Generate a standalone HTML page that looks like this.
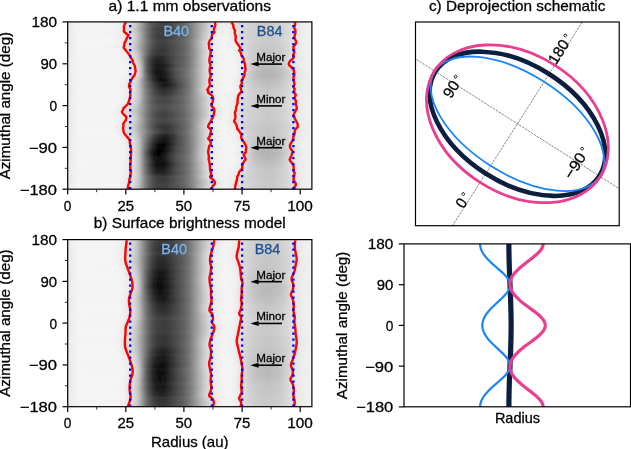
<!DOCTYPE html>
<html><head><meta charset="utf-8"><title>Deprojection figure</title>
<style>
html,body{margin:0;padding:0;background:#fff;}
body{width:631px;height:449px;overflow:hidden;}
svg{display:block;font-family:"Liberation Sans", sans-serif;}
text{stroke:#000;stroke-width:0.28px;}
text.c{stroke:none;}
</style></head><body>
<svg width="631" height="449" viewBox="0 0 631 449">
<rect width="631" height="449" fill="#fff"/>
<defs>
<linearGradient id="a0" gradientUnits="userSpaceOnUse" x1="67.7" x2="311.9" y1="0" y2="0"><stop offset=".000" stop-color="#e7e7e7"/><stop offset=".019" stop-color="#efefef"/><stop offset=".043" stop-color="#f4f4f4"/><stop offset=".190" stop-color="#f4f4f4"/><stop offset=".210" stop-color="#f0f0f0"/><stop offset=".238" stop-color="#e1e1e1"/><stop offset=".257" stop-color="#d9d9d9"/><stop offset=".267" stop-color="#d2d2d2"/><stop offset=".286" stop-color="#bcbcbc"/><stop offset=".319" stop-color="#7f7f7f"/><stop offset=".333" stop-color="#676767"/><stop offset=".352" stop-color="#505050"/><stop offset=".371" stop-color="#464646"/><stop offset=".400" stop-color="#444444"/><stop offset=".457" stop-color="#595959"/><stop offset=".476" stop-color="#646464"/><stop offset=".495" stop-color="#757575"/><stop offset=".552" stop-color="#b6b6b6"/><stop offset=".581" stop-color="#d2d2d2"/><stop offset=".600" stop-color="#e0e0e0"/><stop offset=".614" stop-color="#e8e8e8"/><stop offset=".629" stop-color="#ededed"/><stop offset=".652" stop-color="#efefef"/><stop offset=".690" stop-color="#dddddd"/><stop offset=".752" stop-color="#d0d0d0"/><stop offset=".819" stop-color="#c8c8c8"/><stop offset=".867" stop-color="#cecece"/><stop offset=".900" stop-color="#d7d7d7"/><stop offset=".933" stop-color="#e5e5e5"/><stop offset=".962" stop-color="#ededed"/><stop offset="1.000" stop-color="#f1f1f1"/></linearGradient>
<linearGradient id="a1" gradientUnits="userSpaceOnUse" x1="67.7" x2="311.9" y1="0" y2="0"><stop offset=".000" stop-color="#e7e7e7"/><stop offset=".019" stop-color="#efefef"/><stop offset=".043" stop-color="#f4f4f4"/><stop offset=".190" stop-color="#f4f4f4"/><stop offset=".210" stop-color="#f0f0f0"/><stop offset=".238" stop-color="#e2e2e2"/><stop offset=".248" stop-color="#dfdfdf"/><stop offset=".267" stop-color="#d3d3d3"/><stop offset=".286" stop-color="#bebebe"/><stop offset=".333" stop-color="#676767"/><stop offset=".352" stop-color="#4f4f4f"/><stop offset=".371" stop-color="#444444"/><stop offset=".400" stop-color="#414141"/><stop offset=".429" stop-color="#4d4d4d"/><stop offset=".476" stop-color="#676767"/><stop offset=".495" stop-color="#777777"/><stop offset=".567" stop-color="#c5c5c5"/><stop offset=".600" stop-color="#e1e1e1"/><stop offset=".629" stop-color="#ededed"/><stop offset=".652" stop-color="#eeeeee"/><stop offset=".690" stop-color="#dedede"/><stop offset=".724" stop-color="#d5d5d5"/><stop offset=".795" stop-color="#cbcbcb"/><stop offset=".819" stop-color="#c9c9c9"/><stop offset=".867" stop-color="#cfcfcf"/><stop offset=".900" stop-color="#d8d8d8"/><stop offset=".948" stop-color="#eaeaea"/><stop offset=".981" stop-color="#f0f0f0"/><stop offset="1.000" stop-color="#f1f1f1"/></linearGradient>
<linearGradient id="a2" gradientUnits="userSpaceOnUse" x1="67.7" x2="311.9" y1="0" y2="0"><stop offset=".000" stop-color="#e7e7e7"/><stop offset=".029" stop-color="#f2f2f2"/><stop offset=".043" stop-color="#f4f4f4"/><stop offset=".190" stop-color="#f3f3f3"/><stop offset=".210" stop-color="#f0f0f0"/><stop offset=".238" stop-color="#e1e1e1"/><stop offset=".257" stop-color="#d9d9d9"/><stop offset=".276" stop-color="#c9c9c9"/><stop offset=".286" stop-color="#bdbdbd"/><stop offset=".305" stop-color="#999999"/><stop offset=".333" stop-color="#676767"/><stop offset=".352" stop-color="#515151"/><stop offset=".371" stop-color="#474747"/><stop offset=".390" stop-color="#434343"/><stop offset=".400" stop-color="#434343"/><stop offset=".429" stop-color="#4c4c4c"/><stop offset=".457" stop-color="#595959"/><stop offset=".476" stop-color="#646464"/><stop offset=".495" stop-color="#757575"/><stop offset=".552" stop-color="#b6b6b6"/><stop offset=".581" stop-color="#d2d2d2"/><stop offset=".600" stop-color="#e0e0e0"/><stop offset=".629" stop-color="#ededed"/><stop offset=".652" stop-color="#eeeeee"/><stop offset=".690" stop-color="#dedede"/><stop offset=".738" stop-color="#d2d2d2"/><stop offset=".771" stop-color="#cccccc"/><stop offset=".819" stop-color="#c8c8c8"/><stop offset=".843" stop-color="#c9c9c9"/><stop offset=".886" stop-color="#d2d2d2"/><stop offset=".948" stop-color="#eaeaea"/><stop offset=".981" stop-color="#f0f0f0"/><stop offset="1.000" stop-color="#f1f1f1"/></linearGradient>
<linearGradient id="a3" gradientUnits="userSpaceOnUse" x1="67.7" x2="311.9" y1="0" y2="0"><stop offset=".000" stop-color="#e7e7e7"/><stop offset=".029" stop-color="#f2f2f2"/><stop offset=".190" stop-color="#f4f4f4"/><stop offset=".210" stop-color="#eeeeee"/><stop offset=".238" stop-color="#dfdfdf"/><stop offset=".248" stop-color="#dcdcdc"/><stop offset=".267" stop-color="#cfcfcf"/><stop offset=".276" stop-color="#c6c6c6"/><stop offset=".295" stop-color="#a6a6a6"/><stop offset=".333" stop-color="#616161"/><stop offset=".352" stop-color="#494949"/><stop offset=".371" stop-color="#3d3d3d"/><stop offset=".400" stop-color="#3a3a3a"/><stop offset=".457" stop-color="#525252"/><stop offset=".476" stop-color="#5d5d5d"/><stop offset=".495" stop-color="#707070"/><stop offset=".514" stop-color="#868686"/><stop offset=".552" stop-color="#b6b6b6"/><stop offset=".581" stop-color="#d5d5d5"/><stop offset=".600" stop-color="#e3e3e3"/><stop offset=".629" stop-color="#efefef"/><stop offset=".652" stop-color="#f1f1f1"/><stop offset=".676" stop-color="#e7e7e7"/><stop offset=".690" stop-color="#dfdfdf"/><stop offset=".752" stop-color="#d0d0d0"/><stop offset=".819" stop-color="#c9c9c9"/><stop offset=".867" stop-color="#cecece"/><stop offset=".900" stop-color="#d8d8d8"/><stop offset=".933" stop-color="#e6e6e6"/><stop offset=".981" stop-color="#f0f0f0"/><stop offset="1.000" stop-color="#f1f1f1"/></linearGradient>
<linearGradient id="a4" gradientUnits="userSpaceOnUse" x1="67.7" x2="311.9" y1="0" y2="0"><stop offset=".000" stop-color="#e7e7e7"/><stop offset=".029" stop-color="#f2f2f2"/><stop offset=".043" stop-color="#f4f4f4"/><stop offset=".210" stop-color="#f2f2f2"/><stop offset=".229" stop-color="#eaeaea"/><stop offset=".248" stop-color="#e0e0e0"/><stop offset=".267" stop-color="#d6d6d6"/><stop offset=".286" stop-color="#c1c1c1"/><stop offset=".324" stop-color="#757575"/><stop offset=".333" stop-color="#646464"/><stop offset=".352" stop-color="#4d4d4d"/><stop offset=".371" stop-color="#414141"/><stop offset=".390" stop-color="#3e3e3e"/><stop offset=".400" stop-color="#3f3f3f"/><stop offset=".443" stop-color="#515151"/><stop offset=".476" stop-color="#636363"/><stop offset=".495" stop-color="#747474"/><stop offset=".552" stop-color="#bcbcbc"/><stop offset=".567" stop-color="#cccccc"/><stop offset=".590" stop-color="#e0e0e0"/><stop offset=".614" stop-color="#ededed"/><stop offset=".652" stop-color="#f2f2f2"/><stop offset=".705" stop-color="#dcdcdc"/><stop offset=".752" stop-color="#d0d0d0"/><stop offset=".819" stop-color="#c8c8c8"/><stop offset=".867" stop-color="#cecece"/><stop offset=".900" stop-color="#d7d7d7"/><stop offset=".933" stop-color="#e5e5e5"/><stop offset=".962" stop-color="#ededed"/><stop offset=".981" stop-color="#f0f0f0"/><stop offset="1.000" stop-color="#f0f0f0"/></linearGradient>
<linearGradient id="a5" gradientUnits="userSpaceOnUse" x1="67.7" x2="311.9" y1="0" y2="0"><stop offset=".000" stop-color="#e8e8e8"/><stop offset=".029" stop-color="#f1f1f1"/><stop offset=".043" stop-color="#f4f4f4"/><stop offset=".190" stop-color="#f4f4f4"/><stop offset=".210" stop-color="#f2f2f2"/><stop offset=".257" stop-color="#dddddd"/><stop offset=".267" stop-color="#d7d7d7"/><stop offset=".276" stop-color="#cecece"/><stop offset=".286" stop-color="#c2c2c2"/><stop offset=".324" stop-color="#737373"/><stop offset=".333" stop-color="#626262"/><stop offset=".352" stop-color="#494949"/><stop offset=".371" stop-color="#3c3c3c"/><stop offset=".400" stop-color="#3a3a3a"/><stop offset=".429" stop-color="#464646"/><stop offset=".443" stop-color="#4f4f4f"/><stop offset=".457" stop-color="#555555"/><stop offset=".476" stop-color="#616161"/><stop offset=".495" stop-color="#727272"/><stop offset=".514" stop-color="#8a8a8a"/><stop offset=".552" stop-color="#bebebe"/><stop offset=".567" stop-color="#cfcfcf"/><stop offset=".590" stop-color="#e3e3e3"/><stop offset=".614" stop-color="#eeeeee"/><stop offset=".629" stop-color="#f2f2f2"/><stop offset=".652" stop-color="#f3f3f3"/><stop offset=".676" stop-color="#ebebeb"/><stop offset=".705" stop-color="#dddddd"/><stop offset=".752" stop-color="#d0d0d0"/><stop offset=".819" stop-color="#c9c9c9"/><stop offset=".867" stop-color="#cfcfcf"/><stop offset=".914" stop-color="#dedede"/><stop offset=".948" stop-color="#eaeaea"/><stop offset=".981" stop-color="#f0f0f0"/><stop offset="1.000" stop-color="#f1f1f1"/></linearGradient>
<linearGradient id="a6" gradientUnits="userSpaceOnUse" x1="67.7" x2="311.9" y1="0" y2="0"><stop offset=".000" stop-color="#e7e7e7"/><stop offset=".019" stop-color="#efefef"/><stop offset=".043" stop-color="#f4f4f4"/><stop offset=".190" stop-color="#f4f4f4"/><stop offset=".210" stop-color="#f0f0f0"/><stop offset=".257" stop-color="#d9d9d9"/><stop offset=".267" stop-color="#d2d2d2"/><stop offset=".286" stop-color="#bcbcbc"/><stop offset=".324" stop-color="#757575"/><stop offset=".333" stop-color="#656565"/><stop offset=".352" stop-color="#4e4e4e"/><stop offset=".371" stop-color="#424242"/><stop offset=".390" stop-color="#404040"/><stop offset=".400" stop-color="#414141"/><stop offset=".457" stop-color="#595959"/><stop offset=".476" stop-color="#646464"/><stop offset=".495" stop-color="#757575"/><stop offset=".514" stop-color="#8e8e8e"/><stop offset=".533" stop-color="#adadad"/><stop offset=".552" stop-color="#c9c9c9"/><stop offset=".567" stop-color="#dadada"/><stop offset=".590" stop-color="#e9e9e9"/><stop offset=".600" stop-color="#eeeeee"/><stop offset=".614" stop-color="#f2f2f2"/><stop offset=".652" stop-color="#f3f3f3"/><stop offset=".676" stop-color="#ededed"/><stop offset=".705" stop-color="#dedede"/><stop offset=".752" stop-color="#d1d1d1"/><stop offset=".795" stop-color="#cacaca"/><stop offset=".819" stop-color="#c8c8c8"/><stop offset=".867" stop-color="#cecece"/><stop offset=".900" stop-color="#d6d6d6"/><stop offset=".948" stop-color="#e9e9e9"/><stop offset=".962" stop-color="#ededed"/><stop offset="1.000" stop-color="#f0f0f0"/></linearGradient>
<linearGradient id="a7" gradientUnits="userSpaceOnUse" x1="67.7" x2="311.9" y1="0" y2="0"><stop offset=".000" stop-color="#e7e7e7"/><stop offset=".029" stop-color="#f2f2f2"/><stop offset=".043" stop-color="#f4f4f4"/><stop offset=".190" stop-color="#f3f3f3"/><stop offset=".210" stop-color="#efefef"/><stop offset=".238" stop-color="#e0e0e0"/><stop offset=".257" stop-color="#d7d7d7"/><stop offset=".276" stop-color="#c6c6c6"/><stop offset=".290" stop-color="#b0b0b0"/><stop offset=".324" stop-color="#727272"/><stop offset=".343" stop-color="#545454"/><stop offset=".352" stop-color="#484848"/><stop offset=".371" stop-color="#3d3d3d"/><stop offset=".390" stop-color="#3a3a3a"/><stop offset=".400" stop-color="#3c3c3c"/><stop offset=".457" stop-color="#575757"/><stop offset=".476" stop-color="#626262"/><stop offset=".495" stop-color="#747474"/><stop offset=".514" stop-color="#8d8d8d"/><stop offset=".552" stop-color="#c8c8c8"/><stop offset=".567" stop-color="#d8d8d8"/><stop offset=".581" stop-color="#e4e4e4"/><stop offset=".614" stop-color="#f1f1f1"/><stop offset=".652" stop-color="#f4f4f4"/><stop offset=".676" stop-color="#f1f1f1"/><stop offset=".690" stop-color="#ededed"/><stop offset=".714" stop-color="#dedede"/><stop offset=".752" stop-color="#cfcfcf"/><stop offset=".795" stop-color="#c7c7c7"/><stop offset=".843" stop-color="#c7c7c7"/><stop offset=".867" stop-color="#cbcbcb"/><stop offset=".900" stop-color="#d7d7d7"/><stop offset=".933" stop-color="#e7e7e7"/><stop offset=".962" stop-color="#eeeeee"/><stop offset="1.000" stop-color="#f1f1f1"/></linearGradient>
<linearGradient id="a8" gradientUnits="userSpaceOnUse" x1="67.7" x2="311.9" y1="0" y2="0"><stop offset=".000" stop-color="#e8e8e8"/><stop offset=".029" stop-color="#f1f1f1"/><stop offset=".043" stop-color="#f4f4f4"/><stop offset=".210" stop-color="#f3f3f3"/><stop offset=".229" stop-color="#ececec"/><stop offset=".267" stop-color="#d7d7d7"/><stop offset=".276" stop-color="#cecece"/><stop offset=".290" stop-color="#b9b9b9"/><stop offset=".319" stop-color="#777777"/><stop offset=".333" stop-color="#5a5a5a"/><stop offset=".352" stop-color="#414141"/><stop offset=".362" stop-color="#3a3a3a"/><stop offset=".371" stop-color="#363636"/><stop offset=".390" stop-color="#383838"/><stop offset=".400" stop-color="#3a3a3a"/><stop offset=".443" stop-color="#535353"/><stop offset=".457" stop-color="#595959"/><stop offset=".476" stop-color="#646464"/><stop offset=".495" stop-color="#757575"/><stop offset=".514" stop-color="#8d8d8d"/><stop offset=".552" stop-color="#c3c3c3"/><stop offset=".567" stop-color="#d4d4d4"/><stop offset=".590" stop-color="#e6e6e6"/><stop offset=".600" stop-color="#ebebeb"/><stop offset=".629" stop-color="#f2f2f2"/><stop offset=".652" stop-color="#f4f4f4"/><stop offset=".676" stop-color="#f2f2f2"/><stop offset=".690" stop-color="#ededed"/><stop offset=".714" stop-color="#dedede"/><stop offset=".752" stop-color="#cfcfcf"/><stop offset=".795" stop-color="#c5c5c5"/><stop offset=".819" stop-color="#c4c4c4"/><stop offset=".867" stop-color="#cacaca"/><stop offset=".900" stop-color="#d6d6d6"/><stop offset=".924" stop-color="#e2e2e2"/><stop offset=".962" stop-color="#ededed"/><stop offset="1.000" stop-color="#f1f1f1"/></linearGradient>
<linearGradient id="a9" gradientUnits="userSpaceOnUse" x1="67.7" x2="311.9" y1="0" y2="0"><stop offset=".000" stop-color="#e7e7e7"/><stop offset=".029" stop-color="#f1f1f1"/><stop offset=".043" stop-color="#f3f3f3"/><stop offset=".210" stop-color="#f3f3f3"/><stop offset=".238" stop-color="#ededed"/><stop offset=".267" stop-color="#dedede"/><stop offset=".276" stop-color="#d5d5d5"/><stop offset=".286" stop-color="#c9c9c9"/><stop offset=".295" stop-color="#b6b6b6"/><stop offset=".319" stop-color="#6e6e6e"/><stop offset=".333" stop-color="#4e4e4e"/><stop offset=".343" stop-color="#3e3e3e"/><stop offset=".352" stop-color="#313131"/><stop offset=".371" stop-color="#272727"/><stop offset=".390" stop-color="#2b2b2b"/><stop offset=".414" stop-color="#3a3a3a"/><stop offset=".443" stop-color="#4d4d4d"/><stop offset=".476" stop-color="#606060"/><stop offset=".495" stop-color="#727272"/><stop offset=".514" stop-color="#8b8b8b"/><stop offset=".552" stop-color="#c4c4c4"/><stop offset=".567" stop-color="#d6d6d6"/><stop offset=".581" stop-color="#e2e2e2"/><stop offset=".614" stop-color="#f0f0f0"/><stop offset=".629" stop-color="#f3f3f3"/><stop offset=".676" stop-color="#f3f3f3"/><stop offset=".690" stop-color="#f0f0f0"/><stop offset=".705" stop-color="#e9e9e9"/><stop offset=".724" stop-color="#dddddd"/><stop offset=".752" stop-color="#cfcfcf"/><stop offset=".771" stop-color="#c9c9c9"/><stop offset=".819" stop-color="#c2c2c2"/><stop offset=".843" stop-color="#c4c4c4"/><stop offset=".867" stop-color="#c9c9c9"/><stop offset=".900" stop-color="#d5d5d5"/><stop offset=".933" stop-color="#e6e6e6"/><stop offset=".981" stop-color="#f0f0f0"/><stop offset="1.000" stop-color="#f1f1f1"/></linearGradient>
<linearGradient id="a10" gradientUnits="userSpaceOnUse" x1="67.7" x2="311.9" y1="0" y2="0"><stop offset=".000" stop-color="#e7e7e7"/><stop offset=".029" stop-color="#f2f2f2"/><stop offset=".114" stop-color="#f4f4f4"/><stop offset=".229" stop-color="#f3f3f3"/><stop offset=".248" stop-color="#eeeeee"/><stop offset=".276" stop-color="#dcdcdc"/><stop offset=".286" stop-color="#d1d1d1"/><stop offset=".290" stop-color="#c9c9c9"/><stop offset=".295" stop-color="#bebebe"/><stop offset=".305" stop-color="#9f9f9f"/><stop offset=".319" stop-color="#696969"/><stop offset=".333" stop-color="#464646"/><stop offset=".352" stop-color="#282828"/><stop offset=".371" stop-color="#1e1e1e"/><stop offset=".390" stop-color="#262626"/><stop offset=".400" stop-color="#2d2d2d"/><stop offset=".429" stop-color="#474747"/><stop offset=".443" stop-color="#525252"/><stop offset=".476" stop-color="#656565"/><stop offset=".495" stop-color="#767676"/><stop offset=".552" stop-color="#c7c7c7"/><stop offset=".567" stop-color="#d8d8d8"/><stop offset=".581" stop-color="#e4e4e4"/><stop offset=".600" stop-color="#ededed"/><stop offset=".629" stop-color="#f3f3f3"/><stop offset=".676" stop-color="#f3f3f3"/><stop offset=".705" stop-color="#ececec"/><stop offset=".738" stop-color="#d5d5d5"/><stop offset=".752" stop-color="#cdcdcd"/><stop offset=".771" stop-color="#c6c6c6"/><stop offset=".795" stop-color="#c0c0c0"/><stop offset=".819" stop-color="#bebebe"/><stop offset=".843" stop-color="#bfbfbf"/><stop offset=".867" stop-color="#c6c6c6"/><stop offset=".914" stop-color="#e3e3e3"/><stop offset=".933" stop-color="#e9e9e9"/><stop offset=".981" stop-color="#f1f1f1"/><stop offset="1.000" stop-color="#f1f1f1"/></linearGradient>
<linearGradient id="a11" gradientUnits="userSpaceOnUse" x1="67.7" x2="311.9" y1="0" y2="0"><stop offset=".000" stop-color="#e7e7e7"/><stop offset=".029" stop-color="#f1f1f1"/><stop offset=".043" stop-color="#f4f4f4"/><stop offset=".229" stop-color="#f4f4f4"/><stop offset=".248" stop-color="#f0f0f0"/><stop offset=".257" stop-color="#ececec"/><stop offset=".286" stop-color="#d9d9d9"/><stop offset=".290" stop-color="#d2d2d2"/><stop offset=".295" stop-color="#c8c8c8"/><stop offset=".305" stop-color="#aaaaaa"/><stop offset=".319" stop-color="#686868"/><stop offset=".333" stop-color="#444444"/><stop offset=".343" stop-color="#313131"/><stop offset=".352" stop-color="#212121"/><stop offset=".362" stop-color="#181818"/><stop offset=".371" stop-color="#131313"/><stop offset=".381" stop-color="#141414"/><stop offset=".390" stop-color="#181818"/><stop offset=".400" stop-color="#1f1f1f"/><stop offset=".429" stop-color="#3d3d3d"/><stop offset=".443" stop-color="#4a4a4a"/><stop offset=".476" stop-color="#616161"/><stop offset=".495" stop-color="#727272"/><stop offset=".514" stop-color="#8b8b8b"/><stop offset=".552" stop-color="#c3c3c3"/><stop offset=".567" stop-color="#d5d5d5"/><stop offset=".590" stop-color="#e6e6e6"/><stop offset=".614" stop-color="#efefef"/><stop offset=".652" stop-color="#f4f4f4"/><stop offset=".690" stop-color="#f3f3f3"/><stop offset=".714" stop-color="#e8e8e8"/><stop offset=".752" stop-color="#cbcbcb"/><stop offset=".771" stop-color="#c1c1c1"/><stop offset=".795" stop-color="#bbbbbb"/><stop offset=".819" stop-color="#b9b9b9"/><stop offset=".843" stop-color="#bbbbbb"/><stop offset=".867" stop-color="#c2c2c2"/><stop offset=".914" stop-color="#e0e0e0"/><stop offset=".933" stop-color="#e8e8e8"/><stop offset=".981" stop-color="#f0f0f0"/><stop offset="1.000" stop-color="#f1f1f1"/></linearGradient>
<linearGradient id="a12" gradientUnits="userSpaceOnUse" x1="67.7" x2="311.9" y1="0" y2="0"><stop offset=".000" stop-color="#e7e7e7"/><stop offset=".029" stop-color="#f2f2f2"/><stop offset=".114" stop-color="#f4f4f4"/><stop offset=".238" stop-color="#f3f3f3"/><stop offset=".257" stop-color="#ededed"/><stop offset=".276" stop-color="#e1e1e1"/><stop offset=".290" stop-color="#d5d5d5"/><stop offset=".295" stop-color="#cbcbcb"/><stop offset=".305" stop-color="#afafaf"/><stop offset=".314" stop-color="#7e7e7e"/><stop offset=".319" stop-color="#686868"/><stop offset=".333" stop-color="#424242"/><stop offset=".352" stop-color="#1e1e1e"/><stop offset=".362" stop-color="#151515"/><stop offset=".371" stop-color="#111111"/><stop offset=".381" stop-color="#131313"/><stop offset=".400" stop-color="#232323"/><stop offset=".429" stop-color="#454545"/><stop offset=".443" stop-color="#535353"/><stop offset=".476" stop-color="#686868"/><stop offset=".495" stop-color="#797979"/><stop offset=".514" stop-color="#929292"/><stop offset=".552" stop-color="#c8c8c8"/><stop offset=".567" stop-color="#d8d8d8"/><stop offset=".581" stop-color="#e4e4e4"/><stop offset=".600" stop-color="#ededed"/><stop offset=".629" stop-color="#f3f3f3"/><stop offset=".676" stop-color="#f4f4f4"/><stop offset=".690" stop-color="#f2f2f2"/><stop offset=".714" stop-color="#e8e8e8"/><stop offset=".752" stop-color="#c8c8c8"/><stop offset=".771" stop-color="#bebebe"/><stop offset=".795" stop-color="#b8b8b8"/><stop offset=".819" stop-color="#b5b5b5"/><stop offset=".843" stop-color="#b7b7b7"/><stop offset=".886" stop-color="#c5c5c5"/><stop offset=".924" stop-color="#dcdcdc"/><stop offset=".948" stop-color="#e7e7e7"/><stop offset=".981" stop-color="#eeeeee"/><stop offset="1.000" stop-color="#f0f0f0"/></linearGradient>
<linearGradient id="a13" gradientUnits="userSpaceOnUse" x1="67.7" x2="311.9" y1="0" y2="0"><stop offset=".000" stop-color="#e7e7e7"/><stop offset=".029" stop-color="#f2f2f2"/><stop offset=".043" stop-color="#f4f4f4"/><stop offset=".229" stop-color="#f4f4f4"/><stop offset=".248" stop-color="#f0f0f0"/><stop offset=".276" stop-color="#e1e1e1"/><stop offset=".286" stop-color="#dadada"/><stop offset=".295" stop-color="#cbcbcb"/><stop offset=".305" stop-color="#adadad"/><stop offset=".319" stop-color="#707070"/><stop offset=".333" stop-color="#4d4d4d"/><stop offset=".352" stop-color="#252525"/><stop offset=".362" stop-color="#1a1a1a"/><stop offset=".371" stop-color="#131313"/><stop offset=".381" stop-color="#111111"/><stop offset=".400" stop-color="#1c1c1c"/><stop offset=".429" stop-color="#404040"/><stop offset=".443" stop-color="#505050"/><stop offset=".476" stop-color="#6a6a6a"/><stop offset=".495" stop-color="#7b7b7b"/><stop offset=".514" stop-color="#929292"/><stop offset=".552" stop-color="#c6c6c6"/><stop offset=".567" stop-color="#d6d6d6"/><stop offset=".590" stop-color="#e7e7e7"/><stop offset=".614" stop-color="#f0f0f0"/><stop offset=".629" stop-color="#f3f3f3"/><stop offset=".690" stop-color="#f2f2f2"/><stop offset=".705" stop-color="#ebebeb"/><stop offset=".738" stop-color="#cfcfcf"/><stop offset=".771" stop-color="#bababa"/><stop offset=".795" stop-color="#b4b4b4"/><stop offset=".819" stop-color="#b1b1b1"/><stop offset=".843" stop-color="#b4b4b4"/><stop offset=".867" stop-color="#bababa"/><stop offset=".900" stop-color="#cacaca"/><stop offset=".933" stop-color="#dfdfdf"/><stop offset=".948" stop-color="#e6e6e6"/><stop offset=".981" stop-color="#eeeeee"/><stop offset="1.000" stop-color="#f0f0f0"/></linearGradient>
<linearGradient id="a14" gradientUnits="userSpaceOnUse" x1="67.7" x2="311.9" y1="0" y2="0"><stop offset=".000" stop-color="#e7e7e7"/><stop offset=".019" stop-color="#efefef"/><stop offset=".043" stop-color="#f4f4f4"/><stop offset=".210" stop-color="#f4f4f4"/><stop offset=".238" stop-color="#f0f0f0"/><stop offset=".257" stop-color="#e4e4e4"/><stop offset=".276" stop-color="#dadada"/><stop offset=".286" stop-color="#cfcfcf"/><stop offset=".295" stop-color="#bebebe"/><stop offset=".314" stop-color="#828282"/><stop offset=".319" stop-color="#727272"/><stop offset=".324" stop-color="#686868"/><stop offset=".333" stop-color="#505050"/><stop offset=".352" stop-color="#2a2a2a"/><stop offset=".371" stop-color="#121212"/><stop offset=".381" stop-color="#0e0e0e"/><stop offset=".400" stop-color="#121212"/><stop offset=".443" stop-color="#454545"/><stop offset=".495" stop-color="#747474"/><stop offset=".514" stop-color="#8e8e8e"/><stop offset=".533" stop-color="#acacac"/><stop offset=".552" stop-color="#c7c7c7"/><stop offset=".567" stop-color="#d8d8d8"/><stop offset=".581" stop-color="#e3e3e3"/><stop offset=".600" stop-color="#ededed"/><stop offset=".629" stop-color="#f3f3f3"/><stop offset=".676" stop-color="#f3f3f3"/><stop offset=".690" stop-color="#eeeeee"/><stop offset=".705" stop-color="#e5e5e5"/><stop offset=".724" stop-color="#d6d6d6"/><stop offset=".752" stop-color="#c6c6c6"/><stop offset=".771" stop-color="#bfbfbf"/><stop offset=".795" stop-color="#b9b9b9"/><stop offset=".819" stop-color="#b7b7b7"/><stop offset=".867" stop-color="#bfbfbf"/><stop offset=".900" stop-color="#cecece"/><stop offset=".924" stop-color="#dedede"/><stop offset=".962" stop-color="#ececec"/><stop offset="1.000" stop-color="#f1f1f1"/></linearGradient>
<linearGradient id="a15" gradientUnits="userSpaceOnUse" x1="67.7" x2="311.9" y1="0" y2="0"><stop offset=".000" stop-color="#e7e7e7"/><stop offset=".029" stop-color="#f2f2f2"/><stop offset=".190" stop-color="#f4f4f4"/><stop offset=".210" stop-color="#f3f3f3"/><stop offset=".229" stop-color="#efefef"/><stop offset=".267" stop-color="#dddddd"/><stop offset=".276" stop-color="#d5d5d5"/><stop offset=".290" stop-color="#c2c2c2"/><stop offset=".295" stop-color="#b8b8b8"/><stop offset=".319" stop-color="#7c7c7c"/><stop offset=".333" stop-color="#5f5f5f"/><stop offset=".352" stop-color="#3d3d3d"/><stop offset=".371" stop-color="#242424"/><stop offset=".390" stop-color="#161616"/><stop offset=".400" stop-color="#141414"/><stop offset=".414" stop-color="#1c1c1c"/><stop offset=".429" stop-color="#292929"/><stop offset=".457" stop-color="#4a4a4a"/><stop offset=".495" stop-color="#727272"/><stop offset=".552" stop-color="#c5c5c5"/><stop offset=".567" stop-color="#d6d6d6"/><stop offset=".590" stop-color="#e7e7e7"/><stop offset=".614" stop-color="#f1f1f1"/><stop offset=".652" stop-color="#f4f4f4"/><stop offset=".676" stop-color="#f2f2f2"/><stop offset=".690" stop-color="#ededed"/><stop offset=".724" stop-color="#d7d7d7"/><stop offset=".752" stop-color="#cacaca"/><stop offset=".795" stop-color="#c0c0c0"/><stop offset=".819" stop-color="#bdbdbd"/><stop offset=".867" stop-color="#c5c5c5"/><stop offset=".886" stop-color="#cbcbcb"/><stop offset=".933" stop-color="#e3e3e3"/><stop offset=".962" stop-color="#ececec"/><stop offset="1.000" stop-color="#f0f0f0"/></linearGradient>
<linearGradient id="a16" gradientUnits="userSpaceOnUse" x1="67.7" x2="311.9" y1="0" y2="0"><stop offset=".000" stop-color="#e8e8e8"/><stop offset=".043" stop-color="#f4f4f4"/><stop offset=".210" stop-color="#f4f4f4"/><stop offset=".238" stop-color="#ededed"/><stop offset=".267" stop-color="#e0e0e0"/><stop offset=".276" stop-color="#d9d9d9"/><stop offset=".286" stop-color="#cecece"/><stop offset=".295" stop-color="#bebebe"/><stop offset=".319" stop-color="#7f7f7f"/><stop offset=".333" stop-color="#656565"/><stop offset=".352" stop-color="#484848"/><stop offset=".371" stop-color="#333333"/><stop offset=".390" stop-color="#292929"/><stop offset=".400" stop-color="#272727"/><stop offset=".414" stop-color="#2e2e2e"/><stop offset=".429" stop-color="#383838"/><stop offset=".476" stop-color="#616161"/><stop offset=".495" stop-color="#747474"/><stop offset=".514" stop-color="#909090"/><stop offset=".533" stop-color="#b1b1b1"/><stop offset=".552" stop-color="#cfcfcf"/><stop offset=".567" stop-color="#dfdfdf"/><stop offset=".590" stop-color="#ebebeb"/><stop offset=".614" stop-color="#f2f2f2"/><stop offset=".652" stop-color="#f4f4f4"/><stop offset=".676" stop-color="#f2f2f2"/><stop offset=".690" stop-color="#eeeeee"/><stop offset=".724" stop-color="#dadada"/><stop offset=".752" stop-color="#cfcfcf"/><stop offset=".795" stop-color="#c6c6c6"/><stop offset=".819" stop-color="#c4c4c4"/><stop offset=".843" stop-color="#c5c5c5"/><stop offset=".886" stop-color="#d0d0d0"/><stop offset=".924" stop-color="#e0e0e0"/><stop offset=".948" stop-color="#eaeaea"/><stop offset="1.000" stop-color="#f1f1f1"/></linearGradient>
<linearGradient id="a17" gradientUnits="userSpaceOnUse" x1="67.7" x2="311.9" y1="0" y2="0"><stop offset=".000" stop-color="#e7e7e7"/><stop offset=".029" stop-color="#f1f1f1"/><stop offset=".043" stop-color="#f4f4f4"/><stop offset=".210" stop-color="#f3f3f3"/><stop offset=".229" stop-color="#f1f1f1"/><stop offset=".238" stop-color="#eeeeee"/><stop offset=".267" stop-color="#dfdfdf"/><stop offset=".276" stop-color="#d8d8d8"/><stop offset=".290" stop-color="#c6c6c6"/><stop offset=".295" stop-color="#bebebe"/><stop offset=".319" stop-color="#818181"/><stop offset=".333" stop-color="#676767"/><stop offset=".352" stop-color="#4c4c4c"/><stop offset=".371" stop-color="#3b3b3b"/><stop offset=".390" stop-color="#333333"/><stop offset=".400" stop-color="#333333"/><stop offset=".429" stop-color="#414141"/><stop offset=".443" stop-color="#4d4d4d"/><stop offset=".476" stop-color="#646464"/><stop offset=".495" stop-color="#777777"/><stop offset=".514" stop-color="#8f8f8f"/><stop offset=".552" stop-color="#c5c5c5"/><stop offset=".567" stop-color="#d6d6d6"/><stop offset=".590" stop-color="#e7e7e7"/><stop offset=".600" stop-color="#ececec"/><stop offset=".629" stop-color="#f3f3f3"/><stop offset=".676" stop-color="#f1f1f1"/><stop offset=".690" stop-color="#ececec"/><stop offset=".714" stop-color="#dedede"/><stop offset=".752" stop-color="#d1d1d1"/><stop offset=".795" stop-color="#cacaca"/><stop offset=".819" stop-color="#c8c8c8"/><stop offset=".867" stop-color="#cecece"/><stop offset=".900" stop-color="#d7d7d7"/><stop offset=".933" stop-color="#e5e5e5"/><stop offset=".962" stop-color="#ededed"/><stop offset="1.000" stop-color="#f1f1f1"/></linearGradient>
<linearGradient id="a18" gradientUnits="userSpaceOnUse" x1="67.7" x2="311.9" y1="0" y2="0"><stop offset=".000" stop-color="#e7e7e7"/><stop offset=".019" stop-color="#efefef"/><stop offset=".043" stop-color="#f3f3f3"/><stop offset=".210" stop-color="#f4f4f4"/><stop offset=".238" stop-color="#ededed"/><stop offset=".257" stop-color="#e3e3e3"/><stop offset=".267" stop-color="#dfdfdf"/><stop offset=".276" stop-color="#d8d8d8"/><stop offset=".286" stop-color="#cecece"/><stop offset=".295" stop-color="#bebebe"/><stop offset=".305" stop-color="#a6a6a6"/><stop offset=".319" stop-color="#868686"/><stop offset=".333" stop-color="#6f6f6f"/><stop offset=".352" stop-color="#575757"/><stop offset=".371" stop-color="#4a4a4a"/><stop offset=".400" stop-color="#454545"/><stop offset=".429" stop-color="#515151"/><stop offset=".457" stop-color="#606060"/><stop offset=".476" stop-color="#6c6c6c"/><stop offset=".495" stop-color="#7d7d7d"/><stop offset=".567" stop-color="#cdcdcd"/><stop offset=".590" stop-color="#e1e1e1"/><stop offset=".629" stop-color="#f1f1f1"/><stop offset=".652" stop-color="#f3f3f3"/><stop offset=".676" stop-color="#efefef"/><stop offset=".705" stop-color="#dfdfdf"/><stop offset=".724" stop-color="#d7d7d7"/><stop offset=".795" stop-color="#c8c8c8"/><stop offset=".819" stop-color="#c7c7c7"/><stop offset=".867" stop-color="#cdcdcd"/><stop offset=".900" stop-color="#d7d7d7"/><stop offset=".933" stop-color="#e6e6e6"/><stop offset=".962" stop-color="#ededed"/><stop offset="1.000" stop-color="#f1f1f1"/></linearGradient>
<linearGradient id="a19" gradientUnits="userSpaceOnUse" x1="67.7" x2="311.9" y1="0" y2="0"><stop offset=".000" stop-color="#e7e7e7"/><stop offset=".029" stop-color="#f1f1f1"/><stop offset=".043" stop-color="#f4f4f4"/><stop offset=".210" stop-color="#f3f3f3"/><stop offset=".229" stop-color="#eeeeee"/><stop offset=".248" stop-color="#e3e3e3"/><stop offset=".257" stop-color="#e0e0e0"/><stop offset=".276" stop-color="#d3d3d3"/><stop offset=".290" stop-color="#c1c1c1"/><stop offset=".305" stop-color="#a0a0a0"/><stop offset=".319" stop-color="#828282"/><stop offset=".333" stop-color="#6a6a6a"/><stop offset=".352" stop-color="#545454"/><stop offset=".371" stop-color="#494949"/><stop offset=".400" stop-color="#464646"/><stop offset=".429" stop-color="#505050"/><stop offset=".457" stop-color="#5c5c5c"/><stop offset=".476" stop-color="#686868"/><stop offset=".495" stop-color="#787878"/><stop offset=".514" stop-color="#8e8e8e"/><stop offset=".533" stop-color="#a9a9a9"/><stop offset=".567" stop-color="#d0d0d0"/><stop offset=".590" stop-color="#e3e3e3"/><stop offset=".614" stop-color="#eeeeee"/><stop offset=".629" stop-color="#f2f2f2"/><stop offset=".652" stop-color="#f3f3f3"/><stop offset=".676" stop-color="#eeeeee"/><stop offset=".705" stop-color="#dfdfdf"/><stop offset=".752" stop-color="#d1d1d1"/><stop offset=".795" stop-color="#cbcbcb"/><stop offset=".843" stop-color="#cbcbcb"/><stop offset=".886" stop-color="#d3d3d3"/><stop offset=".948" stop-color="#eaeaea"/><stop offset="1.000" stop-color="#f1f1f1"/></linearGradient>
<linearGradient id="a20" gradientUnits="userSpaceOnUse" x1="67.7" x2="311.9" y1="0" y2="0"><stop offset=".000" stop-color="#e7e7e7"/><stop offset=".019" stop-color="#efefef"/><stop offset=".043" stop-color="#f4f4f4"/><stop offset=".190" stop-color="#f4f4f4"/><stop offset=".210" stop-color="#eeeeee"/><stop offset=".229" stop-color="#e4e4e4"/><stop offset=".257" stop-color="#d8d8d8"/><stop offset=".267" stop-color="#d2d2d2"/><stop offset=".286" stop-color="#bdbdbd"/><stop offset=".314" stop-color="#8d8d8d"/><stop offset=".333" stop-color="#6f6f6f"/><stop offset=".352" stop-color="#5a5a5a"/><stop offset=".371" stop-color="#505050"/><stop offset=".400" stop-color="#4c4c4c"/><stop offset=".457" stop-color="#606060"/><stop offset=".476" stop-color="#6b6b6b"/><stop offset=".495" stop-color="#7b7b7b"/><stop offset=".567" stop-color="#cccccc"/><stop offset=".581" stop-color="#d9d9d9"/><stop offset=".614" stop-color="#ececec"/><stop offset=".629" stop-color="#f0f0f0"/><stop offset=".652" stop-color="#f2f2f2"/><stop offset=".676" stop-color="#ececec"/><stop offset=".705" stop-color="#dddddd"/><stop offset=".752" stop-color="#d1d1d1"/><stop offset=".819" stop-color="#cacaca"/><stop offset=".867" stop-color="#cfcfcf"/><stop offset=".900" stop-color="#d7d7d7"/><stop offset=".948" stop-color="#e9e9e9"/><stop offset=".981" stop-color="#efefef"/><stop offset="1.000" stop-color="#f0f0f0"/></linearGradient>
<linearGradient id="a21" gradientUnits="userSpaceOnUse" x1="67.7" x2="311.9" y1="0" y2="0"><stop offset=".000" stop-color="#e7e7e7"/><stop offset=".029" stop-color="#f1f1f1"/><stop offset=".043" stop-color="#f4f4f4"/><stop offset=".190" stop-color="#f2f2f2"/><stop offset=".210" stop-color="#ececec"/><stop offset=".229" stop-color="#e2e2e2"/><stop offset=".257" stop-color="#d6d6d6"/><stop offset=".276" stop-color="#c5c5c5"/><stop offset=".324" stop-color="#7a7a7a"/><stop offset=".333" stop-color="#6a6a6a"/><stop offset=".352" stop-color="#535353"/><stop offset=".371" stop-color="#474747"/><stop offset=".381" stop-color="#444444"/><stop offset=".400" stop-color="#434343"/><stop offset=".457" stop-color="#5b5b5b"/><stop offset=".476" stop-color="#666666"/><stop offset=".495" stop-color="#777777"/><stop offset=".514" stop-color="#8c8c8c"/><stop offset=".552" stop-color="#bababa"/><stop offset=".581" stop-color="#d7d7d7"/><stop offset=".590" stop-color="#dcdcdc"/><stop offset=".600" stop-color="#e4e4e4"/><stop offset=".614" stop-color="#ebebeb"/><stop offset=".629" stop-color="#efefef"/><stop offset=".652" stop-color="#f2f2f2"/><stop offset=".676" stop-color="#e9e9e9"/><stop offset=".690" stop-color="#e0e0e0"/><stop offset=".752" stop-color="#cfcfcf"/><stop offset=".819" stop-color="#c7c7c7"/><stop offset=".867" stop-color="#cdcdcd"/><stop offset=".900" stop-color="#d7d7d7"/><stop offset=".948" stop-color="#eaeaea"/><stop offset=".981" stop-color="#f0f0f0"/><stop offset="1.000" stop-color="#f1f1f1"/></linearGradient>
<linearGradient id="a22" gradientUnits="userSpaceOnUse" x1="67.7" x2="311.9" y1="0" y2="0"><stop offset=".000" stop-color="#e7e7e7"/><stop offset=".019" stop-color="#efefef"/><stop offset=".043" stop-color="#f4f4f4"/><stop offset=".190" stop-color="#f3f3f3"/><stop offset=".210" stop-color="#f1f1f1"/><stop offset=".229" stop-color="#eaeaea"/><stop offset=".248" stop-color="#e0e0e0"/><stop offset=".267" stop-color="#d7d7d7"/><stop offset=".286" stop-color="#c3c3c3"/><stop offset=".319" stop-color="#828282"/><stop offset=".333" stop-color="#6b6b6b"/><stop offset=".352" stop-color="#545454"/><stop offset=".371" stop-color="#464646"/><stop offset=".390" stop-color="#424242"/><stop offset=".400" stop-color="#414141"/><stop offset=".429" stop-color="#4c4c4c"/><stop offset=".476" stop-color="#666666"/><stop offset=".495" stop-color="#777777"/><stop offset=".514" stop-color="#8d8d8d"/><stop offset=".533" stop-color="#a6a6a6"/><stop offset=".567" stop-color="#cccccc"/><stop offset=".590" stop-color="#e1e1e1"/><stop offset=".629" stop-color="#f1f1f1"/><stop offset=".652" stop-color="#f2f2f2"/><stop offset=".676" stop-color="#eaeaea"/><stop offset=".714" stop-color="#dadada"/><stop offset=".738" stop-color="#d3d3d3"/><stop offset=".819" stop-color="#c9c9c9"/><stop offset=".867" stop-color="#cfcfcf"/><stop offset=".900" stop-color="#d9d9d9"/><stop offset=".948" stop-color="#ebebeb"/><stop offset="1.000" stop-color="#f2f2f2"/></linearGradient>
<linearGradient id="a23" gradientUnits="userSpaceOnUse" x1="67.7" x2="311.9" y1="0" y2="0"><stop offset=".000" stop-color="#e8e8e8"/><stop offset=".029" stop-color="#f1f1f1"/><stop offset=".043" stop-color="#f3f3f3"/><stop offset=".190" stop-color="#f4f4f4"/><stop offset=".210" stop-color="#efefef"/><stop offset=".238" stop-color="#e1e1e1"/><stop offset=".248" stop-color="#dedede"/><stop offset=".267" stop-color="#d2d2d2"/><stop offset=".276" stop-color="#cacaca"/><stop offset=".286" stop-color="#bdbdbd"/><stop offset=".305" stop-color="#9b9b9b"/><stop offset=".333" stop-color="#6a6a6a"/><stop offset=".352" stop-color="#555555"/><stop offset=".371" stop-color="#484848"/><stop offset=".390" stop-color="#444444"/><stop offset=".400" stop-color="#444444"/><stop offset=".429" stop-color="#4c4c4c"/><stop offset=".476" stop-color="#656565"/><stop offset=".495" stop-color="#767676"/><stop offset=".514" stop-color="#8e8e8e"/><stop offset=".552" stop-color="#c3c3c3"/><stop offset=".567" stop-color="#d5d5d5"/><stop offset=".590" stop-color="#e6e6e6"/><stop offset=".614" stop-color="#efefef"/><stop offset=".629" stop-color="#f2f2f2"/><stop offset=".652" stop-color="#f2f2f2"/><stop offset=".690" stop-color="#dfdfdf"/><stop offset=".738" stop-color="#d1d1d1"/><stop offset=".795" stop-color="#c8c8c8"/><stop offset=".819" stop-color="#c6c6c6"/><stop offset=".843" stop-color="#c7c7c7"/><stop offset=".886" stop-color="#d0d0d0"/><stop offset=".962" stop-color="#ebebeb"/><stop offset=".981" stop-color="#efefef"/><stop offset="1.000" stop-color="#f0f0f0"/></linearGradient>
<linearGradient id="a24" gradientUnits="userSpaceOnUse" x1="67.7" x2="311.9" y1="0" y2="0"><stop offset=".000" stop-color="#e7e7e7"/><stop offset=".029" stop-color="#f1f1f1"/><stop offset=".043" stop-color="#f4f4f4"/><stop offset=".190" stop-color="#f3f3f3"/><stop offset=".210" stop-color="#ededed"/><stop offset=".257" stop-color="#d7d7d7"/><stop offset=".276" stop-color="#c6c6c6"/><stop offset=".290" stop-color="#b1b1b1"/><stop offset=".324" stop-color="#787878"/><stop offset=".333" stop-color="#666666"/><stop offset=".352" stop-color="#4d4d4d"/><stop offset=".371" stop-color="#3c3c3c"/><stop offset=".381" stop-color="#373737"/><stop offset=".400" stop-color="#343434"/><stop offset=".414" stop-color="#393939"/><stop offset=".429" stop-color="#414141"/><stop offset=".476" stop-color="#626262"/><stop offset=".495" stop-color="#757575"/><stop offset=".514" stop-color="#8f8f8f"/><stop offset=".533" stop-color="#afafaf"/><stop offset=".552" stop-color="#cccccc"/><stop offset=".567" stop-color="#dddddd"/><stop offset=".590" stop-color="#eaeaea"/><stop offset=".614" stop-color="#f3f3f3"/><stop offset=".652" stop-color="#f2f2f2"/><stop offset=".676" stop-color="#eeeeee"/><stop offset=".690" stop-color="#e4e4e4"/><stop offset=".724" stop-color="#d6d6d6"/><stop offset=".752" stop-color="#cdcdcd"/><stop offset=".819" stop-color="#c5c5c5"/><stop offset=".867" stop-color="#cacaca"/><stop offset=".900" stop-color="#d2d2d2"/><stop offset=".962" stop-color="#ebebeb"/><stop offset="1.000" stop-color="#f0f0f0"/></linearGradient>
<linearGradient id="a25" gradientUnits="userSpaceOnUse" x1="67.7" x2="311.9" y1="0" y2="0"><stop offset=".000" stop-color="#e7e7e7"/><stop offset=".029" stop-color="#f2f2f2"/><stop offset=".043" stop-color="#f4f4f4"/><stop offset=".190" stop-color="#f4f4f4"/><stop offset=".210" stop-color="#eeeeee"/><stop offset=".229" stop-color="#e4e4e4"/><stop offset=".257" stop-color="#d8d8d8"/><stop offset=".276" stop-color="#c9c9c9"/><stop offset=".290" stop-color="#b5b5b5"/><stop offset=".305" stop-color="#9d9d9d"/><stop offset=".333" stop-color="#707070"/><stop offset=".352" stop-color="#575757"/><stop offset=".371" stop-color="#474747"/><stop offset=".390" stop-color="#3b3b3b"/><stop offset=".400" stop-color="#383838"/><stop offset=".414" stop-color="#3a3a3a"/><stop offset=".429" stop-color="#424242"/><stop offset=".476" stop-color="#666666"/><stop offset=".495" stop-color="#797979"/><stop offset=".552" stop-color="#c4c4c4"/><stop offset=".567" stop-color="#d5d5d5"/><stop offset=".590" stop-color="#e6e6e6"/><stop offset=".629" stop-color="#f3f3f3"/><stop offset=".652" stop-color="#f4f4f4"/><stop offset=".676" stop-color="#f0f0f0"/><stop offset=".690" stop-color="#eaeaea"/><stop offset=".714" stop-color="#dbdbdb"/><stop offset=".752" stop-color="#cdcdcd"/><stop offset=".795" stop-color="#c5c5c5"/><stop offset=".819" stop-color="#c3c3c3"/><stop offset=".843" stop-color="#c5c5c5"/><stop offset=".886" stop-color="#cfcfcf"/><stop offset=".924" stop-color="#dfdfdf"/><stop offset=".948" stop-color="#e9e9e9"/><stop offset="1.000" stop-color="#f1f1f1"/></linearGradient>
<linearGradient id="a26" gradientUnits="userSpaceOnUse" x1="67.7" x2="311.9" y1="0" y2="0"><stop offset=".000" stop-color="#e7e7e7"/><stop offset=".019" stop-color="#efefef"/><stop offset=".043" stop-color="#f4f4f4"/><stop offset=".190" stop-color="#f4f4f4"/><stop offset=".210" stop-color="#f1f1f1"/><stop offset=".257" stop-color="#dcdcdc"/><stop offset=".267" stop-color="#d6d6d6"/><stop offset=".286" stop-color="#c3c3c3"/><stop offset=".290" stop-color="#b8b8b8"/><stop offset=".295" stop-color="#b0b0b0"/><stop offset=".305" stop-color="#9b9b9b"/><stop offset=".333" stop-color="#656565"/><stop offset=".352" stop-color="#474747"/><stop offset=".371" stop-color="#2f2f2f"/><stop offset=".390" stop-color="#232323"/><stop offset=".400" stop-color="#212121"/><stop offset=".414" stop-color="#272727"/><stop offset=".429" stop-color="#313131"/><stop offset=".443" stop-color="#414141"/><stop offset=".495" stop-color="#747474"/><stop offset=".552" stop-color="#c6c6c6"/><stop offset=".567" stop-color="#d7d7d7"/><stop offset=".581" stop-color="#e3e3e3"/><stop offset=".614" stop-color="#f1f1f1"/><stop offset=".629" stop-color="#f3f3f3"/><stop offset=".676" stop-color="#f3f3f3"/><stop offset=".690" stop-color="#eeeeee"/><stop offset=".738" stop-color="#d3d3d3"/><stop offset=".771" stop-color="#c9c9c9"/><stop offset=".819" stop-color="#c2c2c2"/><stop offset=".843" stop-color="#c4c4c4"/><stop offset=".886" stop-color="#cfcfcf"/><stop offset=".933" stop-color="#e5e5e5"/><stop offset=".962" stop-color="#ededed"/><stop offset="1.000" stop-color="#f1f1f1"/></linearGradient>
<linearGradient id="a27" gradientUnits="userSpaceOnUse" x1="67.7" x2="311.9" y1="0" y2="0"><stop offset=".000" stop-color="#e7e7e7"/><stop offset=".029" stop-color="#f2f2f2"/><stop offset=".114" stop-color="#f4f4f4"/><stop offset=".210" stop-color="#f4f4f4"/><stop offset=".229" stop-color="#f0f0f0"/><stop offset=".267" stop-color="#dedede"/><stop offset=".276" stop-color="#d6d6d6"/><stop offset=".286" stop-color="#cbcbcb"/><stop offset=".295" stop-color="#b9b9b9"/><stop offset=".314" stop-color="#878787"/><stop offset=".319" stop-color="#797979"/><stop offset=".333" stop-color="#5a5a5a"/><stop offset=".343" stop-color="#4a4a4a"/><stop offset=".352" stop-color="#373737"/><stop offset=".371" stop-color="#1e1e1e"/><stop offset=".390" stop-color="#141414"/><stop offset=".400" stop-color="#151515"/><stop offset=".414" stop-color="#202020"/><stop offset=".457" stop-color="#4f4f4f"/><stop offset=".495" stop-color="#737373"/><stop offset=".552" stop-color="#c6c6c6"/><stop offset=".567" stop-color="#d7d7d7"/><stop offset=".590" stop-color="#e8e8e8"/><stop offset=".614" stop-color="#f0f0f0"/><stop offset=".629" stop-color="#f3f3f3"/><stop offset=".652" stop-color="#f4f4f4"/><stop offset=".690" stop-color="#efefef"/><stop offset=".705" stop-color="#e9e9e9"/><stop offset=".714" stop-color="#e1e1e1"/><stop offset=".738" stop-color="#d2d2d2"/><stop offset=".752" stop-color="#cbcbcb"/><stop offset=".795" stop-color="#c0c0c0"/><stop offset=".819" stop-color="#bdbdbd"/><stop offset=".843" stop-color="#bfbfbf"/><stop offset=".867" stop-color="#c5c5c5"/><stop offset=".900" stop-color="#d4d4d4"/><stop offset=".924" stop-color="#e2e2e2"/><stop offset=".948" stop-color="#ebebeb"/><stop offset="1.000" stop-color="#f1f1f1"/></linearGradient>
<linearGradient id="a28" gradientUnits="userSpaceOnUse" x1="67.7" x2="311.9" y1="0" y2="0"><stop offset=".000" stop-color="#e7e7e7"/><stop offset=".019" stop-color="#efefef"/><stop offset=".043" stop-color="#f3f3f3"/><stop offset=".210" stop-color="#f4f4f4"/><stop offset=".229" stop-color="#f1f1f1"/><stop offset=".267" stop-color="#dedede"/><stop offset=".276" stop-color="#d6d6d6"/><stop offset=".286" stop-color="#cbcbcb"/><stop offset=".290" stop-color="#c3c3c3"/><stop offset=".295" stop-color="#b8b8b8"/><stop offset=".314" stop-color="#7f7f7f"/><stop offset=".319" stop-color="#6f6f6f"/><stop offset=".333" stop-color="#4b4b4b"/><stop offset=".352" stop-color="#222222"/><stop offset=".362" stop-color="#131313"/><stop offset=".371" stop-color="#070707"/><stop offset=".381" stop-color="#030303"/><stop offset=".390" stop-color="#030303"/><stop offset=".400" stop-color="#070707"/><stop offset=".414" stop-color="#181818"/><stop offset=".443" stop-color="#404040"/><stop offset=".476" stop-color="#5f5f5f"/><stop offset=".495" stop-color="#737373"/><stop offset=".514" stop-color="#8d8d8d"/><stop offset=".552" stop-color="#c5c5c5"/><stop offset=".567" stop-color="#d6d6d6"/><stop offset=".581" stop-color="#e2e2e2"/><stop offset=".614" stop-color="#f0f0f0"/><stop offset=".629" stop-color="#f3f3f3"/><stop offset=".676" stop-color="#f4f4f4"/><stop offset=".705" stop-color="#eeeeee"/><stop offset=".714" stop-color="#ebebeb"/><stop offset=".724" stop-color="#e2e2e2"/><stop offset=".738" stop-color="#d9d9d9"/><stop offset=".752" stop-color="#cdcdcd"/><stop offset=".771" stop-color="#c2c2c2"/><stop offset=".795" stop-color="#bcbcbc"/><stop offset=".819" stop-color="#bababa"/><stop offset=".843" stop-color="#bdbdbd"/><stop offset=".867" stop-color="#c3c3c3"/><stop offset=".886" stop-color="#cecece"/><stop offset=".900" stop-color="#d9d9d9"/><stop offset=".933" stop-color="#e9e9e9"/><stop offset=".962" stop-color="#efefef"/><stop offset="1.000" stop-color="#f1f1f1"/></linearGradient>
<linearGradient id="a29" gradientUnits="userSpaceOnUse" x1="67.7" x2="311.9" y1="0" y2="0"><stop offset=".000" stop-color="#e7e7e7"/><stop offset=".019" stop-color="#efefef"/><stop offset=".043" stop-color="#f4f4f4"/><stop offset=".210" stop-color="#f4f4f4"/><stop offset=".229" stop-color="#f2f2f2"/><stop offset=".248" stop-color="#eaeaea"/><stop offset=".267" stop-color="#e0e0e0"/><stop offset=".276" stop-color="#d8d8d8"/><stop offset=".290" stop-color="#c3c3c3"/><stop offset=".295" stop-color="#b9b9b9"/><stop offset=".319" stop-color="#686868"/><stop offset=".333" stop-color="#414141"/><stop offset=".352" stop-color="#181818"/><stop offset=".362" stop-color="#0a0a0a"/><stop offset=".371" stop-color="#020202"/><stop offset=".381" stop-color="#010101"/><stop offset=".390" stop-color="#040404"/><stop offset=".400" stop-color="#0c0c0c"/><stop offset=".429" stop-color="#333333"/><stop offset=".443" stop-color="#444444"/><stop offset=".476" stop-color="#606060"/><stop offset=".495" stop-color="#737373"/><stop offset=".514" stop-color="#8e8e8e"/><stop offset=".533" stop-color="#aeaeae"/><stop offset=".552" stop-color="#cacaca"/><stop offset=".567" stop-color="#dbdbdb"/><stop offset=".581" stop-color="#e5e5e5"/><stop offset=".614" stop-color="#f2f2f2"/><stop offset=".676" stop-color="#f4f4f4"/><stop offset=".705" stop-color="#eeeeee"/><stop offset=".714" stop-color="#eaeaea"/><stop offset=".752" stop-color="#cbcbcb"/><stop offset=".771" stop-color="#bebebe"/><stop offset=".795" stop-color="#b7b7b7"/><stop offset=".819" stop-color="#b5b5b5"/><stop offset=".843" stop-color="#b7b7b7"/><stop offset=".867" stop-color="#bebebe"/><stop offset=".886" stop-color="#c8c8c8"/><stop offset=".914" stop-color="#dcdcdc"/><stop offset=".933" stop-color="#e6e6e6"/><stop offset=".962" stop-color="#ededed"/><stop offset="1.000" stop-color="#f1f1f1"/></linearGradient>
<linearGradient id="a30" gradientUnits="userSpaceOnUse" x1="67.7" x2="311.9" y1="0" y2="0"><stop offset=".000" stop-color="#e7e7e7"/><stop offset=".029" stop-color="#f1f1f1"/><stop offset=".043" stop-color="#f4f4f4"/><stop offset=".210" stop-color="#f4f4f4"/><stop offset=".238" stop-color="#efefef"/><stop offset=".267" stop-color="#dedede"/><stop offset=".276" stop-color="#d6d6d6"/><stop offset=".290" stop-color="#c0c0c0"/><stop offset=".295" stop-color="#b5b5b5"/><stop offset=".319" stop-color="#606060"/><stop offset=".333" stop-color="#383838"/><stop offset=".343" stop-color="#232323"/><stop offset=".352" stop-color="#111111"/><stop offset=".362" stop-color="#080808"/><stop offset=".371" stop-color="#030303"/><stop offset=".381" stop-color="#070707"/><stop offset=".400" stop-color="#191919"/><stop offset=".414" stop-color="#2e2e2e"/><stop offset=".443" stop-color="#4e4e4e"/><stop offset=".476" stop-color="#656565"/><stop offset=".495" stop-color="#777777"/><stop offset=".514" stop-color="#909090"/><stop offset=".533" stop-color="#b0b0b0"/><stop offset=".552" stop-color="#cbcbcb"/><stop offset=".567" stop-color="#dcdcdc"/><stop offset=".590" stop-color="#eaeaea"/><stop offset=".614" stop-color="#f1f1f1"/><stop offset=".652" stop-color="#f4f4f4"/><stop offset=".676" stop-color="#f3f3f3"/><stop offset=".705" stop-color="#ebebeb"/><stop offset=".724" stop-color="#d9d9d9"/><stop offset=".752" stop-color="#c4c4c4"/><stop offset=".771" stop-color="#bababa"/><stop offset=".795" stop-color="#b3b3b3"/><stop offset=".819" stop-color="#b1b1b1"/><stop offset=".843" stop-color="#b4b4b4"/><stop offset=".867" stop-color="#bababa"/><stop offset=".886" stop-color="#c4c4c4"/><stop offset=".914" stop-color="#dadada"/><stop offset=".948" stop-color="#eaeaea"/><stop offset=".981" stop-color="#efefef"/><stop offset="1.000" stop-color="#f0f0f0"/></linearGradient>
<linearGradient id="a31" gradientUnits="userSpaceOnUse" x1="67.7" x2="311.9" y1="0" y2="0"><stop offset=".000" stop-color="#e7e7e7"/><stop offset=".029" stop-color="#f2f2f2"/><stop offset=".043" stop-color="#f4f4f4"/><stop offset=".210" stop-color="#f3f3f3"/><stop offset=".229" stop-color="#f2f2f2"/><stop offset=".267" stop-color="#dfdfdf"/><stop offset=".276" stop-color="#d7d7d7"/><stop offset=".286" stop-color="#cbcbcb"/><stop offset=".295" stop-color="#b8b8b8"/><stop offset=".319" stop-color="#696969"/><stop offset=".333" stop-color="#444444"/><stop offset=".352" stop-color="#1d1d1d"/><stop offset=".362" stop-color="#121212"/><stop offset=".371" stop-color="#0d0d0d"/><stop offset=".381" stop-color="#0e0e0e"/><stop offset=".390" stop-color="#131313"/><stop offset=".400" stop-color="#1b1b1b"/><stop offset=".429" stop-color="#3f3f3f"/><stop offset=".443" stop-color="#4e4e4e"/><stop offset=".457" stop-color="#5a5a5a"/><stop offset=".476" stop-color="#676767"/><stop offset=".495" stop-color="#787878"/><stop offset=".514" stop-color="#929292"/><stop offset=".552" stop-color="#cbcbcb"/><stop offset=".567" stop-color="#dcdcdc"/><stop offset=".590" stop-color="#eaeaea"/><stop offset=".614" stop-color="#f2f2f2"/><stop offset=".676" stop-color="#f4f4f4"/><stop offset=".690" stop-color="#f3f3f3"/><stop offset=".714" stop-color="#e9e9e9"/><stop offset=".724" stop-color="#e0e0e0"/><stop offset=".752" stop-color="#cacaca"/><stop offset=".771" stop-color="#bfbfbf"/><stop offset=".795" stop-color="#b9b9b9"/><stop offset=".819" stop-color="#b6b6b6"/><stop offset=".843" stop-color="#b8b8b8"/><stop offset=".867" stop-color="#c0c0c0"/><stop offset=".886" stop-color="#cbcbcb"/><stop offset=".900" stop-color="#d7d7d7"/><stop offset=".924" stop-color="#e5e5e5"/><stop offset=".948" stop-color="#ececec"/><stop offset="1.000" stop-color="#f1f1f1"/></linearGradient>
<linearGradient id="a32" gradientUnits="userSpaceOnUse" x1="67.7" x2="311.9" y1="0" y2="0"><stop offset=".000" stop-color="#e7e7e7"/><stop offset=".029" stop-color="#f2f2f2"/><stop offset=".043" stop-color="#f4f4f4"/><stop offset=".210" stop-color="#f4f4f4"/><stop offset=".238" stop-color="#eeeeee"/><stop offset=".267" stop-color="#dedede"/><stop offset=".276" stop-color="#d7d7d7"/><stop offset=".286" stop-color="#cacaca"/><stop offset=".295" stop-color="#b7b7b7"/><stop offset=".319" stop-color="#6a6a6a"/><stop offset=".333" stop-color="#464646"/><stop offset=".352" stop-color="#1e1e1e"/><stop offset=".362" stop-color="#121212"/><stop offset=".371" stop-color="#0a0a0a"/><stop offset=".381" stop-color="#090909"/><stop offset=".400" stop-color="#131313"/><stop offset=".443" stop-color="#464646"/><stop offset=".476" stop-color="#616161"/><stop offset=".495" stop-color="#737373"/><stop offset=".514" stop-color="#8c8c8c"/><stop offset=".533" stop-color="#ababab"/><stop offset=".567" stop-color="#d7d7d7"/><stop offset=".581" stop-color="#e2e2e2"/><stop offset=".600" stop-color="#ececec"/><stop offset=".614" stop-color="#f1f1f1"/><stop offset=".629" stop-color="#f3f3f3"/><stop offset=".676" stop-color="#f3f3f3"/><stop offset=".705" stop-color="#eaeaea"/><stop offset=".724" stop-color="#dcdcdc"/><stop offset=".752" stop-color="#cbcbcb"/><stop offset=".771" stop-color="#c4c4c4"/><stop offset=".819" stop-color="#bdbdbd"/><stop offset=".843" stop-color="#bfbfbf"/><stop offset=".867" stop-color="#c5c5c5"/><stop offset=".886" stop-color="#cccccc"/><stop offset=".924" stop-color="#e2e2e2"/><stop offset=".948" stop-color="#ebebeb"/><stop offset=".981" stop-color="#f0f0f0"/><stop offset="1.000" stop-color="#f1f1f1"/></linearGradient>
<linearGradient id="a33" gradientUnits="userSpaceOnUse" x1="67.7" x2="311.9" y1="0" y2="0"><stop offset=".000" stop-color="#e7e7e7"/><stop offset=".029" stop-color="#f2f2f2"/><stop offset=".043" stop-color="#f4f4f4"/><stop offset=".210" stop-color="#f3f3f3"/><stop offset=".229" stop-color="#f1f1f1"/><stop offset=".238" stop-color="#eeeeee"/><stop offset=".267" stop-color="#dedede"/><stop offset=".276" stop-color="#d6d6d6"/><stop offset=".286" stop-color="#cbcbcb"/><stop offset=".295" stop-color="#b9b9b9"/><stop offset=".319" stop-color="#6f6f6f"/><stop offset=".333" stop-color="#4c4c4c"/><stop offset=".352" stop-color="#272727"/><stop offset=".362" stop-color="#1b1b1b"/><stop offset=".371" stop-color="#131313"/><stop offset=".381" stop-color="#121212"/><stop offset=".390" stop-color="#151515"/><stop offset=".400" stop-color="#1b1b1b"/><stop offset=".443" stop-color="#4b4b4b"/><stop offset=".476" stop-color="#656565"/><stop offset=".495" stop-color="#777777"/><stop offset=".514" stop-color="#8f8f8f"/><stop offset=".552" stop-color="#c6c6c6"/><stop offset=".567" stop-color="#d7d7d7"/><stop offset=".581" stop-color="#e2e2e2"/><stop offset=".600" stop-color="#ececec"/><stop offset=".629" stop-color="#f3f3f3"/><stop offset=".676" stop-color="#f3f3f3"/><stop offset=".705" stop-color="#e9e9e9"/><stop offset=".714" stop-color="#e2e2e2"/><stop offset=".724" stop-color="#dedede"/><stop offset=".738" stop-color="#d5d5d5"/><stop offset=".752" stop-color="#cfcfcf"/><stop offset=".795" stop-color="#c6c6c6"/><stop offset=".819" stop-color="#c3c3c3"/><stop offset=".843" stop-color="#c5c5c5"/><stop offset=".886" stop-color="#d0d0d0"/><stop offset=".924" stop-color="#e2e2e2"/><stop offset=".962" stop-color="#eeeeee"/><stop offset="1.000" stop-color="#f1f1f1"/></linearGradient>
<linearGradient id="a34" gradientUnits="userSpaceOnUse" x1="67.7" x2="311.9" y1="0" y2="0"><stop offset=".000" stop-color="#e7e7e7"/><stop offset=".029" stop-color="#f1f1f1"/><stop offset=".043" stop-color="#f3f3f3"/><stop offset=".210" stop-color="#f4f4f4"/><stop offset=".238" stop-color="#eeeeee"/><stop offset=".267" stop-color="#dedede"/><stop offset=".276" stop-color="#d7d7d7"/><stop offset=".286" stop-color="#cbcbcb"/><stop offset=".295" stop-color="#b9b9b9"/><stop offset=".319" stop-color="#6f6f6f"/><stop offset=".333" stop-color="#4d4d4d"/><stop offset=".352" stop-color="#2c2c2c"/><stop offset=".362" stop-color="#222222"/><stop offset=".371" stop-color="#1b1b1b"/><stop offset=".381" stop-color="#1a1a1a"/><stop offset=".400" stop-color="#222222"/><stop offset=".443" stop-color="#494949"/><stop offset=".476" stop-color="#616161"/><stop offset=".495" stop-color="#727272"/><stop offset=".533" stop-color="#a6a6a6"/><stop offset=".552" stop-color="#c1c1c1"/><stop offset=".567" stop-color="#d2d2d2"/><stop offset=".590" stop-color="#e5e5e5"/><stop offset=".614" stop-color="#efefef"/><stop offset=".629" stop-color="#f2f2f2"/><stop offset=".652" stop-color="#f3f3f3"/><stop offset=".676" stop-color="#efefef"/><stop offset=".690" stop-color="#eaeaea"/><stop offset=".714" stop-color="#dcdcdc"/><stop offset=".752" stop-color="#cfcfcf"/><stop offset=".795" stop-color="#c8c8c8"/><stop offset=".819" stop-color="#c6c6c6"/><stop offset=".843" stop-color="#c8c8c8"/><stop offset=".886" stop-color="#d2d2d2"/><stop offset=".933" stop-color="#e6e6e6"/><stop offset=".981" stop-color="#f0f0f0"/><stop offset="1.000" stop-color="#f1f1f1"/></linearGradient>
<linearGradient id="a35" gradientUnits="userSpaceOnUse" x1="67.7" x2="311.9" y1="0" y2="0"><stop offset=".000" stop-color="#e8e8e8"/><stop offset=".043" stop-color="#f4f4f4"/><stop offset=".210" stop-color="#f4f4f4"/><stop offset=".238" stop-color="#ededed"/><stop offset=".257" stop-color="#e3e3e3"/><stop offset=".267" stop-color="#dfdfdf"/><stop offset=".276" stop-color="#d7d7d7"/><stop offset=".290" stop-color="#c5c5c5"/><stop offset=".295" stop-color="#bcbcbc"/><stop offset=".319" stop-color="#7e7e7e"/><stop offset=".333" stop-color="#636363"/><stop offset=".352" stop-color="#494949"/><stop offset=".371" stop-color="#3b3b3b"/><stop offset=".390" stop-color="#393939"/><stop offset=".400" stop-color="#3a3a3a"/><stop offset=".443" stop-color="#545454"/><stop offset=".476" stop-color="#676767"/><stop offset=".495" stop-color="#787878"/><stop offset=".514" stop-color="#8f8f8f"/><stop offset=".533" stop-color="#ababab"/><stop offset=".567" stop-color="#d5d5d5"/><stop offset=".590" stop-color="#e6e6e6"/><stop offset=".614" stop-color="#efefef"/><stop offset=".629" stop-color="#f2f2f2"/><stop offset=".652" stop-color="#f2f2f2"/><stop offset=".676" stop-color="#ededed"/><stop offset=".705" stop-color="#dddddd"/><stop offset=".738" stop-color="#d1d1d1"/><stop offset=".795" stop-color="#c7c7c7"/><stop offset=".819" stop-color="#c5c5c5"/><stop offset=".843" stop-color="#c6c6c6"/><stop offset=".886" stop-color="#d1d1d1"/><stop offset=".933" stop-color="#e6e6e6"/><stop offset=".962" stop-color="#ededed"/><stop offset="1.000" stop-color="#f1f1f1"/></linearGradient>
<linearGradient id="a36" gradientUnits="userSpaceOnUse" x1="67.7" x2="311.9" y1="0" y2="0"><stop offset=".000" stop-color="#e7e7e7"/><stop offset=".029" stop-color="#f1f1f1"/><stop offset=".043" stop-color="#f3f3f3"/><stop offset=".210" stop-color="#f4f4f4"/><stop offset=".238" stop-color="#ebebeb"/><stop offset=".267" stop-color="#dcdcdc"/><stop offset=".276" stop-color="#d5d5d5"/><stop offset=".290" stop-color="#c2c2c2"/><stop offset=".319" stop-color="#7d7d7d"/><stop offset=".333" stop-color="#636363"/><stop offset=".352" stop-color="#494949"/><stop offset=".371" stop-color="#3d3d3d"/><stop offset=".390" stop-color="#3b3b3b"/><stop offset=".400" stop-color="#3c3c3c"/><stop offset=".476" stop-color="#656565"/><stop offset=".495" stop-color="#767676"/><stop offset=".552" stop-color="#b7b7b7"/><stop offset=".581" stop-color="#d4d4d4"/><stop offset=".600" stop-color="#e2e2e2"/><stop offset=".629" stop-color="#efefef"/><stop offset=".652" stop-color="#f2f2f2"/><stop offset=".676" stop-color="#ededed"/><stop offset=".690" stop-color="#e3e3e3"/><stop offset=".724" stop-color="#d6d6d6"/><stop offset=".771" stop-color="#cdcdcd"/><stop offset=".819" stop-color="#c7c7c7"/><stop offset=".843" stop-color="#c9c9c9"/><stop offset=".886" stop-color="#d2d2d2"/><stop offset=".948" stop-color="#eaeaea"/><stop offset="1.000" stop-color="#f1f1f1"/></linearGradient>
<linearGradient id="a37" gradientUnits="userSpaceOnUse" x1="67.7" x2="311.9" y1="0" y2="0"><stop offset=".000" stop-color="#e7e7e7"/><stop offset=".019" stop-color="#efefef"/><stop offset=".043" stop-color="#f4f4f4"/><stop offset=".210" stop-color="#f3f3f3"/><stop offset=".229" stop-color="#ededed"/><stop offset=".267" stop-color="#d9d9d9"/><stop offset=".276" stop-color="#d1d1d1"/><stop offset=".286" stop-color="#c5c5c5"/><stop offset=".290" stop-color="#bdbdbd"/><stop offset=".319" stop-color="#7b7b7b"/><stop offset=".333" stop-color="#606060"/><stop offset=".352" stop-color="#484848"/><stop offset=".371" stop-color="#3c3c3c"/><stop offset=".400" stop-color="#3c3c3c"/><stop offset=".457" stop-color="#575757"/><stop offset=".476" stop-color="#626262"/><stop offset=".495" stop-color="#737373"/><stop offset=".514" stop-color="#8a8a8a"/><stop offset=".552" stop-color="#bdbdbd"/><stop offset=".567" stop-color="#cdcdcd"/><stop offset=".590" stop-color="#e1e1e1"/><stop offset=".614" stop-color="#ededed"/><stop offset=".629" stop-color="#f1f1f1"/><stop offset=".652" stop-color="#f2f2f2"/><stop offset=".676" stop-color="#eaeaea"/><stop offset=".705" stop-color="#dcdcdc"/><stop offset=".752" stop-color="#d0d0d0"/><stop offset=".795" stop-color="#c9c9c9"/><stop offset=".843" stop-color="#c9c9c9"/><stop offset=".886" stop-color="#d2d2d2"/><stop offset=".933" stop-color="#e6e6e6"/><stop offset=".962" stop-color="#ededed"/><stop offset="1.000" stop-color="#f2f2f2"/></linearGradient>
<linearGradient id="a38" gradientUnits="userSpaceOnUse" x1="67.7" x2="311.9" y1="0" y2="0"><stop offset=".000" stop-color="#e7e7e7"/><stop offset=".019" stop-color="#efefef"/><stop offset=".043" stop-color="#f3f3f3"/><stop offset=".210" stop-color="#f3f3f3"/><stop offset=".229" stop-color="#ededed"/><stop offset=".267" stop-color="#dadada"/><stop offset=".276" stop-color="#d2d2d2"/><stop offset=".286" stop-color="#c6c6c6"/><stop offset=".295" stop-color="#b4b4b4"/><stop offset=".319" stop-color="#808080"/><stop offset=".333" stop-color="#676767"/><stop offset=".352" stop-color="#505050"/><stop offset=".371" stop-color="#454545"/><stop offset=".400" stop-color="#424242"/><stop offset=".457" stop-color="#595959"/><stop offset=".476" stop-color="#646464"/><stop offset=".495" stop-color="#757575"/><stop offset=".514" stop-color="#8c8c8c"/><stop offset=".533" stop-color="#a6a6a6"/><stop offset=".567" stop-color="#cdcdcd"/><stop offset=".590" stop-color="#e1e1e1"/><stop offset=".614" stop-color="#ededed"/><stop offset=".629" stop-color="#f1f1f1"/><stop offset=".652" stop-color="#f2f2f2"/><stop offset=".676" stop-color="#eaeaea"/><stop offset=".690" stop-color="#e1e1e1"/><stop offset=".752" stop-color="#d0d0d0"/><stop offset=".795" stop-color="#cacaca"/><stop offset=".843" stop-color="#cacaca"/><stop offset=".886" stop-color="#d3d3d3"/><stop offset=".948" stop-color="#ebebeb"/><stop offset="1.000" stop-color="#f1f1f1"/></linearGradient>
<linearGradient id="a39" gradientUnits="userSpaceOnUse" x1="67.7" x2="311.9" y1="0" y2="0"><stop offset=".000" stop-color="#e7e7e7"/><stop offset=".019" stop-color="#efefef"/><stop offset=".043" stop-color="#f4f4f4"/><stop offset=".210" stop-color="#f3f3f3"/><stop offset=".229" stop-color="#eeeeee"/><stop offset=".267" stop-color="#d9d9d9"/><stop offset=".276" stop-color="#d1d1d1"/><stop offset=".290" stop-color="#bebebe"/><stop offset=".305" stop-color="#9c9c9c"/><stop offset=".324" stop-color="#747474"/><stop offset=".333" stop-color="#636363"/><stop offset=".352" stop-color="#4c4c4c"/><stop offset=".371" stop-color="#414141"/><stop offset=".400" stop-color="#3f3f3f"/><stop offset=".457" stop-color="#585858"/><stop offset=".476" stop-color="#636363"/><stop offset=".495" stop-color="#747474"/><stop offset=".514" stop-color="#8b8b8b"/><stop offset=".552" stop-color="#bdbdbd"/><stop offset=".567" stop-color="#cdcdcd"/><stop offset=".590" stop-color="#e1e1e1"/><stop offset=".614" stop-color="#ededed"/><stop offset=".629" stop-color="#f1f1f1"/><stop offset=".652" stop-color="#f2f2f2"/><stop offset=".676" stop-color="#ebebeb"/><stop offset=".690" stop-color="#e2e2e2"/><stop offset=".714" stop-color="#dadada"/><stop offset=".771" stop-color="#cecece"/><stop offset=".819" stop-color="#c9c9c9"/><stop offset=".867" stop-color="#cfcfcf"/><stop offset=".900" stop-color="#d8d8d8"/><stop offset=".948" stop-color="#ebebeb"/><stop offset=".981" stop-color="#f0f0f0"/><stop offset="1.000" stop-color="#f1f1f1"/></linearGradient>
<clipPath id="clipa"><rect x="67.7" y="21.9" width="244.2" height="167.3"/></clipPath>
<linearGradient id="b0" gradientUnits="userSpaceOnUse" x1="67.7" x2="311.9" y1="0" y2="0"><stop offset=".000" stop-color="#e7e7e7"/><stop offset=".019" stop-color="#efefef"/><stop offset=".043" stop-color="#f4f4f4"/><stop offset=".190" stop-color="#f4f4f4"/><stop offset=".210" stop-color="#f2f2f2"/><stop offset=".229" stop-color="#eaeaea"/><stop offset=".248" stop-color="#e0e0e0"/><stop offset=".257" stop-color="#dcdcdc"/><stop offset=".276" stop-color="#cccccc"/><stop offset=".286" stop-color="#c0c0c0"/><stop offset=".319" stop-color="#787878"/><stop offset=".333" stop-color="#5d5d5d"/><stop offset=".352" stop-color="#444444"/><stop offset=".371" stop-color="#383838"/><stop offset=".390" stop-color="#363636"/><stop offset=".400" stop-color="#373737"/><stop offset=".443" stop-color="#4c4c4c"/><stop offset=".476" stop-color="#606060"/><stop offset=".495" stop-color="#727272"/><stop offset=".552" stop-color="#b7b7b7"/><stop offset=".581" stop-color="#d5d5d5"/><stop offset=".600" stop-color="#e3e3e3"/><stop offset=".629" stop-color="#efefef"/><stop offset=".652" stop-color="#f3f3f3"/><stop offset=".676" stop-color="#f0f0f0"/><stop offset=".690" stop-color="#ebebeb"/><stop offset=".714" stop-color="#dddddd"/><stop offset=".752" stop-color="#d0d0d0"/><stop offset=".795" stop-color="#c9c9c9"/><stop offset=".819" stop-color="#c7c7c7"/><stop offset=".867" stop-color="#cdcdcd"/><stop offset=".900" stop-color="#d6d6d6"/><stop offset=".948" stop-color="#eaeaea"/><stop offset="1.000" stop-color="#f1f1f1"/></linearGradient>
<linearGradient id="b1" gradientUnits="userSpaceOnUse" x1="67.7" x2="311.9" y1="0" y2="0"><stop offset=".000" stop-color="#e7e7e7"/><stop offset=".019" stop-color="#efefef"/><stop offset=".043" stop-color="#f4f4f4"/><stop offset=".190" stop-color="#f4f4f4"/><stop offset=".210" stop-color="#f1f1f1"/><stop offset=".229" stop-color="#eaeaea"/><stop offset=".248" stop-color="#e0e0e0"/><stop offset=".257" stop-color="#dcdcdc"/><stop offset=".276" stop-color="#cccccc"/><stop offset=".286" stop-color="#c0c0c0"/><stop offset=".319" stop-color="#787878"/><stop offset=".333" stop-color="#5d5d5d"/><stop offset=".352" stop-color="#444444"/><stop offset=".371" stop-color="#383838"/><stop offset=".390" stop-color="#363636"/><stop offset=".400" stop-color="#363636"/><stop offset=".429" stop-color="#434343"/><stop offset=".476" stop-color="#606060"/><stop offset=".495" stop-color="#727272"/><stop offset=".552" stop-color="#b7b7b7"/><stop offset=".581" stop-color="#d5d5d5"/><stop offset=".600" stop-color="#e3e3e3"/><stop offset=".629" stop-color="#efefef"/><stop offset=".652" stop-color="#f3f3f3"/><stop offset=".676" stop-color="#f0f0f0"/><stop offset=".690" stop-color="#ebebeb"/><stop offset=".714" stop-color="#dedede"/><stop offset=".752" stop-color="#d1d1d1"/><stop offset=".795" stop-color="#cacaca"/><stop offset=".819" stop-color="#c8c8c8"/><stop offset=".843" stop-color="#c9c9c9"/><stop offset=".886" stop-color="#d2d2d2"/><stop offset=".933" stop-color="#e5e5e5"/><stop offset=".962" stop-color="#ededed"/><stop offset="1.000" stop-color="#f1f1f1"/></linearGradient>
<linearGradient id="b2" gradientUnits="userSpaceOnUse" x1="67.7" x2="311.9" y1="0" y2="0"><stop offset=".000" stop-color="#e7e7e7"/><stop offset=".019" stop-color="#efefef"/><stop offset=".043" stop-color="#f4f4f4"/><stop offset=".190" stop-color="#f4f4f4"/><stop offset=".210" stop-color="#f1f1f1"/><stop offset=".238" stop-color="#e5e5e5"/><stop offset=".267" stop-color="#d5d5d5"/><stop offset=".276" stop-color="#cccccc"/><stop offset=".286" stop-color="#c0c0c0"/><stop offset=".319" stop-color="#787878"/><stop offset=".333" stop-color="#5e5e5e"/><stop offset=".352" stop-color="#454545"/><stop offset=".371" stop-color="#3a3a3a"/><stop offset=".390" stop-color="#373737"/><stop offset=".400" stop-color="#383838"/><stop offset=".429" stop-color="#444444"/><stop offset=".476" stop-color="#606060"/><stop offset=".495" stop-color="#727272"/><stop offset=".552" stop-color="#b7b7b7"/><stop offset=".581" stop-color="#d5d5d5"/><stop offset=".600" stop-color="#e3e3e3"/><stop offset=".629" stop-color="#efefef"/><stop offset=".652" stop-color="#f3f3f3"/><stop offset=".676" stop-color="#f0f0f0"/><stop offset=".690" stop-color="#ebebeb"/><stop offset=".714" stop-color="#dddddd"/><stop offset=".752" stop-color="#d1d1d1"/><stop offset=".795" stop-color="#c9c9c9"/><stop offset=".819" stop-color="#c8c8c8"/><stop offset=".867" stop-color="#cdcdcd"/><stop offset=".900" stop-color="#d7d7d7"/><stop offset=".948" stop-color="#eaeaea"/><stop offset="1.000" stop-color="#f1f1f1"/></linearGradient>
<linearGradient id="b3" gradientUnits="userSpaceOnUse" x1="67.7" x2="311.9" y1="0" y2="0"><stop offset=".000" stop-color="#e7e7e7"/><stop offset=".019" stop-color="#efefef"/><stop offset=".043" stop-color="#f4f4f4"/><stop offset=".190" stop-color="#f4f4f4"/><stop offset=".210" stop-color="#f1f1f1"/><stop offset=".257" stop-color="#dadada"/><stop offset=".267" stop-color="#d4d4d4"/><stop offset=".286" stop-color="#bebebe"/><stop offset=".324" stop-color="#6e6e6e"/><stop offset=".333" stop-color="#5c5c5c"/><stop offset=".352" stop-color="#434343"/><stop offset=".371" stop-color="#363636"/><stop offset=".390" stop-color="#343434"/><stop offset=".400" stop-color="#353535"/><stop offset=".429" stop-color="#424242"/><stop offset=".457" stop-color="#525252"/><stop offset=".476" stop-color="#5f5f5f"/><stop offset=".495" stop-color="#717171"/><stop offset=".514" stop-color="#888888"/><stop offset=".552" stop-color="#bababa"/><stop offset=".567" stop-color="#cacaca"/><stop offset=".590" stop-color="#dfdfdf"/><stop offset=".614" stop-color="#ececec"/><stop offset=".629" stop-color="#f1f1f1"/><stop offset=".652" stop-color="#f3f3f3"/><stop offset=".676" stop-color="#f0f0f0"/><stop offset=".690" stop-color="#eaeaea"/><stop offset=".714" stop-color="#dddddd"/><stop offset=".738" stop-color="#d4d4d4"/><stop offset=".795" stop-color="#c9c9c9"/><stop offset=".843" stop-color="#c9c9c9"/><stop offset=".886" stop-color="#d2d2d2"/><stop offset=".948" stop-color="#eaeaea"/><stop offset=".981" stop-color="#f0f0f0"/><stop offset="1.000" stop-color="#f1f1f1"/></linearGradient>
<linearGradient id="b4" gradientUnits="userSpaceOnUse" x1="67.7" x2="311.9" y1="0" y2="0"><stop offset=".000" stop-color="#e7e7e7"/><stop offset=".029" stop-color="#f1f1f1"/><stop offset=".043" stop-color="#f4f4f4"/><stop offset=".190" stop-color="#f4f4f4"/><stop offset=".210" stop-color="#f0f0f0"/><stop offset=".257" stop-color="#d9d9d9"/><stop offset=".267" stop-color="#d3d3d3"/><stop offset=".286" stop-color="#bcbcbc"/><stop offset=".319" stop-color="#777777"/><stop offset=".333" stop-color="#5c5c5c"/><stop offset=".352" stop-color="#424242"/><stop offset=".371" stop-color="#363636"/><stop offset=".400" stop-color="#343434"/><stop offset=".429" stop-color="#424242"/><stop offset=".457" stop-color="#525252"/><stop offset=".476" stop-color="#5f5f5f"/><stop offset=".495" stop-color="#717171"/><stop offset=".514" stop-color="#898989"/><stop offset=".552" stop-color="#bebebe"/><stop offset=".567" stop-color="#cecece"/><stop offset=".590" stop-color="#e3e3e3"/><stop offset=".614" stop-color="#eeeeee"/><stop offset=".629" stop-color="#f2f2f2"/><stop offset=".652" stop-color="#f3f3f3"/><stop offset=".676" stop-color="#eeeeee"/><stop offset=".714" stop-color="#dbdbdb"/><stop offset=".752" stop-color="#d0d0d0"/><stop offset=".795" stop-color="#c9c9c9"/><stop offset=".819" stop-color="#c7c7c7"/><stop offset=".867" stop-color="#cdcdcd"/><stop offset=".900" stop-color="#d6d6d6"/><stop offset=".948" stop-color="#e9e9e9"/><stop offset=".962" stop-color="#ededed"/><stop offset="1.000" stop-color="#f1f1f1"/></linearGradient>
<linearGradient id="b5" gradientUnits="userSpaceOnUse" x1="67.7" x2="311.9" y1="0" y2="0"><stop offset=".000" stop-color="#e7e7e7"/><stop offset=".029" stop-color="#f1f1f1"/><stop offset=".043" stop-color="#f4f4f4"/><stop offset=".190" stop-color="#f4f4f4"/><stop offset=".210" stop-color="#f0f0f0"/><stop offset=".257" stop-color="#d9d9d9"/><stop offset=".267" stop-color="#d3d3d3"/><stop offset=".286" stop-color="#bbbbbb"/><stop offset=".324" stop-color="#6c6c6c"/><stop offset=".333" stop-color="#595959"/><stop offset=".352" stop-color="#3f3f3f"/><stop offset=".371" stop-color="#323232"/><stop offset=".390" stop-color="#303030"/><stop offset=".400" stop-color="#313131"/><stop offset=".457" stop-color="#535353"/><stop offset=".476" stop-color="#606060"/><stop offset=".495" stop-color="#727272"/><stop offset=".514" stop-color="#8b8b8b"/><stop offset=".533" stop-color="#a8a8a8"/><stop offset=".567" stop-color="#d4d4d4"/><stop offset=".590" stop-color="#e6e6e6"/><stop offset=".629" stop-color="#f3f3f3"/><stop offset=".652" stop-color="#f3f3f3"/><stop offset=".676" stop-color="#ededed"/><stop offset=".705" stop-color="#dddddd"/><stop offset=".738" stop-color="#d2d2d2"/><stop offset=".795" stop-color="#c8c8c8"/><stop offset=".819" stop-color="#c6c6c6"/><stop offset=".867" stop-color="#cccccc"/><stop offset=".900" stop-color="#d5d5d5"/><stop offset=".948" stop-color="#e8e8e8"/><stop offset=".981" stop-color="#efefef"/><stop offset="1.000" stop-color="#f1f1f1"/></linearGradient>
<linearGradient id="b6" gradientUnits="userSpaceOnUse" x1="67.7" x2="311.9" y1="0" y2="0"><stop offset=".000" stop-color="#e7e7e7"/><stop offset=".019" stop-color="#efefef"/><stop offset=".043" stop-color="#f4f4f4"/><stop offset=".190" stop-color="#f4f4f4"/><stop offset=".210" stop-color="#f0f0f0"/><stop offset=".257" stop-color="#d9d9d9"/><stop offset=".267" stop-color="#d3d3d3"/><stop offset=".286" stop-color="#bbbbbb"/><stop offset=".319" stop-color="#737373"/><stop offset=".333" stop-color="#565656"/><stop offset=".352" stop-color="#3b3b3b"/><stop offset=".371" stop-color="#2d2d2d"/><stop offset=".390" stop-color="#2b2b2b"/><stop offset=".400" stop-color="#2d2d2d"/><stop offset=".457" stop-color="#515151"/><stop offset=".476" stop-color="#5f5f5f"/><stop offset=".495" stop-color="#717171"/><stop offset=".514" stop-color="#8b8b8b"/><stop offset=".552" stop-color="#c3c3c3"/><stop offset=".567" stop-color="#d5d5d5"/><stop offset=".581" stop-color="#e1e1e1"/><stop offset=".600" stop-color="#ebebeb"/><stop offset=".629" stop-color="#f3f3f3"/><stop offset=".652" stop-color="#f3f3f3"/><stop offset=".676" stop-color="#eeeeee"/><stop offset=".714" stop-color="#dadada"/><stop offset=".752" stop-color="#cecece"/><stop offset=".795" stop-color="#c7c7c7"/><stop offset=".819" stop-color="#c5c5c5"/><stop offset=".867" stop-color="#cbcbcb"/><stop offset=".900" stop-color="#d4d4d4"/><stop offset=".948" stop-color="#e7e7e7"/><stop offset=".981" stop-color="#eeeeee"/><stop offset="1.000" stop-color="#f0f0f0"/></linearGradient>
<linearGradient id="b7" gradientUnits="userSpaceOnUse" x1="67.7" x2="311.9" y1="0" y2="0"><stop offset=".000" stop-color="#e7e7e7"/><stop offset=".019" stop-color="#efefef"/><stop offset=".043" stop-color="#f4f4f4"/><stop offset=".190" stop-color="#f4f4f4"/><stop offset=".210" stop-color="#f1f1f1"/><stop offset=".229" stop-color="#eaeaea"/><stop offset=".257" stop-color="#dbdbdb"/><stop offset=".267" stop-color="#d4d4d4"/><stop offset=".276" stop-color="#cacaca"/><stop offset=".286" stop-color="#bdbdbd"/><stop offset=".314" stop-color="#7b7b7b"/><stop offset=".324" stop-color="#656565"/><stop offset=".333" stop-color="#515151"/><stop offset=".352" stop-color="#333333"/><stop offset=".371" stop-color="#252525"/><stop offset=".381" stop-color="#232323"/><stop offset=".400" stop-color="#262626"/><stop offset=".429" stop-color="#3a3a3a"/><stop offset=".457" stop-color="#505050"/><stop offset=".476" stop-color="#5e5e5e"/><stop offset=".495" stop-color="#717171"/><stop offset=".514" stop-color="#8a8a8a"/><stop offset=".533" stop-color="#a7a7a7"/><stop offset=".567" stop-color="#d3d3d3"/><stop offset=".590" stop-color="#e5e5e5"/><stop offset=".614" stop-color="#efefef"/><stop offset=".652" stop-color="#f4f4f4"/><stop offset=".676" stop-color="#f0f0f0"/><stop offset=".690" stop-color="#eaeaea"/><stop offset=".714" stop-color="#dcdcdc"/><stop offset=".738" stop-color="#d2d2d2"/><stop offset=".795" stop-color="#c6c6c6"/><stop offset=".819" stop-color="#c4c4c4"/><stop offset=".867" stop-color="#cacaca"/><stop offset=".900" stop-color="#d4d4d4"/><stop offset=".948" stop-color="#e8e8e8"/><stop offset=".981" stop-color="#efefef"/><stop offset="1.000" stop-color="#f0f0f0"/></linearGradient>
<linearGradient id="b8" gradientUnits="userSpaceOnUse" x1="67.7" x2="311.9" y1="0" y2="0"><stop offset=".000" stop-color="#e7e7e7"/><stop offset=".029" stop-color="#f1f1f1"/><stop offset=".043" stop-color="#f4f4f4"/><stop offset=".210" stop-color="#f3f3f3"/><stop offset=".229" stop-color="#eeeeee"/><stop offset=".248" stop-color="#e2e2e2"/><stop offset=".267" stop-color="#d8d8d8"/><stop offset=".276" stop-color="#cfcfcf"/><stop offset=".290" stop-color="#b9b9b9"/><stop offset=".319" stop-color="#6c6c6c"/><stop offset=".333" stop-color="#4c4c4c"/><stop offset=".352" stop-color="#2d2d2d"/><stop offset=".371" stop-color="#1d1d1d"/><stop offset=".381" stop-color="#1b1b1b"/><stop offset=".400" stop-color="#1f1f1f"/><stop offset=".429" stop-color="#373737"/><stop offset=".457" stop-color="#4f4f4f"/><stop offset=".476" stop-color="#5e5e5e"/><stop offset=".495" stop-color="#717171"/><stop offset=".514" stop-color="#8a8a8a"/><stop offset=".533" stop-color="#a7a7a7"/><stop offset=".552" stop-color="#c1c1c1"/><stop offset=".567" stop-color="#d2d2d2"/><stop offset=".581" stop-color="#dfdfdf"/><stop offset=".600" stop-color="#eaeaea"/><stop offset=".629" stop-color="#f2f2f2"/><stop offset=".652" stop-color="#f4f4f4"/><stop offset=".676" stop-color="#f1f1f1"/><stop offset=".690" stop-color="#ececec"/><stop offset=".714" stop-color="#dddddd"/><stop offset=".752" stop-color="#cdcdcd"/><stop offset=".795" stop-color="#c4c4c4"/><stop offset=".819" stop-color="#c2c2c2"/><stop offset=".843" stop-color="#c4c4c4"/><stop offset=".886" stop-color="#cecece"/><stop offset=".948" stop-color="#e9e9e9"/><stop offset="1.000" stop-color="#f1f1f1"/></linearGradient>
<linearGradient id="b9" gradientUnits="userSpaceOnUse" x1="67.7" x2="311.9" y1="0" y2="0"><stop offset=".000" stop-color="#e7e7e7"/><stop offset=".029" stop-color="#f1f1f1"/><stop offset=".043" stop-color="#f4f4f4"/><stop offset=".210" stop-color="#f4f4f4"/><stop offset=".229" stop-color="#f0f0f0"/><stop offset=".267" stop-color="#dcdcdc"/><stop offset=".276" stop-color="#d3d3d3"/><stop offset=".286" stop-color="#c6c6c6"/><stop offset=".295" stop-color="#b2b2b2"/><stop offset=".319" stop-color="#6a6a6a"/><stop offset=".333" stop-color="#494949"/><stop offset=".352" stop-color="#282828"/><stop offset=".371" stop-color="#181818"/><stop offset=".381" stop-color="#171717"/><stop offset=".400" stop-color="#1d1d1d"/><stop offset=".443" stop-color="#454545"/><stop offset=".476" stop-color="#606060"/><stop offset=".495" stop-color="#737373"/><stop offset=".514" stop-color="#8c8c8c"/><stop offset=".552" stop-color="#c4c4c4"/><stop offset=".567" stop-color="#d5d5d5"/><stop offset=".581" stop-color="#e1e1e1"/><stop offset=".600" stop-color="#ebebeb"/><stop offset=".629" stop-color="#f3f3f3"/><stop offset=".652" stop-color="#f4f4f4"/><stop offset=".676" stop-color="#f2f2f2"/><stop offset=".690" stop-color="#ededed"/><stop offset=".724" stop-color="#d8d8d8"/><stop offset=".752" stop-color="#cccccc"/><stop offset=".795" stop-color="#c2c2c2"/><stop offset=".819" stop-color="#c0c0c0"/><stop offset=".843" stop-color="#c2c2c2"/><stop offset=".867" stop-color="#c7c7c7"/><stop offset=".900" stop-color="#d5d5d5"/><stop offset=".924" stop-color="#e2e2e2"/><stop offset=".962" stop-color="#ededed"/><stop offset="1.000" stop-color="#f1f1f1"/></linearGradient>
<linearGradient id="b10" gradientUnits="userSpaceOnUse" x1="67.7" x2="311.9" y1="0" y2="0"><stop offset=".000" stop-color="#e7e7e7"/><stop offset=".029" stop-color="#f1f1f1"/><stop offset=".043" stop-color="#f4f4f4"/><stop offset=".210" stop-color="#f4f4f4"/><stop offset=".229" stop-color="#f2f2f2"/><stop offset=".238" stop-color="#efefef"/><stop offset=".267" stop-color="#dedede"/><stop offset=".276" stop-color="#d6d6d6"/><stop offset=".286" stop-color="#cacaca"/><stop offset=".295" stop-color="#b6b6b6"/><stop offset=".319" stop-color="#656565"/><stop offset=".333" stop-color="#424242"/><stop offset=".352" stop-color="#1f1f1f"/><stop offset=".371" stop-color="#0f0f0f"/><stop offset=".390" stop-color="#111111"/><stop offset=".400" stop-color="#161616"/><stop offset=".443" stop-color="#424242"/><stop offset=".476" stop-color="#5e5e5e"/><stop offset=".495" stop-color="#717171"/><stop offset=".514" stop-color="#8c8c8c"/><stop offset=".552" stop-color="#c6c6c6"/><stop offset=".567" stop-color="#d7d7d7"/><stop offset=".581" stop-color="#e3e3e3"/><stop offset=".600" stop-color="#ececec"/><stop offset=".629" stop-color="#f3f3f3"/><stop offset=".652" stop-color="#f4f4f4"/><stop offset=".676" stop-color="#f2f2f2"/><stop offset=".690" stop-color="#ededed"/><stop offset=".724" stop-color="#d7d7d7"/><stop offset=".752" stop-color="#cacaca"/><stop offset=".795" stop-color="#bfbfbf"/><stop offset=".819" stop-color="#bdbdbd"/><stop offset=".843" stop-color="#bfbfbf"/><stop offset=".867" stop-color="#c5c5c5"/><stop offset=".886" stop-color="#cdcdcd"/><stop offset=".924" stop-color="#e4e4e4"/><stop offset=".962" stop-color="#eeeeee"/><stop offset="1.000" stop-color="#f1f1f1"/></linearGradient>
<linearGradient id="b11" gradientUnits="userSpaceOnUse" x1="67.7" x2="311.9" y1="0" y2="0"><stop offset=".000" stop-color="#e7e7e7"/><stop offset=".019" stop-color="#efefef"/><stop offset=".043" stop-color="#f4f4f4"/><stop offset=".210" stop-color="#f4f4f4"/><stop offset=".238" stop-color="#f0f0f0"/><stop offset=".276" stop-color="#d9d9d9"/><stop offset=".286" stop-color="#cdcdcd"/><stop offset=".295" stop-color="#b8b8b8"/><stop offset=".305" stop-color="#989898"/><stop offset=".319" stop-color="#636363"/><stop offset=".333" stop-color="#3f3f3f"/><stop offset=".352" stop-color="#1d1d1d"/><stop offset=".362" stop-color="#141414"/><stop offset=".371" stop-color="#0e0e0e"/><stop offset=".381" stop-color="#0e0e0e"/><stop offset=".400" stop-color="#161616"/><stop offset=".443" stop-color="#434343"/><stop offset=".476" stop-color="#5f5f5f"/><stop offset=".495" stop-color="#717171"/><stop offset=".514" stop-color="#8b8b8b"/><stop offset=".533" stop-color="#a9a9a9"/><stop offset=".552" stop-color="#c4c4c4"/><stop offset=".567" stop-color="#d6d6d6"/><stop offset=".590" stop-color="#e7e7e7"/><stop offset=".614" stop-color="#f0f0f0"/><stop offset=".629" stop-color="#f3f3f3"/><stop offset=".652" stop-color="#f4f4f4"/><stop offset=".690" stop-color="#efefef"/><stop offset=".705" stop-color="#e7e7e7"/><stop offset=".724" stop-color="#d9d9d9"/><stop offset=".752" stop-color="#c9c9c9"/><stop offset=".771" stop-color="#c2c2c2"/><stop offset=".819" stop-color="#bababa"/><stop offset=".867" stop-color="#c2c2c2"/><stop offset=".900" stop-color="#d2d2d2"/><stop offset=".924" stop-color="#e0e0e0"/><stop offset=".948" stop-color="#e9e9e9"/><stop offset="1.000" stop-color="#f1f1f1"/></linearGradient>
<linearGradient id="b12" gradientUnits="userSpaceOnUse" x1="67.7" x2="311.9" y1="0" y2="0"><stop offset=".000" stop-color="#e7e7e7"/><stop offset=".019" stop-color="#efefef"/><stop offset=".043" stop-color="#f4f4f4"/><stop offset=".210" stop-color="#f4f4f4"/><stop offset=".238" stop-color="#f0f0f0"/><stop offset=".248" stop-color="#ececec"/><stop offset=".276" stop-color="#d9d9d9"/><stop offset=".286" stop-color="#cdcdcd"/><stop offset=".295" stop-color="#b9b9b9"/><stop offset=".314" stop-color="#757575"/><stop offset=".319" stop-color="#636363"/><stop offset=".333" stop-color="#404040"/><stop offset=".352" stop-color="#1d1d1d"/><stop offset=".362" stop-color="#131313"/><stop offset=".371" stop-color="#0d0d0d"/><stop offset=".390" stop-color="#0f0f0f"/><stop offset=".400" stop-color="#151515"/><stop offset=".443" stop-color="#434343"/><stop offset=".476" stop-color="#5f5f5f"/><stop offset=".495" stop-color="#727272"/><stop offset=".514" stop-color="#8b8b8b"/><stop offset=".552" stop-color="#c2c2c2"/><stop offset=".567" stop-color="#d3d3d3"/><stop offset=".590" stop-color="#e5e5e5"/><stop offset=".614" stop-color="#efefef"/><stop offset=".652" stop-color="#f4f4f4"/><stop offset=".676" stop-color="#f2f2f2"/><stop offset=".690" stop-color="#ededed"/><stop offset=".705" stop-color="#e4e4e4"/><stop offset=".724" stop-color="#d6d6d6"/><stop offset=".752" stop-color="#c6c6c6"/><stop offset=".771" stop-color="#bfbfbf"/><stop offset=".819" stop-color="#b7b7b7"/><stop offset=".867" stop-color="#bfbfbf"/><stop offset=".886" stop-color="#c7c7c7"/><stop offset=".933" stop-color="#e4e4e4"/><stop offset=".962" stop-color="#ececec"/><stop offset="1.000" stop-color="#f1f1f1"/></linearGradient>
<linearGradient id="b13" gradientUnits="userSpaceOnUse" x1="67.7" x2="311.9" y1="0" y2="0"><stop offset=".000" stop-color="#e7e7e7"/><stop offset=".019" stop-color="#efefef"/><stop offset=".043" stop-color="#f4f4f4"/><stop offset=".210" stop-color="#f4f4f4"/><stop offset=".238" stop-color="#eeeeee"/><stop offset=".267" stop-color="#dddddd"/><stop offset=".276" stop-color="#d5d5d5"/><stop offset=".286" stop-color="#c9c9c9"/><stop offset=".295" stop-color="#b5b5b5"/><stop offset=".319" stop-color="#686868"/><stop offset=".333" stop-color="#454545"/><stop offset=".352" stop-color="#232323"/><stop offset=".362" stop-color="#191919"/><stop offset=".371" stop-color="#121212"/><stop offset=".381" stop-color="#101010"/><stop offset=".400" stop-color="#161616"/><stop offset=".429" stop-color="#323232"/><stop offset=".443" stop-color="#414141"/><stop offset=".476" stop-color="#5d5d5d"/><stop offset=".495" stop-color="#717171"/><stop offset=".514" stop-color="#8a8a8a"/><stop offset=".552" stop-color="#c0c0c0"/><stop offset=".567" stop-color="#d2d2d2"/><stop offset=".590" stop-color="#e4e4e4"/><stop offset=".614" stop-color="#efefef"/><stop offset=".652" stop-color="#f4f4f4"/><stop offset=".676" stop-color="#f2f2f2"/><stop offset=".690" stop-color="#ededed"/><stop offset=".705" stop-color="#e4e4e4"/><stop offset=".724" stop-color="#d6d6d6"/><stop offset=".752" stop-color="#c6c6c6"/><stop offset=".795" stop-color="#bababa"/><stop offset=".819" stop-color="#b8b8b8"/><stop offset=".843" stop-color="#bababa"/><stop offset=".867" stop-color="#c0c0c0"/><stop offset=".886" stop-color="#c9c9c9"/><stop offset=".914" stop-color="#dddddd"/><stop offset=".948" stop-color="#ebebeb"/><stop offset="1.000" stop-color="#f1f1f1"/></linearGradient>
<linearGradient id="b14" gradientUnits="userSpaceOnUse" x1="67.7" x2="311.9" y1="0" y2="0"><stop offset=".000" stop-color="#e7e7e7"/><stop offset=".029" stop-color="#f1f1f1"/><stop offset=".043" stop-color="#f4f4f4"/><stop offset=".210" stop-color="#f4f4f4"/><stop offset=".238" stop-color="#ebebeb"/><stop offset=".267" stop-color="#dbdbdb"/><stop offset=".276" stop-color="#d3d3d3"/><stop offset=".290" stop-color="#bdbdbd"/><stop offset=".319" stop-color="#6e6e6e"/><stop offset=".333" stop-color="#4d4d4d"/><stop offset=".352" stop-color="#2d2d2d"/><stop offset=".371" stop-color="#1b1b1b"/><stop offset=".381" stop-color="#181818"/><stop offset=".390" stop-color="#181818"/><stop offset=".400" stop-color="#1b1b1b"/><stop offset=".457" stop-color="#4e4e4e"/><stop offset=".476" stop-color="#5e5e5e"/><stop offset=".495" stop-color="#727272"/><stop offset=".514" stop-color="#8b8b8b"/><stop offset=".533" stop-color="#a7a7a7"/><stop offset=".567" stop-color="#d1d1d1"/><stop offset=".581" stop-color="#dedede"/><stop offset=".600" stop-color="#e9e9e9"/><stop offset=".614" stop-color="#efefef"/><stop offset=".652" stop-color="#f4f4f4"/><stop offset=".676" stop-color="#f2f2f2"/><stop offset=".690" stop-color="#ededed"/><stop offset=".738" stop-color="#cfcfcf"/><stop offset=".771" stop-color="#c3c3c3"/><stop offset=".795" stop-color="#bebebe"/><stop offset=".819" stop-color="#bcbcbc"/><stop offset=".843" stop-color="#bebebe"/><stop offset=".867" stop-color="#c4c4c4"/><stop offset=".886" stop-color="#cbcbcb"/><stop offset=".924" stop-color="#e2e2e2"/><stop offset=".948" stop-color="#ebebeb"/><stop offset="1.000" stop-color="#f1f1f1"/></linearGradient>
<linearGradient id="b15" gradientUnits="userSpaceOnUse" x1="67.7" x2="311.9" y1="0" y2="0"><stop offset=".000" stop-color="#e7e7e7"/><stop offset=".029" stop-color="#f1f1f1"/><stop offset=".043" stop-color="#f4f4f4"/><stop offset=".210" stop-color="#f4f4f4"/><stop offset=".229" stop-color="#efefef"/><stop offset=".267" stop-color="#dadada"/><stop offset=".276" stop-color="#d3d3d3"/><stop offset=".290" stop-color="#bebebe"/><stop offset=".319" stop-color="#727272"/><stop offset=".333" stop-color="#535353"/><stop offset=".352" stop-color="#343434"/><stop offset=".371" stop-color="#222222"/><stop offset=".390" stop-color="#1e1e1e"/><stop offset=".400" stop-color="#202020"/><stop offset=".429" stop-color="#343434"/><stop offset=".476" stop-color="#5d5d5d"/><stop offset=".495" stop-color="#707070"/><stop offset=".514" stop-color="#898989"/><stop offset=".533" stop-color="#a6a6a6"/><stop offset=".552" stop-color="#c0c0c0"/><stop offset=".567" stop-color="#d1d1d1"/><stop offset=".590" stop-color="#e4e4e4"/><stop offset=".614" stop-color="#efefef"/><stop offset=".652" stop-color="#f4f4f4"/><stop offset=".676" stop-color="#f2f2f2"/><stop offset=".690" stop-color="#eeeeee"/><stop offset=".724" stop-color="#d9d9d9"/><stop offset=".752" stop-color="#cccccc"/><stop offset=".771" stop-color="#c6c6c6"/><stop offset=".819" stop-color="#c0c0c0"/><stop offset=".843" stop-color="#c2c2c2"/><stop offset=".886" stop-color="#cdcdcd"/><stop offset=".933" stop-color="#e5e5e5"/><stop offset=".962" stop-color="#ededed"/><stop offset="1.000" stop-color="#f1f1f1"/></linearGradient>
<linearGradient id="b16" gradientUnits="userSpaceOnUse" x1="67.7" x2="311.9" y1="0" y2="0"><stop offset=".000" stop-color="#e7e7e7"/><stop offset=".029" stop-color="#f1f1f1"/><stop offset=".043" stop-color="#f4f4f4"/><stop offset=".210" stop-color="#f4f4f4"/><stop offset=".229" stop-color="#f0f0f0"/><stop offset=".267" stop-color="#dcdcdc"/><stop offset=".276" stop-color="#d4d4d4"/><stop offset=".290" stop-color="#c1c1c1"/><stop offset=".295" stop-color="#b6b6b6"/><stop offset=".319" stop-color="#757575"/><stop offset=".333" stop-color="#585858"/><stop offset=".352" stop-color="#3b3b3b"/><stop offset=".371" stop-color="#2b2b2b"/><stop offset=".390" stop-color="#272727"/><stop offset=".400" stop-color="#282828"/><stop offset=".429" stop-color="#393939"/><stop offset=".476" stop-color="#5e5e5e"/><stop offset=".495" stop-color="#717171"/><stop offset=".514" stop-color="#8b8b8b"/><stop offset=".533" stop-color="#a9a9a9"/><stop offset=".552" stop-color="#c4c4c4"/><stop offset=".567" stop-color="#d5d5d5"/><stop offset=".590" stop-color="#e7e7e7"/><stop offset=".614" stop-color="#f0f0f0"/><stop offset=".629" stop-color="#f3f3f3"/><stop offset=".652" stop-color="#f4f4f4"/><stop offset=".676" stop-color="#f2f2f2"/><stop offset=".690" stop-color="#eeeeee"/><stop offset=".738" stop-color="#d4d4d4"/><stop offset=".771" stop-color="#cacaca"/><stop offset=".819" stop-color="#c4c4c4"/><stop offset=".867" stop-color="#cacaca"/><stop offset=".900" stop-color="#d6d6d6"/><stop offset=".933" stop-color="#e6e6e6"/><stop offset=".962" stop-color="#ededed"/><stop offset="1.000" stop-color="#f1f1f1"/></linearGradient>
<linearGradient id="b17" gradientUnits="userSpaceOnUse" x1="67.7" x2="311.9" y1="0" y2="0"><stop offset=".000" stop-color="#e7e7e7"/><stop offset=".019" stop-color="#efefef"/><stop offset=".043" stop-color="#f4f4f4"/><stop offset=".210" stop-color="#f4f4f4"/><stop offset=".238" stop-color="#ededed"/><stop offset=".267" stop-color="#dedede"/><stop offset=".276" stop-color="#d6d6d6"/><stop offset=".290" stop-color="#c3c3c3"/><stop offset=".295" stop-color="#b9b9b9"/><stop offset=".319" stop-color="#787878"/><stop offset=".333" stop-color="#5c5c5c"/><stop offset=".352" stop-color="#424242"/><stop offset=".371" stop-color="#343434"/><stop offset=".390" stop-color="#303030"/><stop offset=".400" stop-color="#313131"/><stop offset=".429" stop-color="#3f3f3f"/><stop offset=".476" stop-color="#606060"/><stop offset=".495" stop-color="#727272"/><stop offset=".514" stop-color="#8c8c8c"/><stop offset=".552" stop-color="#c4c4c4"/><stop offset=".567" stop-color="#d5d5d5"/><stop offset=".581" stop-color="#e1e1e1"/><stop offset=".600" stop-color="#ebebeb"/><stop offset=".629" stop-color="#f3f3f3"/><stop offset=".652" stop-color="#f4f4f4"/><stop offset=".676" stop-color="#f1f1f1"/><stop offset=".690" stop-color="#ededed"/><stop offset=".714" stop-color="#dedede"/><stop offset=".752" stop-color="#d0d0d0"/><stop offset=".795" stop-color="#c8c8c8"/><stop offset=".819" stop-color="#c7c7c7"/><stop offset=".867" stop-color="#cdcdcd"/><stop offset=".886" stop-color="#d2d2d2"/><stop offset=".933" stop-color="#e7e7e7"/><stop offset=".962" stop-color="#eeeeee"/><stop offset="1.000" stop-color="#f1f1f1"/></linearGradient>
<linearGradient id="b18" gradientUnits="userSpaceOnUse" x1="67.7" x2="311.9" y1="0" y2="0"><stop offset=".000" stop-color="#e7e7e7"/><stop offset=".019" stop-color="#efefef"/><stop offset=".043" stop-color="#f4f4f4"/><stop offset=".210" stop-color="#f4f4f4"/><stop offset=".229" stop-color="#f0f0f0"/><stop offset=".267" stop-color="#dddddd"/><stop offset=".276" stop-color="#d5d5d5"/><stop offset=".290" stop-color="#c2c2c2"/><stop offset=".295" stop-color="#b8b8b8"/><stop offset=".319" stop-color="#7a7a7a"/><stop offset=".333" stop-color="#606060"/><stop offset=".352" stop-color="#484848"/><stop offset=".371" stop-color="#3c3c3c"/><stop offset=".400" stop-color="#393939"/><stop offset=".429" stop-color="#444444"/><stop offset=".457" stop-color="#535353"/><stop offset=".476" stop-color="#5f5f5f"/><stop offset=".495" stop-color="#717171"/><stop offset=".552" stop-color="#bbbbbb"/><stop offset=".581" stop-color="#d9d9d9"/><stop offset=".600" stop-color="#e6e6e6"/><stop offset=".614" stop-color="#ededed"/><stop offset=".629" stop-color="#f1f1f1"/><stop offset=".652" stop-color="#f4f4f4"/><stop offset=".676" stop-color="#f2f2f2"/><stop offset=".690" stop-color="#eeeeee"/><stop offset=".714" stop-color="#e0e0e0"/><stop offset=".738" stop-color="#d6d6d6"/><stop offset=".771" stop-color="#cdcdcd"/><stop offset=".819" stop-color="#c7c7c7"/><stop offset=".867" stop-color="#cdcdcd"/><stop offset=".900" stop-color="#d7d7d7"/><stop offset=".933" stop-color="#e5e5e5"/><stop offset=".962" stop-color="#ededed"/><stop offset="1.000" stop-color="#f1f1f1"/></linearGradient>
<linearGradient id="b19" gradientUnits="userSpaceOnUse" x1="67.7" x2="311.9" y1="0" y2="0"><stop offset=".000" stop-color="#e7e7e7"/><stop offset=".019" stop-color="#efefef"/><stop offset=".043" stop-color="#f4f4f4"/><stop offset=".210" stop-color="#f3f3f3"/><stop offset=".229" stop-color="#eeeeee"/><stop offset=".267" stop-color="#d9d9d9"/><stop offset=".276" stop-color="#d1d1d1"/><stop offset=".286" stop-color="#c5c5c5"/><stop offset=".290" stop-color="#bdbdbd"/><stop offset=".319" stop-color="#7b7b7b"/><stop offset=".333" stop-color="#616161"/><stop offset=".352" stop-color="#4a4a4a"/><stop offset=".371" stop-color="#3f3f3f"/><stop offset=".400" stop-color="#3b3b3b"/><stop offset=".443" stop-color="#4d4d4d"/><stop offset=".476" stop-color="#606060"/><stop offset=".495" stop-color="#727272"/><stop offset=".514" stop-color="#898989"/><stop offset=".552" stop-color="#bcbcbc"/><stop offset=".567" stop-color="#cccccc"/><stop offset=".590" stop-color="#e1e1e1"/><stop offset=".614" stop-color="#ededed"/><stop offset=".629" stop-color="#f1f1f1"/><stop offset=".652" stop-color="#f4f4f4"/><stop offset=".676" stop-color="#f2f2f2"/><stop offset=".690" stop-color="#eeeeee"/><stop offset=".714" stop-color="#e0e0e0"/><stop offset=".738" stop-color="#d6d6d6"/><stop offset=".795" stop-color="#cacaca"/><stop offset=".819" stop-color="#c8c8c8"/><stop offset=".867" stop-color="#cecece"/><stop offset=".900" stop-color="#d8d8d8"/><stop offset=".933" stop-color="#e6e6e6"/><stop offset=".981" stop-color="#f0f0f0"/><stop offset="1.000" stop-color="#f1f1f1"/></linearGradient>
<linearGradient id="b20" gradientUnits="userSpaceOnUse" x1="67.7" x2="311.9" y1="0" y2="0"><stop offset=".000" stop-color="#e7e7e7"/><stop offset=".029" stop-color="#f1f1f1"/><stop offset=".043" stop-color="#f4f4f4"/><stop offset=".190" stop-color="#f4f4f4"/><stop offset=".210" stop-color="#f1f1f1"/><stop offset=".257" stop-color="#dbdbdb"/><stop offset=".267" stop-color="#d5d5d5"/><stop offset=".286" stop-color="#c0c0c0"/><stop offset=".319" stop-color="#7b7b7b"/><stop offset=".333" stop-color="#626262"/><stop offset=".352" stop-color="#4b4b4b"/><stop offset=".371" stop-color="#3f3f3f"/><stop offset=".400" stop-color="#3c3c3c"/><stop offset=".429" stop-color="#464646"/><stop offset=".457" stop-color="#555555"/><stop offset=".476" stop-color="#616161"/><stop offset=".495" stop-color="#727272"/><stop offset=".552" stop-color="#b9b9b9"/><stop offset=".581" stop-color="#d6d6d6"/><stop offset=".600" stop-color="#e4e4e4"/><stop offset=".629" stop-color="#f0f0f0"/><stop offset=".652" stop-color="#f3f3f3"/><stop offset=".676" stop-color="#f1f1f1"/><stop offset=".690" stop-color="#ececec"/><stop offset=".714" stop-color="#dfdfdf"/><stop offset=".752" stop-color="#d2d2d2"/><stop offset=".795" stop-color="#cacaca"/><stop offset=".819" stop-color="#c8c8c8"/><stop offset=".867" stop-color="#cecece"/><stop offset=".914" stop-color="#dddddd"/><stop offset=".948" stop-color="#eaeaea"/><stop offset=".981" stop-color="#f0f0f0"/><stop offset="1.000" stop-color="#f1f1f1"/></linearGradient>
<linearGradient id="b21" gradientUnits="userSpaceOnUse" x1="67.7" x2="311.9" y1="0" y2="0"><stop offset=".000" stop-color="#e7e7e7"/><stop offset=".029" stop-color="#f1f1f1"/><stop offset=".043" stop-color="#f4f4f4"/><stop offset=".190" stop-color="#f4f4f4"/><stop offset=".210" stop-color="#f1f1f1"/><stop offset=".267" stop-color="#d4d4d4"/><stop offset=".286" stop-color="#bdbdbd"/><stop offset=".319" stop-color="#7a7a7a"/><stop offset=".333" stop-color="#616161"/><stop offset=".352" stop-color="#494949"/><stop offset=".371" stop-color="#3d3d3d"/><stop offset=".400" stop-color="#3a3a3a"/><stop offset=".429" stop-color="#444444"/><stop offset=".457" stop-color="#535353"/><stop offset=".476" stop-color="#5f5f5f"/><stop offset=".495" stop-color="#717171"/><stop offset=".552" stop-color="#b8b8b8"/><stop offset=".581" stop-color="#d6d6d6"/><stop offset=".600" stop-color="#e4e4e4"/><stop offset=".629" stop-color="#f0f0f0"/><stop offset=".652" stop-color="#f3f3f3"/><stop offset=".676" stop-color="#f0f0f0"/><stop offset=".690" stop-color="#eaeaea"/><stop offset=".714" stop-color="#dddddd"/><stop offset=".738" stop-color="#d4d4d4"/><stop offset=".795" stop-color="#c9c9c9"/><stop offset=".843" stop-color="#c9c9c9"/><stop offset=".886" stop-color="#d2d2d2"/><stop offset=".914" stop-color="#dcdcdc"/><stop offset=".948" stop-color="#e9e9e9"/><stop offset=".962" stop-color="#ededed"/><stop offset="1.000" stop-color="#f1f1f1"/></linearGradient>
<linearGradient id="b22" gradientUnits="userSpaceOnUse" x1="67.7" x2="311.9" y1="0" y2="0"><stop offset=".000" stop-color="#e7e7e7"/><stop offset=".019" stop-color="#efefef"/><stop offset=".043" stop-color="#f4f4f4"/><stop offset=".190" stop-color="#f4f4f4"/><stop offset=".210" stop-color="#f0f0f0"/><stop offset=".257" stop-color="#d9d9d9"/><stop offset=".267" stop-color="#d3d3d3"/><stop offset=".276" stop-color="#c9c9c9"/><stop offset=".286" stop-color="#bcbcbc"/><stop offset=".324" stop-color="#707070"/><stop offset=".333" stop-color="#5e5e5e"/><stop offset=".352" stop-color="#464646"/><stop offset=".371" stop-color="#393939"/><stop offset=".400" stop-color="#353535"/><stop offset=".443" stop-color="#4a4a4a"/><stop offset=".476" stop-color="#5f5f5f"/><stop offset=".495" stop-color="#717171"/><stop offset=".552" stop-color="#bcbcbc"/><stop offset=".581" stop-color="#dadada"/><stop offset=".600" stop-color="#e6e6e6"/><stop offset=".614" stop-color="#ededed"/><stop offset=".629" stop-color="#f1f1f1"/><stop offset=".652" stop-color="#f3f3f3"/><stop offset=".676" stop-color="#efefef"/><stop offset=".714" stop-color="#dbdbdb"/><stop offset=".752" stop-color="#d0d0d0"/><stop offset=".795" stop-color="#c9c9c9"/><stop offset=".819" stop-color="#c7c7c7"/><stop offset=".867" stop-color="#cdcdcd"/><stop offset=".900" stop-color="#d6d6d6"/><stop offset=".948" stop-color="#e9e9e9"/><stop offset="1.000" stop-color="#f1f1f1"/></linearGradient>
<linearGradient id="b23" gradientUnits="userSpaceOnUse" x1="67.7" x2="311.9" y1="0" y2="0"><stop offset=".000" stop-color="#e7e7e7"/><stop offset=".019" stop-color="#efefef"/><stop offset=".043" stop-color="#f4f4f4"/><stop offset=".190" stop-color="#f4f4f4"/><stop offset=".210" stop-color="#f0f0f0"/><stop offset=".248" stop-color="#dedede"/><stop offset=".267" stop-color="#d2d2d2"/><stop offset=".276" stop-color="#c8c8c8"/><stop offset=".286" stop-color="#bbbbbb"/><stop offset=".319" stop-color="#787878"/><stop offset=".333" stop-color="#5d5d5d"/><stop offset=".352" stop-color="#444444"/><stop offset=".371" stop-color="#363636"/><stop offset=".400" stop-color="#333333"/><stop offset=".429" stop-color="#414141"/><stop offset=".457" stop-color="#525252"/><stop offset=".476" stop-color="#606060"/><stop offset=".495" stop-color="#727272"/><stop offset=".514" stop-color="#8b8b8b"/><stop offset=".533" stop-color="#a8a8a8"/><stop offset=".567" stop-color="#d4d4d4"/><stop offset=".590" stop-color="#e5e5e5"/><stop offset=".614" stop-color="#efefef"/><stop offset=".629" stop-color="#f2f2f2"/><stop offset=".652" stop-color="#f3f3f3"/><stop offset=".676" stop-color="#ededed"/><stop offset=".714" stop-color="#d9d9d9"/><stop offset=".752" stop-color="#cecece"/><stop offset=".795" stop-color="#c7c7c7"/><stop offset=".819" stop-color="#c5c5c5"/><stop offset=".867" stop-color="#cbcbcb"/><stop offset=".900" stop-color="#d4d4d4"/><stop offset=".948" stop-color="#e7e7e7"/><stop offset=".981" stop-color="#eeeeee"/><stop offset="1.000" stop-color="#f0f0f0"/></linearGradient>
<linearGradient id="b24" gradientUnits="userSpaceOnUse" x1="67.7" x2="311.9" y1="0" y2="0"><stop offset=".000" stop-color="#e7e7e7"/><stop offset=".019" stop-color="#efefef"/><stop offset=".043" stop-color="#f4f4f4"/><stop offset=".190" stop-color="#f4f4f4"/><stop offset=".210" stop-color="#f0f0f0"/><stop offset=".257" stop-color="#d9d9d9"/><stop offset=".267" stop-color="#d3d3d3"/><stop offset=".286" stop-color="#bbbbbb"/><stop offset=".333" stop-color="#5c5c5c"/><stop offset=".352" stop-color="#424242"/><stop offset=".371" stop-color="#343434"/><stop offset=".390" stop-color="#303030"/><stop offset=".400" stop-color="#313131"/><stop offset=".429" stop-color="#3f3f3f"/><stop offset=".476" stop-color="#606060"/><stop offset=".495" stop-color="#727272"/><stop offset=".514" stop-color="#8c8c8c"/><stop offset=".533" stop-color="#aaaaaa"/><stop offset=".552" stop-color="#c5c5c5"/><stop offset=".567" stop-color="#d7d7d7"/><stop offset=".581" stop-color="#e3e3e3"/><stop offset=".600" stop-color="#ececec"/><stop offset=".629" stop-color="#f3f3f3"/><stop offset=".652" stop-color="#f3f3f3"/><stop offset=".676" stop-color="#eeeeee"/><stop offset=".705" stop-color="#dddddd"/><stop offset=".738" stop-color="#d1d1d1"/><stop offset=".795" stop-color="#c6c6c6"/><stop offset=".819" stop-color="#c4c4c4"/><stop offset=".867" stop-color="#cacaca"/><stop offset=".900" stop-color="#d3d3d3"/><stop offset=".948" stop-color="#e7e7e7"/><stop offset=".981" stop-color="#efefef"/><stop offset="1.000" stop-color="#f0f0f0"/></linearGradient>
<linearGradient id="b25" gradientUnits="userSpaceOnUse" x1="67.7" x2="311.9" y1="0" y2="0"><stop offset=".000" stop-color="#e7e7e7"/><stop offset=".029" stop-color="#f1f1f1"/><stop offset=".043" stop-color="#f4f4f4"/><stop offset=".190" stop-color="#f4f4f4"/><stop offset=".210" stop-color="#f1f1f1"/><stop offset=".248" stop-color="#dfdfdf"/><stop offset=".267" stop-color="#d4d4d4"/><stop offset=".286" stop-color="#bdbdbd"/><stop offset=".324" stop-color="#6c6c6c"/><stop offset=".333" stop-color="#585858"/><stop offset=".352" stop-color="#3b3b3b"/><stop offset=".371" stop-color="#2b2b2b"/><stop offset=".390" stop-color="#272727"/><stop offset=".400" stop-color="#282828"/><stop offset=".429" stop-color="#393939"/><stop offset=".476" stop-color="#5f5f5f"/><stop offset=".495" stop-color="#727272"/><stop offset=".514" stop-color="#8b8b8b"/><stop offset=".552" stop-color="#c3c3c3"/><stop offset=".567" stop-color="#d4d4d4"/><stop offset=".590" stop-color="#e6e6e6"/><stop offset=".614" stop-color="#efefef"/><stop offset=".629" stop-color="#f2f2f2"/><stop offset=".652" stop-color="#f3f3f3"/><stop offset=".676" stop-color="#eeeeee"/><stop offset=".714" stop-color="#dadada"/><stop offset=".752" stop-color="#cdcdcd"/><stop offset=".795" stop-color="#c5c5c5"/><stop offset=".819" stop-color="#c3c3c3"/><stop offset=".867" stop-color="#c9c9c9"/><stop offset=".900" stop-color="#d3d3d3"/><stop offset=".948" stop-color="#e8e8e8"/><stop offset=".981" stop-color="#efefef"/><stop offset="1.000" stop-color="#f0f0f0"/></linearGradient>
<linearGradient id="b26" gradientUnits="userSpaceOnUse" x1="67.7" x2="311.9" y1="0" y2="0"><stop offset=".000" stop-color="#e7e7e7"/><stop offset=".019" stop-color="#efefef"/><stop offset=".043" stop-color="#f4f4f4"/><stop offset=".190" stop-color="#f4f4f4"/><stop offset=".210" stop-color="#f2f2f2"/><stop offset=".229" stop-color="#ececec"/><stop offset=".267" stop-color="#d7d7d7"/><stop offset=".286" stop-color="#c1c1c1"/><stop offset=".295" stop-color="#acacac"/><stop offset=".324" stop-color="#676767"/><stop offset=".333" stop-color="#535353"/><stop offset=".352" stop-color="#333333"/><stop offset=".371" stop-color="#222222"/><stop offset=".390" stop-color="#1e1e1e"/><stop offset=".400" stop-color="#1f1f1f"/><stop offset=".429" stop-color="#343434"/><stop offset=".443" stop-color="#424242"/><stop offset=".476" stop-color="#5d5d5d"/><stop offset=".495" stop-color="#717171"/><stop offset=".514" stop-color="#8a8a8a"/><stop offset=".533" stop-color="#a7a7a7"/><stop offset=".552" stop-color="#c1c1c1"/><stop offset=".567" stop-color="#d2d2d2"/><stop offset=".590" stop-color="#e5e5e5"/><stop offset=".614" stop-color="#efefef"/><stop offset=".629" stop-color="#f2f2f2"/><stop offset=".652" stop-color="#f3f3f3"/><stop offset=".676" stop-color="#f0f0f0"/><stop offset=".690" stop-color="#eaeaea"/><stop offset=".714" stop-color="#dbdbdb"/><stop offset=".752" stop-color="#cbcbcb"/><stop offset=".795" stop-color="#c2c2c2"/><stop offset=".819" stop-color="#c1c1c1"/><stop offset=".867" stop-color="#c7c7c7"/><stop offset=".900" stop-color="#d3d3d3"/><stop offset=".933" stop-color="#e3e3e3"/><stop offset=".962" stop-color="#ececec"/><stop offset="1.000" stop-color="#f1f1f1"/></linearGradient>
<linearGradient id="b27" gradientUnits="userSpaceOnUse" x1="67.7" x2="311.9" y1="0" y2="0"><stop offset=".000" stop-color="#e7e7e7"/><stop offset=".019" stop-color="#efefef"/><stop offset=".043" stop-color="#f4f4f4"/><stop offset=".210" stop-color="#f4f4f4"/><stop offset=".229" stop-color="#efefef"/><stop offset=".267" stop-color="#dadada"/><stop offset=".276" stop-color="#d2d2d2"/><stop offset=".290" stop-color="#bcbcbc"/><stop offset=".319" stop-color="#6d6d6d"/><stop offset=".333" stop-color="#4c4c4c"/><stop offset=".352" stop-color="#2b2b2b"/><stop offset=".371" stop-color="#191919"/><stop offset=".381" stop-color="#161616"/><stop offset=".390" stop-color="#161616"/><stop offset=".400" stop-color="#191919"/><stop offset=".429" stop-color="#323232"/><stop offset=".443" stop-color="#414141"/><stop offset=".476" stop-color="#5e5e5e"/><stop offset=".495" stop-color="#717171"/><stop offset=".514" stop-color="#8b8b8b"/><stop offset=".533" stop-color="#a8a8a8"/><stop offset=".567" stop-color="#d4d4d4"/><stop offset=".590" stop-color="#e6e6e6"/><stop offset=".629" stop-color="#f3f3f3"/><stop offset=".652" stop-color="#f4f4f4"/><stop offset=".676" stop-color="#f1f1f1"/><stop offset=".690" stop-color="#ececec"/><stop offset=".724" stop-color="#d6d6d6"/><stop offset=".752" stop-color="#cacaca"/><stop offset=".795" stop-color="#bfbfbf"/><stop offset=".819" stop-color="#bdbdbd"/><stop offset=".843" stop-color="#bfbfbf"/><stop offset=".867" stop-color="#c5c5c5"/><stop offset=".900" stop-color="#d3d3d3"/><stop offset=".924" stop-color="#e1e1e1"/><stop offset=".962" stop-color="#ededed"/><stop offset="1.000" stop-color="#f1f1f1"/></linearGradient>
<linearGradient id="b28" gradientUnits="userSpaceOnUse" x1="67.7" x2="311.9" y1="0" y2="0"><stop offset=".000" stop-color="#e7e7e7"/><stop offset=".029" stop-color="#f1f1f1"/><stop offset=".043" stop-color="#f4f4f4"/><stop offset=".210" stop-color="#f4f4f4"/><stop offset=".238" stop-color="#eeeeee"/><stop offset=".276" stop-color="#d6d6d6"/><stop offset=".286" stop-color="#c9c9c9"/><stop offset=".295" stop-color="#b6b6b6"/><stop offset=".319" stop-color="#6a6a6a"/><stop offset=".333" stop-color="#484848"/><stop offset=".352" stop-color="#252525"/><stop offset=".371" stop-color="#131313"/><stop offset=".390" stop-color="#111111"/><stop offset=".400" stop-color="#151515"/><stop offset=".429" stop-color="#303030"/><stop offset=".443" stop-color="#404040"/><stop offset=".476" stop-color="#5d5d5d"/><stop offset=".495" stop-color="#717171"/><stop offset=".514" stop-color="#8c8c8c"/><stop offset=".533" stop-color="#ababab"/><stop offset=".552" stop-color="#c7c7c7"/><stop offset=".567" stop-color="#d8d8d8"/><stop offset=".581" stop-color="#e3e3e3"/><stop offset=".614" stop-color="#f1f1f1"/><stop offset=".652" stop-color="#f4f4f4"/><stop offset=".676" stop-color="#f2f2f2"/><stop offset=".690" stop-color="#ededed"/><stop offset=".705" stop-color="#e4e4e4"/><stop offset=".724" stop-color="#d6d6d6"/><stop offset=".752" stop-color="#c8c8c8"/><stop offset=".771" stop-color="#c1c1c1"/><stop offset=".795" stop-color="#bcbcbc"/><stop offset=".819" stop-color="#bababa"/><stop offset=".843" stop-color="#bcbcbc"/><stop offset=".867" stop-color="#c2c2c2"/><stop offset=".886" stop-color="#cbcbcb"/><stop offset=".924" stop-color="#e2e2e2"/><stop offset=".948" stop-color="#ebebeb"/><stop offset="1.000" stop-color="#f1f1f1"/></linearGradient>
<linearGradient id="b29" gradientUnits="userSpaceOnUse" x1="67.7" x2="311.9" y1="0" y2="0"><stop offset=".000" stop-color="#e7e7e7"/><stop offset=".029" stop-color="#f1f1f1"/><stop offset=".043" stop-color="#f4f4f4"/><stop offset=".210" stop-color="#f4f4f4"/><stop offset=".229" stop-color="#f2f2f2"/><stop offset=".248" stop-color="#ebebeb"/><stop offset=".276" stop-color="#d9d9d9"/><stop offset=".286" stop-color="#cecece"/><stop offset=".295" stop-color="#bababa"/><stop offset=".314" stop-color="#787878"/><stop offset=".319" stop-color="#676767"/><stop offset=".333" stop-color="#444444"/><stop offset=".352" stop-color="#202020"/><stop offset=".362" stop-color="#161616"/><stop offset=".371" stop-color="#0f0f0f"/><stop offset=".381" stop-color="#0d0d0d"/><stop offset=".390" stop-color="#0e0e0e"/><stop offset=".400" stop-color="#131313"/><stop offset=".443" stop-color="#404040"/><stop offset=".476" stop-color="#5e5e5e"/><stop offset=".495" stop-color="#727272"/><stop offset=".514" stop-color="#8c8c8c"/><stop offset=".533" stop-color="#aaaaaa"/><stop offset=".552" stop-color="#c5c5c5"/><stop offset=".567" stop-color="#d6d6d6"/><stop offset=".581" stop-color="#e2e2e2"/><stop offset=".600" stop-color="#ececec"/><stop offset=".629" stop-color="#f3f3f3"/><stop offset=".652" stop-color="#f4f4f4"/><stop offset=".676" stop-color="#f2f2f2"/><stop offset=".690" stop-color="#eeeeee"/><stop offset=".705" stop-color="#e6e6e6"/><stop offset=".724" stop-color="#d7d7d7"/><stop offset=".752" stop-color="#c6c6c6"/><stop offset=".771" stop-color="#bfbfbf"/><stop offset=".795" stop-color="#b9b9b9"/><stop offset=".819" stop-color="#b7b7b7"/><stop offset=".843" stop-color="#b9b9b9"/><stop offset=".867" stop-color="#c0c0c0"/><stop offset=".886" stop-color="#c9c9c9"/><stop offset=".924" stop-color="#e1e1e1"/><stop offset=".933" stop-color="#e6e6e6"/><stop offset=".962" stop-color="#ededed"/><stop offset="1.000" stop-color="#f1f1f1"/></linearGradient>
<linearGradient id="b30" gradientUnits="userSpaceOnUse" x1="67.7" x2="311.9" y1="0" y2="0"><stop offset=".000" stop-color="#e7e7e7"/><stop offset=".029" stop-color="#f1f1f1"/><stop offset=".043" stop-color="#f4f4f4"/><stop offset=".229" stop-color="#f3f3f3"/><stop offset=".248" stop-color="#ececec"/><stop offset=".276" stop-color="#dadada"/><stop offset=".286" stop-color="#cecece"/><stop offset=".295" stop-color="#bbbbbb"/><stop offset=".305" stop-color="#9b9b9b"/><stop offset=".319" stop-color="#656565"/><stop offset=".333" stop-color="#424242"/><stop offset=".352" stop-color="#1e1e1e"/><stop offset=".362" stop-color="#141414"/><stop offset=".371" stop-color="#0d0d0d"/><stop offset=".381" stop-color="#0c0c0c"/><stop offset=".390" stop-color="#0e0e0e"/><stop offset=".400" stop-color="#131313"/><stop offset=".443" stop-color="#414141"/><stop offset=".495" stop-color="#727272"/><stop offset=".514" stop-color="#8b8b8b"/><stop offset=".552" stop-color="#c3c3c3"/><stop offset=".567" stop-color="#d4d4d4"/><stop offset=".581" stop-color="#e0e0e0"/><stop offset=".600" stop-color="#eaeaea"/><stop offset=".629" stop-color="#f3f3f3"/><stop offset=".652" stop-color="#f4f4f4"/><stop offset=".676" stop-color="#f2f2f2"/><stop offset=".690" stop-color="#eeeeee"/><stop offset=".705" stop-color="#e5e5e5"/><stop offset=".738" stop-color="#cdcdcd"/><stop offset=".771" stop-color="#bfbfbf"/><stop offset=".819" stop-color="#b7b7b7"/><stop offset=".867" stop-color="#bfbfbf"/><stop offset=".900" stop-color="#d0d0d0"/><stop offset=".924" stop-color="#e0e0e0"/><stop offset=".948" stop-color="#e9e9e9"/><stop offset="1.000" stop-color="#f1f1f1"/></linearGradient>
<linearGradient id="b31" gradientUnits="userSpaceOnUse" x1="67.7" x2="311.9" y1="0" y2="0"><stop offset=".000" stop-color="#e7e7e7"/><stop offset=".029" stop-color="#f1f1f1"/><stop offset=".043" stop-color="#f4f4f4"/><stop offset=".210" stop-color="#f4f4f4"/><stop offset=".229" stop-color="#f2f2f2"/><stop offset=".248" stop-color="#eaeaea"/><stop offset=".267" stop-color="#dfdfdf"/><stop offset=".276" stop-color="#d7d7d7"/><stop offset=".286" stop-color="#cbcbcb"/><stop offset=".295" stop-color="#b8b8b8"/><stop offset=".319" stop-color="#666666"/><stop offset=".333" stop-color="#434343"/><stop offset=".352" stop-color="#212121"/><stop offset=".362" stop-color="#171717"/><stop offset=".371" stop-color="#111111"/><stop offset=".381" stop-color="#101010"/><stop offset=".390" stop-color="#121212"/><stop offset=".400" stop-color="#171717"/><stop offset=".443" stop-color="#434343"/><stop offset=".476" stop-color="#5f5f5f"/><stop offset=".495" stop-color="#737373"/><stop offset=".514" stop-color="#8c8c8c"/><stop offset=".533" stop-color="#a8a8a8"/><stop offset=".567" stop-color="#d2d2d2"/><stop offset=".581" stop-color="#dfdfdf"/><stop offset=".600" stop-color="#eaeaea"/><stop offset=".629" stop-color="#f2f2f2"/><stop offset=".652" stop-color="#f4f4f4"/><stop offset=".676" stop-color="#f2f2f2"/><stop offset=".690" stop-color="#eeeeee"/><stop offset=".705" stop-color="#e5e5e5"/><stop offset=".724" stop-color="#d7d7d7"/><stop offset=".752" stop-color="#c8c8c8"/><stop offset=".795" stop-color="#bdbdbd"/><stop offset=".819" stop-color="#bababa"/><stop offset=".843" stop-color="#bcbcbc"/><stop offset=".867" stop-color="#c2c2c2"/><stop offset=".886" stop-color="#cbcbcb"/><stop offset=".924" stop-color="#e2e2e2"/><stop offset=".948" stop-color="#ebebeb"/><stop offset="1.000" stop-color="#f1f1f1"/></linearGradient>
<linearGradient id="b32" gradientUnits="userSpaceOnUse" x1="67.7" x2="311.9" y1="0" y2="0"><stop offset=".000" stop-color="#e7e7e7"/><stop offset=".029" stop-color="#f1f1f1"/><stop offset=".043" stop-color="#f4f4f4"/><stop offset=".210" stop-color="#f4f4f4"/><stop offset=".238" stop-color="#ededed"/><stop offset=".267" stop-color="#dcdcdc"/><stop offset=".276" stop-color="#d3d3d3"/><stop offset=".286" stop-color="#c6c6c6"/><stop offset=".295" stop-color="#b2b2b2"/><stop offset=".319" stop-color="#666666"/><stop offset=".333" stop-color="#434343"/><stop offset=".352" stop-color="#212121"/><stop offset=".362" stop-color="#181818"/><stop offset=".371" stop-color="#121212"/><stop offset=".381" stop-color="#111111"/><stop offset=".390" stop-color="#131313"/><stop offset=".400" stop-color="#181818"/><stop offset=".443" stop-color="#434343"/><stop offset=".476" stop-color="#5f5f5f"/><stop offset=".495" stop-color="#727272"/><stop offset=".514" stop-color="#8b8b8b"/><stop offset=".533" stop-color="#a8a8a8"/><stop offset=".552" stop-color="#c2c2c2"/><stop offset=".567" stop-color="#d3d3d3"/><stop offset=".590" stop-color="#e6e6e6"/><stop offset=".629" stop-color="#f3f3f3"/><stop offset=".652" stop-color="#f4f4f4"/><stop offset=".676" stop-color="#f2f2f2"/><stop offset=".690" stop-color="#eeeeee"/><stop offset=".724" stop-color="#d9d9d9"/><stop offset=".752" stop-color="#cacaca"/><stop offset=".771" stop-color="#c4c4c4"/><stop offset=".819" stop-color="#bdbdbd"/><stop offset=".867" stop-color="#c5c5c5"/><stop offset=".886" stop-color="#cecece"/><stop offset=".914" stop-color="#e0e0e0"/><stop offset=".948" stop-color="#ececec"/><stop offset="1.000" stop-color="#f1f1f1"/></linearGradient>
<linearGradient id="b33" gradientUnits="userSpaceOnUse" x1="67.7" x2="311.9" y1="0" y2="0"><stop offset=".000" stop-color="#e7e7e7"/><stop offset=".029" stop-color="#f1f1f1"/><stop offset=".043" stop-color="#f4f4f4"/><stop offset=".210" stop-color="#f4f4f4"/><stop offset=".229" stop-color="#f0f0f0"/><stop offset=".267" stop-color="#dbdbdb"/><stop offset=".276" stop-color="#d2d2d2"/><stop offset=".290" stop-color="#bcbcbc"/><stop offset=".295" stop-color="#b0b0b0"/><stop offset=".319" stop-color="#686868"/><stop offset=".333" stop-color="#464646"/><stop offset=".352" stop-color="#252525"/><stop offset=".362" stop-color="#1c1c1c"/><stop offset=".371" stop-color="#161616"/><stop offset=".381" stop-color="#141414"/><stop offset=".400" stop-color="#1a1a1a"/><stop offset=".443" stop-color="#444444"/><stop offset=".476" stop-color="#5f5f5f"/><stop offset=".495" stop-color="#727272"/><stop offset=".514" stop-color="#8a8a8a"/><stop offset=".552" stop-color="#c0c0c0"/><stop offset=".567" stop-color="#d1d1d1"/><stop offset=".581" stop-color="#dedede"/><stop offset=".600" stop-color="#e9e9e9"/><stop offset=".629" stop-color="#f2f2f2"/><stop offset=".652" stop-color="#f4f4f4"/><stop offset=".676" stop-color="#f2f2f2"/><stop offset=".690" stop-color="#eeeeee"/><stop offset=".724" stop-color="#dadada"/><stop offset=".752" stop-color="#cecece"/><stop offset=".771" stop-color="#c8c8c8"/><stop offset=".819" stop-color="#c2c2c2"/><stop offset=".843" stop-color="#c4c4c4"/><stop offset=".886" stop-color="#cfcfcf"/><stop offset=".924" stop-color="#e2e2e2"/><stop offset=".948" stop-color="#ebebeb"/><stop offset="1.000" stop-color="#f1f1f1"/></linearGradient>
<linearGradient id="b34" gradientUnits="userSpaceOnUse" x1="67.7" x2="311.9" y1="0" y2="0"><stop offset=".000" stop-color="#e7e7e7"/><stop offset=".029" stop-color="#f1f1f1"/><stop offset=".043" stop-color="#f4f4f4"/><stop offset=".210" stop-color="#f4f4f4"/><stop offset=".229" stop-color="#f0f0f0"/><stop offset=".267" stop-color="#dcdcdc"/><stop offset=".276" stop-color="#d3d3d3"/><stop offset=".290" stop-color="#bdbdbd"/><stop offset=".295" stop-color="#b1b1b1"/><stop offset=".319" stop-color="#6b6b6b"/><stop offset=".333" stop-color="#4a4a4a"/><stop offset=".352" stop-color="#2b2b2b"/><stop offset=".362" stop-color="#222222"/><stop offset=".371" stop-color="#1c1c1c"/><stop offset=".390" stop-color="#1c1c1c"/><stop offset=".400" stop-color="#202020"/><stop offset=".429" stop-color="#383838"/><stop offset=".457" stop-color="#505050"/><stop offset=".476" stop-color="#5f5f5f"/><stop offset=".495" stop-color="#727272"/><stop offset=".514" stop-color="#8b8b8b"/><stop offset=".552" stop-color="#c2c2c2"/><stop offset=".567" stop-color="#d3d3d3"/><stop offset=".590" stop-color="#e5e5e5"/><stop offset=".614" stop-color="#efefef"/><stop offset=".652" stop-color="#f4f4f4"/><stop offset=".690" stop-color="#efefef"/><stop offset=".738" stop-color="#d5d5d5"/><stop offset=".752" stop-color="#cfcfcf"/><stop offset=".795" stop-color="#c6c6c6"/><stop offset=".819" stop-color="#c4c4c4"/><stop offset=".867" stop-color="#cacaca"/><stop offset=".900" stop-color="#d6d6d6"/><stop offset=".933" stop-color="#e6e6e6"/><stop offset=".962" stop-color="#ededed"/><stop offset="1.000" stop-color="#f1f1f1"/></linearGradient>
<linearGradient id="b35" gradientUnits="userSpaceOnUse" x1="67.7" x2="311.9" y1="0" y2="0"><stop offset=".000" stop-color="#e7e7e7"/><stop offset=".019" stop-color="#efefef"/><stop offset=".043" stop-color="#f4f4f4"/><stop offset=".210" stop-color="#f4f4f4"/><stop offset=".229" stop-color="#f1f1f1"/><stop offset=".267" stop-color="#dddddd"/><stop offset=".276" stop-color="#d5d5d5"/><stop offset=".290" stop-color="#c0c0c0"/><stop offset=".295" stop-color="#b6b6b6"/><stop offset=".319" stop-color="#6e6e6e"/><stop offset=".333" stop-color="#4f4f4f"/><stop offset=".352" stop-color="#313131"/><stop offset=".371" stop-color="#232323"/><stop offset=".381" stop-color="#212121"/><stop offset=".400" stop-color="#252525"/><stop offset=".476" stop-color="#5e5e5e"/><stop offset=".495" stop-color="#717171"/><stop offset=".514" stop-color="#8b8b8b"/><stop offset=".533" stop-color="#aaaaaa"/><stop offset=".552" stop-color="#c6c6c6"/><stop offset=".567" stop-color="#d8d8d8"/><stop offset=".581" stop-color="#e3e3e3"/><stop offset=".614" stop-color="#f1f1f1"/><stop offset=".652" stop-color="#f4f4f4"/><stop offset=".676" stop-color="#f1f1f1"/><stop offset=".690" stop-color="#ededed"/><stop offset=".724" stop-color="#dadada"/><stop offset=".752" stop-color="#cfcfcf"/><stop offset=".795" stop-color="#c7c7c7"/><stop offset=".819" stop-color="#c5c5c5"/><stop offset=".867" stop-color="#cbcbcb"/><stop offset=".900" stop-color="#d7d7d7"/><stop offset=".924" stop-color="#e3e3e3"/><stop offset=".948" stop-color="#ebebeb"/><stop offset="1.000" stop-color="#f1f1f1"/></linearGradient>
<linearGradient id="b36" gradientUnits="userSpaceOnUse" x1="67.7" x2="311.9" y1="0" y2="0"><stop offset=".000" stop-color="#e7e7e7"/><stop offset=".019" stop-color="#efefef"/><stop offset=".043" stop-color="#f4f4f4"/><stop offset=".210" stop-color="#f4f4f4"/><stop offset=".229" stop-color="#f0f0f0"/><stop offset=".267" stop-color="#dddddd"/><stop offset=".276" stop-color="#d5d5d5"/><stop offset=".286" stop-color="#c9c9c9"/><stop offset=".295" stop-color="#b7b7b7"/><stop offset=".319" stop-color="#747474"/><stop offset=".333" stop-color="#585858"/><stop offset=".352" stop-color="#3e3e3e"/><stop offset=".371" stop-color="#313131"/><stop offset=".400" stop-color="#313131"/><stop offset=".476" stop-color="#616161"/><stop offset=".495" stop-color="#737373"/><stop offset=".552" stop-color="#bbbbbb"/><stop offset=".567" stop-color="#cbcbcb"/><stop offset=".590" stop-color="#e0e0e0"/><stop offset=".614" stop-color="#ececec"/><stop offset=".629" stop-color="#f1f1f1"/><stop offset=".652" stop-color="#f4f4f4"/><stop offset=".676" stop-color="#f1f1f1"/><stop offset=".690" stop-color="#ececec"/><stop offset=".714" stop-color="#dedede"/><stop offset=".738" stop-color="#d4d4d4"/><stop offset=".795" stop-color="#c8c8c8"/><stop offset=".819" stop-color="#c6c6c6"/><stop offset=".867" stop-color="#cccccc"/><stop offset=".886" stop-color="#d1d1d1"/><stop offset=".933" stop-color="#e6e6e6"/><stop offset=".981" stop-color="#f0f0f0"/><stop offset="1.000" stop-color="#f1f1f1"/></linearGradient>
<linearGradient id="b37" gradientUnits="userSpaceOnUse" x1="67.7" x2="311.9" y1="0" y2="0"><stop offset=".000" stop-color="#e7e7e7"/><stop offset=".029" stop-color="#f1f1f1"/><stop offset=".043" stop-color="#f4f4f4"/><stop offset=".210" stop-color="#f4f4f4"/><stop offset=".229" stop-color="#efefef"/><stop offset=".248" stop-color="#e3e3e3"/><stop offset=".257" stop-color="#e0e0e0"/><stop offset=".276" stop-color="#d2d2d2"/><stop offset=".290" stop-color="#bebebe"/><stop offset=".319" stop-color="#777777"/><stop offset=".333" stop-color="#5c5c5c"/><stop offset=".352" stop-color="#434343"/><stop offset=".371" stop-color="#373737"/><stop offset=".390" stop-color="#353535"/><stop offset=".400" stop-color="#353535"/><stop offset=".457" stop-color="#545454"/><stop offset=".476" stop-color="#616161"/><stop offset=".495" stop-color="#737373"/><stop offset=".552" stop-color="#bababa"/><stop offset=".581" stop-color="#d7d7d7"/><stop offset=".600" stop-color="#e5e5e5"/><stop offset=".629" stop-color="#f0f0f0"/><stop offset=".652" stop-color="#f4f4f4"/><stop offset=".676" stop-color="#f2f2f2"/><stop offset=".690" stop-color="#eeeeee"/><stop offset=".738" stop-color="#d6d6d6"/><stop offset=".771" stop-color="#cccccc"/><stop offset=".795" stop-color="#c8c8c8"/><stop offset=".819" stop-color="#c7c7c7"/><stop offset=".867" stop-color="#cccccc"/><stop offset=".914" stop-color="#dddddd"/><stop offset=".933" stop-color="#e6e6e6"/><stop offset=".981" stop-color="#f0f0f0"/><stop offset="1.000" stop-color="#f1f1f1"/></linearGradient>
<linearGradient id="b38" gradientUnits="userSpaceOnUse" x1="67.7" x2="311.9" y1="0" y2="0"><stop offset=".000" stop-color="#e7e7e7"/><stop offset=".029" stop-color="#f1f1f1"/><stop offset=".043" stop-color="#f4f4f4"/><stop offset=".210" stop-color="#f4f4f4"/><stop offset=".229" stop-color="#efefef"/><stop offset=".267" stop-color="#dadada"/><stop offset=".276" stop-color="#d2d2d2"/><stop offset=".290" stop-color="#bdbdbd"/><stop offset=".319" stop-color="#767676"/><stop offset=".333" stop-color="#5b5b5b"/><stop offset=".352" stop-color="#414141"/><stop offset=".371" stop-color="#353535"/><stop offset=".400" stop-color="#353535"/><stop offset=".429" stop-color="#434343"/><stop offset=".457" stop-color="#535353"/><stop offset=".476" stop-color="#606060"/><stop offset=".495" stop-color="#727272"/><stop offset=".552" stop-color="#b9b9b9"/><stop offset=".567" stop-color="#c9c9c9"/><stop offset=".590" stop-color="#dedede"/><stop offset=".614" stop-color="#ebebeb"/><stop offset=".629" stop-color="#f0f0f0"/><stop offset=".652" stop-color="#f4f4f4"/><stop offset=".676" stop-color="#f2f2f2"/><stop offset=".690" stop-color="#eeeeee"/><stop offset=".724" stop-color="#dcdcdc"/><stop offset=".752" stop-color="#d1d1d1"/><stop offset=".795" stop-color="#c8c8c8"/><stop offset=".843" stop-color="#c8c8c8"/><stop offset=".886" stop-color="#d2d2d2"/><stop offset=".933" stop-color="#e6e6e6"/><stop offset=".962" stop-color="#ededed"/><stop offset="1.000" stop-color="#f1f1f1"/></linearGradient>
<linearGradient id="b39" gradientUnits="userSpaceOnUse" x1="67.7" x2="311.9" y1="0" y2="0"><stop offset=".000" stop-color="#e7e7e7"/><stop offset=".029" stop-color="#f1f1f1"/><stop offset=".043" stop-color="#f4f4f4"/><stop offset=".210" stop-color="#f4f4f4"/><stop offset=".229" stop-color="#eeeeee"/><stop offset=".267" stop-color="#d9d9d9"/><stop offset=".276" stop-color="#d2d2d2"/><stop offset=".290" stop-color="#bdbdbd"/><stop offset=".319" stop-color="#757575"/><stop offset=".333" stop-color="#5a5a5a"/><stop offset=".352" stop-color="#404040"/><stop offset=".371" stop-color="#343434"/><stop offset=".390" stop-color="#323232"/><stop offset=".400" stop-color="#323232"/><stop offset=".457" stop-color="#525252"/><stop offset=".476" stop-color="#5f5f5f"/><stop offset=".495" stop-color="#717171"/><stop offset=".552" stop-color="#b9b9b9"/><stop offset=".581" stop-color="#d7d7d7"/><stop offset=".600" stop-color="#e4e4e4"/><stop offset=".629" stop-color="#f0f0f0"/><stop offset=".652" stop-color="#f3f3f3"/><stop offset=".676" stop-color="#f2f2f2"/><stop offset=".690" stop-color="#eeeeee"/><stop offset=".738" stop-color="#d6d6d6"/><stop offset=".771" stop-color="#cdcdcd"/><stop offset=".819" stop-color="#c7c7c7"/><stop offset=".867" stop-color="#cdcdcd"/><stop offset=".900" stop-color="#d7d7d7"/><stop offset=".933" stop-color="#e6e6e6"/><stop offset=".962" stop-color="#ededed"/><stop offset="1.000" stop-color="#f1f1f1"/></linearGradient>
<clipPath id="clipb"><rect x="67.7" y="239.6" width="244.2" height="167.1"/></clipPath>
<filter id="vblur" x="-5%" y="-5%" width="110%" height="110%"><feGaussianBlur stdDeviation="0.6 1.6"/></filter>
</defs>
<g opacity="0.999">
<g clip-path="url(#clipa)"><g filter="url(#vblur)"><rect x="66.7" y="12.51" width="246.2" height="4.95" fill="url(#a0)"/><rect x="66.7" y="17.15" width="246.2" height="4.95" fill="url(#a1)"/><rect x="66.7" y="21.80" width="246.2" height="4.95" fill="url(#a2)"/><rect x="66.7" y="26.45" width="246.2" height="4.95" fill="url(#a3)"/><rect x="66.7" y="31.09" width="246.2" height="4.95" fill="url(#a4)"/><rect x="66.7" y="35.74" width="246.2" height="4.95" fill="url(#a5)"/><rect x="66.7" y="40.39" width="246.2" height="4.95" fill="url(#a6)"/><rect x="66.7" y="45.04" width="246.2" height="4.95" fill="url(#a7)"/><rect x="66.7" y="49.68" width="246.2" height="4.95" fill="url(#a8)"/><rect x="66.7" y="54.33" width="246.2" height="4.95" fill="url(#a9)"/><rect x="66.7" y="58.98" width="246.2" height="4.95" fill="url(#a10)"/><rect x="66.7" y="63.63" width="246.2" height="4.95" fill="url(#a11)"/><rect x="66.7" y="68.27" width="246.2" height="4.95" fill="url(#a12)"/><rect x="66.7" y="72.92" width="246.2" height="4.95" fill="url(#a13)"/><rect x="66.7" y="77.57" width="246.2" height="4.95" fill="url(#a14)"/><rect x="66.7" y="82.21" width="246.2" height="4.95" fill="url(#a15)"/><rect x="66.7" y="86.86" width="246.2" height="4.95" fill="url(#a16)"/><rect x="66.7" y="91.51" width="246.2" height="4.95" fill="url(#a17)"/><rect x="66.7" y="96.16" width="246.2" height="4.95" fill="url(#a18)"/><rect x="66.7" y="100.80" width="246.2" height="4.95" fill="url(#a19)"/><rect x="66.7" y="105.45" width="246.2" height="4.95" fill="url(#a20)"/><rect x="66.7" y="110.10" width="246.2" height="4.95" fill="url(#a21)"/><rect x="66.7" y="114.74" width="246.2" height="4.95" fill="url(#a22)"/><rect x="66.7" y="119.39" width="246.2" height="4.95" fill="url(#a23)"/><rect x="66.7" y="124.04" width="246.2" height="4.95" fill="url(#a24)"/><rect x="66.7" y="128.69" width="246.2" height="4.95" fill="url(#a25)"/><rect x="66.7" y="133.33" width="246.2" height="4.95" fill="url(#a26)"/><rect x="66.7" y="137.98" width="246.2" height="4.95" fill="url(#a27)"/><rect x="66.7" y="142.63" width="246.2" height="4.95" fill="url(#a28)"/><rect x="66.7" y="147.27" width="246.2" height="4.95" fill="url(#a29)"/><rect x="66.7" y="151.92" width="246.2" height="4.95" fill="url(#a30)"/><rect x="66.7" y="156.57" width="246.2" height="4.95" fill="url(#a31)"/><rect x="66.7" y="161.22" width="246.2" height="4.95" fill="url(#a32)"/><rect x="66.7" y="165.86" width="246.2" height="4.95" fill="url(#a33)"/><rect x="66.7" y="170.51" width="246.2" height="4.95" fill="url(#a34)"/><rect x="66.7" y="175.16" width="246.2" height="4.95" fill="url(#a35)"/><rect x="66.7" y="179.81" width="246.2" height="4.95" fill="url(#a36)"/><rect x="66.7" y="184.45" width="246.2" height="4.95" fill="url(#a37)"/><rect x="66.7" y="189.10" width="246.2" height="4.95" fill="url(#a38)"/><rect x="66.7" y="193.75" width="246.2" height="4.95" fill="url(#a39)"/></g></g>
<g clip-path="url(#clipb)"><g filter="url(#vblur)"><rect x="66.7" y="230.17" width="246.2" height="4.94" fill="url(#b0)"/><rect x="66.7" y="234.81" width="246.2" height="4.94" fill="url(#b1)"/><rect x="66.7" y="239.45" width="246.2" height="4.94" fill="url(#b2)"/><rect x="66.7" y="244.09" width="246.2" height="4.94" fill="url(#b3)"/><rect x="66.7" y="248.73" width="246.2" height="4.94" fill="url(#b4)"/><rect x="66.7" y="253.38" width="246.2" height="4.94" fill="url(#b5)"/><rect x="66.7" y="258.02" width="246.2" height="4.94" fill="url(#b6)"/><rect x="66.7" y="262.66" width="246.2" height="4.94" fill="url(#b7)"/><rect x="66.7" y="267.30" width="246.2" height="4.94" fill="url(#b8)"/><rect x="66.7" y="271.94" width="246.2" height="4.94" fill="url(#b9)"/><rect x="66.7" y="276.58" width="246.2" height="4.94" fill="url(#b10)"/><rect x="66.7" y="281.23" width="246.2" height="4.94" fill="url(#b11)"/><rect x="66.7" y="285.87" width="246.2" height="4.94" fill="url(#b12)"/><rect x="66.7" y="290.51" width="246.2" height="4.94" fill="url(#b13)"/><rect x="66.7" y="295.15" width="246.2" height="4.94" fill="url(#b14)"/><rect x="66.7" y="299.79" width="246.2" height="4.94" fill="url(#b15)"/><rect x="66.7" y="304.43" width="246.2" height="4.94" fill="url(#b16)"/><rect x="66.7" y="309.08" width="246.2" height="4.94" fill="url(#b17)"/><rect x="66.7" y="313.72" width="246.2" height="4.94" fill="url(#b18)"/><rect x="66.7" y="318.36" width="246.2" height="4.94" fill="url(#b19)"/><rect x="66.7" y="323.00" width="246.2" height="4.94" fill="url(#b20)"/><rect x="66.7" y="327.64" width="246.2" height="4.94" fill="url(#b21)"/><rect x="66.7" y="332.28" width="246.2" height="4.94" fill="url(#b22)"/><rect x="66.7" y="336.93" width="246.2" height="4.94" fill="url(#b23)"/><rect x="66.7" y="341.57" width="246.2" height="4.94" fill="url(#b24)"/><rect x="66.7" y="346.21" width="246.2" height="4.94" fill="url(#b25)"/><rect x="66.7" y="350.85" width="246.2" height="4.94" fill="url(#b26)"/><rect x="66.7" y="355.49" width="246.2" height="4.94" fill="url(#b27)"/><rect x="66.7" y="360.13" width="246.2" height="4.94" fill="url(#b28)"/><rect x="66.7" y="364.78" width="246.2" height="4.94" fill="url(#b29)"/><rect x="66.7" y="369.42" width="246.2" height="4.94" fill="url(#b30)"/><rect x="66.7" y="374.06" width="246.2" height="4.94" fill="url(#b31)"/><rect x="66.7" y="378.70" width="246.2" height="4.94" fill="url(#b32)"/><rect x="66.7" y="383.34" width="246.2" height="4.94" fill="url(#b33)"/><rect x="66.7" y="387.98" width="246.2" height="4.94" fill="url(#b34)"/><rect x="66.7" y="392.62" width="246.2" height="4.94" fill="url(#b35)"/><rect x="66.7" y="397.27" width="246.2" height="4.94" fill="url(#b36)"/><rect x="66.7" y="401.91" width="246.2" height="4.94" fill="url(#b37)"/><rect x="66.7" y="406.55" width="246.2" height="4.94" fill="url(#b38)"/><rect x="66.7" y="411.19" width="246.2" height="4.94" fill="url(#b39)"/></g></g>
<g clip-path="url(#clipa)">
<path d="M125.8 22.3 C125.7 22.5 124.8 24.1 124.6 24.5 C124.4 24.9 124.0 26.2 123.9 26.7 C123.8 27.2 124.0 28.6 124.0 29.1 C124.0 29.6 123.8 31.1 123.9 31.5 C124.0 31.9 125.0 32.4 125.2 32.6 C125.5 32.9 126.2 33.6 126.4 33.8 C126.6 34.0 127.3 34.4 127.5 34.5 C127.8 34.7 128.7 35.1 128.7 35.3 C128.7 35.5 127.7 36.5 127.6 36.8 C127.4 37.0 127.0 37.8 126.8 38.2 C126.6 38.6 126.1 40.1 125.9 40.6 C125.6 41.1 124.7 42.5 124.5 43.0 C124.3 43.5 124.4 44.9 124.3 45.4 C124.2 45.9 123.6 47.4 123.7 47.8 C123.8 48.2 124.9 49.3 125.3 49.7 C125.6 50.1 126.5 51.2 126.8 51.6 C127.1 52.0 128.0 53.1 128.3 53.5 C128.5 53.9 129.4 55.0 129.7 55.4 C130.0 55.8 130.6 57.3 130.9 57.8 C131.2 58.3 132.3 59.7 132.5 60.2 C132.7 60.7 133.1 62.5 133.3 63.1 C133.5 63.6 134.6 65.4 134.8 65.9 C135.0 66.4 135.0 67.8 135.1 68.3 C135.2 68.8 135.6 70.2 135.6 70.7 C135.6 71.2 135.2 72.6 135.1 73.1 C134.9 73.6 134.6 75.1 134.4 75.5 C134.2 75.9 133.0 77.0 132.7 77.4 C132.4 77.8 131.8 78.9 131.6 79.3 C131.4 79.7 131.0 80.9 130.9 81.2 C130.7 81.6 129.9 82.9 129.7 83.2 C129.5 83.5 129.3 84.3 129.2 84.6 C129.2 84.9 129.1 85.7 129.1 86.0 C129.1 86.3 129.5 87.6 129.7 88.0 C129.8 88.3 130.6 89.5 130.6 89.9 C130.6 90.3 130.1 91.4 130.1 91.8 C130.0 92.2 130.2 93.3 130.2 93.7 C130.2 94.1 130.3 95.6 130.3 96.1 C130.2 96.6 129.8 98.0 129.7 98.5 C129.6 99.0 129.1 100.7 128.9 101.2 C128.7 101.8 128.1 103.5 127.8 104.0 C127.5 104.5 126.5 105.5 126.1 105.9 C125.7 106.3 124.2 107.4 123.9 107.8 C123.6 108.2 123.2 109.4 123.0 109.8 C122.8 110.1 122.0 111.4 122.0 111.7 C122.0 112.0 122.4 112.8 122.6 113.1 C122.8 113.4 123.7 114.2 123.9 114.5 C124.1 114.8 124.8 115.5 125.0 115.8 C125.3 116.0 126.3 116.7 126.4 117.0 C126.5 117.3 126.2 118.3 126.1 118.7 C126.0 119.0 126.0 119.9 125.8 120.3 C125.6 120.7 124.5 121.8 124.3 122.2 C124.0 122.6 123.4 123.7 123.3 124.1 C123.2 124.5 123.5 125.6 123.5 126.0 C123.4 126.4 123.0 127.5 123.0 127.9 C123.0 128.3 123.3 129.8 123.4 130.3 C123.4 130.8 123.7 132.3 123.9 132.7 C124.1 133.1 124.8 134.2 125.1 134.6 C125.4 135.0 126.5 136.1 126.8 136.5 C127.1 136.9 128.2 138.1 128.5 138.4 C128.8 138.8 129.6 139.9 129.7 140.4 C129.8 140.9 129.8 142.7 129.9 143.2 C130.0 143.8 130.5 145.4 130.6 146.1 C130.7 146.8 131.1 149.2 131.1 149.9 C131.1 150.7 131.0 153.0 131.0 153.8 C131.0 154.6 130.8 156.8 130.8 157.6 C130.7 158.4 130.6 160.7 130.6 161.4 C130.6 162.1 130.5 163.7 130.4 164.3 C130.4 164.9 130.2 166.7 130.2 167.2 C130.2 167.7 130.4 168.7 130.5 169.1 C130.6 169.5 131.0 170.5 131.0 171.0 C131.0 171.5 130.7 173.3 130.6 173.8 C130.5 174.4 130.3 176.1 130.2 176.7 C130.1 177.3 129.5 179.0 129.4 179.6 C129.3 180.2 129.2 181.9 129.1 182.5 C129.0 183.1 128.3 185.2 128.1 185.8 C128.0 186.5 127.8 188.9 127.8 189.2" fill="none" stroke="#ff0000" stroke-width="2.4" stroke-linejoin="round"/>
<path d="M214.8 22.3 C214.9 22.6 215.5 24.5 215.4 25.0 C215.4 25.5 214.6 27.2 214.4 27.7 C214.2 28.2 213.8 29.6 213.8 30.0 C213.8 30.5 214.5 32.0 214.4 32.4 C214.3 32.8 212.6 33.6 212.3 33.8 C212.1 34.1 212.1 34.9 212.0 35.3 C211.9 35.7 211.9 37.6 211.6 38.1 C211.4 38.7 209.8 40.5 209.5 41.0 C209.2 41.5 208.8 42.9 208.7 43.4 C208.7 43.9 209.1 45.3 209.1 45.8 C209.1 46.3 209.0 47.7 209.2 48.2 C209.3 48.7 210.5 50.1 210.6 50.6 C210.7 51.1 210.6 52.9 210.6 53.5 C210.5 54.1 210.1 55.8 210.0 56.4 C209.9 57.0 209.5 58.7 209.5 59.2 C209.4 59.8 209.4 61.5 209.5 62.1 C209.6 62.7 210.4 64.4 210.5 65.0 C210.5 65.5 210.1 67.2 210.0 67.8 C209.9 68.4 209.6 70.1 209.6 70.7 C209.6 71.3 210.1 73.0 210.2 73.6 C210.3 74.2 210.7 75.9 210.7 76.4 C210.6 77.0 209.6 78.7 209.5 79.3 C209.4 79.9 209.4 81.6 209.4 82.2 C209.5 82.8 210.1 84.6 210.0 85.1 C209.9 85.6 209.1 87.0 208.8 87.5 C208.5 88.0 207.2 89.5 207.2 89.9 C207.2 90.3 208.3 91.0 208.4 91.3 C208.5 91.6 207.9 92.4 208.1 92.7 C208.3 93.0 210.0 93.9 210.4 94.2 C210.8 94.4 211.7 95.2 212.0 95.6 C212.3 96.0 213.1 97.5 213.2 98.0 C213.3 98.5 213.0 100.0 212.9 100.4 C212.8 100.8 212.7 101.8 212.6 102.2 C212.4 102.6 211.6 103.6 211.5 104.0 C211.4 104.4 211.4 105.5 211.6 105.9 C211.8 106.3 213.0 107.4 213.3 107.8 C213.6 108.2 214.3 109.7 214.4 110.2 C214.5 110.7 214.2 112.1 214.1 112.6 C214.0 113.1 213.8 114.5 213.7 115.0 C213.5 115.5 213.1 117.0 212.9 117.4 C212.7 117.8 211.8 118.9 211.6 119.3 C211.4 119.7 211.3 120.7 211.0 121.2 C210.7 121.7 209.3 123.5 209.0 124.1 C208.7 124.7 208.0 126.5 208.1 127.0 C208.2 127.5 209.9 128.5 210.2 128.9 C210.5 129.3 211.0 130.4 211.0 130.8 C211.0 131.2 210.7 132.3 210.6 132.7 C210.5 133.1 210.1 134.2 210.0 134.6 C209.9 135.0 210.0 136.1 209.8 136.5 C209.6 136.9 208.1 138.0 208.1 138.4 C208.1 138.8 209.6 140.0 209.8 140.4 C210.1 140.7 210.5 141.9 210.6 142.3 C210.7 142.7 210.8 143.8 210.7 144.2 C210.5 144.6 209.3 145.6 209.1 146.1 C208.9 146.6 208.8 148.4 208.7 148.9 C208.6 149.5 208.1 151.1 208.1 151.8 C208.1 152.5 208.7 154.9 208.8 155.7 C208.8 156.4 208.6 158.7 208.7 159.5 C208.8 160.3 209.4 162.6 209.6 163.3 C209.7 164.1 209.9 166.5 210.0 167.2 C210.1 167.9 210.0 169.5 210.1 170.1 C210.2 170.6 210.9 172.4 211.0 172.9 C211.1 173.4 211.4 174.4 211.3 174.8 C211.2 175.2 210.0 176.4 210.0 176.7 C210.0 177.0 210.8 177.9 211.1 178.1 C211.4 178.4 212.6 179.3 212.9 179.6 C213.2 179.9 214.2 180.8 214.4 181.1 C214.5 181.3 214.8 182.2 214.8 182.5 C214.8 182.8 214.9 183.9 214.7 184.2 C214.5 184.5 213.2 185.6 212.9 185.9 C212.6 186.2 212.3 187.2 212.0 187.6 C211.8 187.9 210.7 189.0 210.6 189.2" fill="none" stroke="#ff0000" stroke-width="2.4" stroke-linejoin="round"/>
<path d="M231.6 22.3 C231.8 22.6 233.1 24.5 233.3 25.0 C233.5 25.5 233.3 27.1 233.5 27.7 C233.7 28.3 234.8 30.0 235.0 30.5 C235.1 31.1 234.7 32.8 234.8 33.4 C234.9 34.0 235.7 35.7 235.8 36.2 C235.9 36.8 235.4 38.5 235.4 39.1 C235.4 39.7 235.8 41.4 236.1 42.0 C236.4 42.6 237.9 44.4 238.3 44.9 C238.7 45.4 239.4 46.4 239.6 46.8 C239.8 47.2 240.6 48.4 240.6 48.7 C240.6 49.0 239.9 49.3 239.8 49.5 C239.6 49.6 239.2 50.0 239.2 50.2 C239.2 50.4 240.0 51.5 240.2 51.9 C240.4 52.2 241.0 53.1 241.1 53.5 C241.2 53.9 241.4 55.4 241.7 55.9 C241.9 56.4 243.4 57.8 243.6 58.3 C243.8 58.8 243.6 60.6 243.7 61.1 C243.9 61.7 244.9 63.4 245.0 64.0 C245.1 64.6 245.1 66.3 245.2 66.9 C245.3 67.5 245.7 69.2 245.6 69.8 C245.5 70.4 244.6 72.1 244.5 72.7 C244.4 73.2 244.5 75.0 244.4 75.5 C244.3 76.0 243.6 77.0 243.4 77.4 C243.2 77.8 242.7 78.9 242.5 79.3 C242.3 79.7 241.5 80.9 241.4 81.2 C241.4 81.6 242.2 82.8 242.1 83.2 C242.0 83.6 240.8 85.1 240.6 85.6 C240.5 86.0 240.5 87.5 240.6 87.9 C240.7 88.3 241.2 89.5 241.2 89.8 C241.3 90.2 241.3 91.4 241.1 91.8 C240.9 92.2 239.8 93.3 239.6 93.7 C239.3 94.1 238.5 95.2 238.3 95.6 C238.1 96.0 238.0 97.5 237.9 98.0 C237.8 98.5 237.5 100.0 237.5 100.4 C237.5 100.8 237.7 102.0 237.7 102.5 C237.6 102.9 237.1 104.0 237.0 104.5 C236.9 105.0 236.3 106.6 236.2 107.1 C236.1 107.6 236.1 109.2 236.0 109.7 C235.9 110.2 235.0 112.0 234.9 112.6 C234.8 113.2 235.4 114.9 235.4 115.5 C235.4 116.1 235.4 117.8 235.3 118.3 C235.1 118.9 234.1 120.7 234.1 121.2 C234.1 121.7 235.2 122.8 235.4 123.2 C235.6 123.5 236.2 124.7 236.4 125.1 C236.6 125.5 237.0 126.6 237.1 127.0 C237.2 127.4 237.1 128.5 237.3 128.9 C237.5 129.3 238.7 130.4 239.0 130.8 C239.3 131.2 239.9 132.3 240.2 132.7 C240.5 133.1 241.4 134.6 241.5 135.1 C241.6 135.6 241.0 137.0 241.1 137.5 C241.2 138.0 242.0 139.4 242.3 139.9 C242.6 140.4 243.7 141.8 244.0 142.3 C244.3 142.8 245.4 144.6 245.6 145.2 C245.8 145.7 246.3 147.5 246.3 148.0 C246.3 148.5 245.9 149.5 245.9 149.9 C245.8 150.3 246.0 151.5 245.9 151.8 C245.8 152.1 245.1 153.0 244.9 153.2 C244.6 153.5 243.6 154.3 243.6 154.7 C243.6 155.1 244.7 156.6 244.9 157.1 C245.1 157.6 245.7 159.1 245.6 159.5 C245.5 159.9 244.3 161.0 244.0 161.4 C243.8 161.8 243.3 162.9 243.1 163.3 C242.9 163.7 242.1 165.2 242.1 165.7 C242.0 166.2 242.6 167.7 242.5 168.1 C242.4 168.5 241.1 169.6 240.8 170.0 C240.5 170.4 239.4 171.5 239.2 171.9 C239.0 172.3 238.8 173.8 238.6 174.3 C238.5 174.8 237.5 176.2 237.3 176.7 C237.1 177.2 237.1 178.6 237.0 179.1 C236.9 179.6 236.6 180.9 236.4 181.5 C236.2 182.1 235.7 184.6 235.5 185.3 C235.3 186.1 234.9 188.8 234.8 189.2" fill="none" stroke="#ff0000" stroke-width="2.4" stroke-linejoin="round"/>
<path d="M295.1 22.3 C295.1 22.6 295.1 24.5 295.0 25.0 C294.9 25.5 294.2 27.1 294.2 27.7 C294.2 28.3 295.3 30.0 295.4 30.5 C295.5 31.1 295.4 32.8 295.3 33.4 C295.2 34.0 294.6 35.7 294.5 36.2 C294.5 36.8 294.7 38.6 294.9 39.1 C295.1 39.6 296.1 41.0 296.2 41.5 C296.3 42.0 295.9 43.5 295.7 43.9 C295.5 44.3 294.2 45.5 294.0 45.8 C293.8 46.2 293.4 47.4 293.4 47.8 C293.4 48.2 294.0 49.7 294.1 50.1 C294.2 50.6 294.3 52.0 294.2 52.5 C294.1 53.0 293.3 54.4 293.3 54.9 C293.2 55.4 293.9 56.9 293.8 57.3 C293.7 57.7 292.7 58.8 292.4 59.2 C292.0 59.6 290.3 60.7 290.0 61.1 C289.7 61.5 289.0 62.7 288.9 63.0 C288.8 63.4 288.8 64.6 289.0 65.0 C289.2 65.4 290.9 66.5 291.3 66.9 C291.7 67.3 292.5 68.4 292.8 68.8 C293.1 69.2 293.8 70.3 293.9 70.7 C294.0 71.1 294.2 72.2 294.2 72.6 C294.2 73.0 294.4 74.5 294.3 75.0 C294.2 75.5 293.5 76.9 293.4 77.4 C293.3 77.9 293.6 79.3 293.7 79.8 C293.8 80.3 294.1 81.7 294.2 82.2 C294.3 82.7 294.5 84.1 294.5 84.6 C294.4 85.1 293.4 86.6 293.4 87.0 C293.4 87.4 294.6 88.5 294.7 88.9 C294.8 89.3 294.2 90.4 294.2 90.8 C294.2 91.2 294.1 92.3 294.3 92.7 C294.4 93.1 295.6 94.2 295.7 94.6 C295.8 95.0 295.3 96.2 295.2 96.5 C295.1 96.9 294.6 98.0 294.7 98.5 C294.8 99.0 295.9 100.7 296.0 101.2 C296.1 101.8 295.6 103.5 295.7 104.0 C295.8 104.5 296.5 105.9 296.6 106.4 C296.7 106.9 296.8 108.3 296.7 108.8 C296.6 109.3 295.4 111.1 295.1 111.7 C294.9 112.2 293.9 113.9 293.8 114.5 C293.7 115.1 294.2 116.8 294.4 117.4 C294.6 118.0 295.4 119.7 295.7 120.3 C296.0 120.9 297.3 123.0 297.5 123.7 C297.7 124.3 297.8 126.4 297.6 127.0 C297.4 127.6 295.7 128.9 295.4 129.4 C295.1 129.9 294.8 131.3 294.7 131.8 C294.6 132.3 294.6 133.7 294.5 134.2 C294.4 134.6 293.5 136.0 293.4 136.5 C293.3 137.0 293.3 138.8 293.1 139.4 C292.9 140.0 291.8 141.8 291.5 142.3 C291.2 142.8 290.3 144.2 290.1 144.7 C290.0 145.2 289.9 146.6 290.0 147.1 C290.1 147.6 290.8 149.0 291.1 149.4 C291.4 149.9 292.7 151.4 292.8 151.8 C292.9 152.2 291.9 153.4 291.8 153.8 C291.7 154.1 291.6 155.3 291.5 155.7 C291.4 156.1 290.8 157.2 290.6 157.6 C290.4 158.0 289.6 159.1 289.6 159.5 C289.6 159.9 290.6 161.4 291.0 161.9 C291.3 162.4 292.5 163.8 292.8 164.3 C293.1 164.8 293.7 166.6 293.8 167.2 C293.9 167.7 293.3 169.4 293.4 170.0 C293.5 170.6 294.5 172.3 294.6 172.9 C294.6 173.5 294.3 175.3 294.2 175.8 C294.1 176.3 293.7 177.7 293.7 178.2 C293.6 178.7 293.6 180.1 293.8 180.6 C294.0 181.1 295.3 182.5 295.5 182.9 C295.7 183.4 295.8 184.9 295.7 185.3 C295.6 185.7 294.5 186.9 294.4 187.2 C294.3 187.6 294.7 189.0 294.7 189.2" fill="none" stroke="#ff0000" stroke-width="2.4" stroke-linejoin="round"/>
<line x1="130.2" x2="130.2" y1="189.2" y2="17.9" stroke="#0000ff" stroke-width="2.3" stroke-dasharray="2.3 3.7"/>
<line x1="211.8" x2="211.8" y1="189.2" y2="17.9" stroke="#0000ff" stroke-width="2.3" stroke-dasharray="2.3 3.7"/>
<line x1="242.1" x2="242.1" y1="189.2" y2="17.9" stroke="#0000ff" stroke-width="2.3" stroke-dasharray="2.3 3.7"/>
<line x1="293.4" x2="293.4" y1="189.2" y2="17.9" stroke="#0000ff" stroke-width="2.3" stroke-dasharray="2.3 3.7"/>
</g>
<text x="176.2" y="36.2" font-size="13.90" text-anchor="middle" fill="#79b6ee" textLength="25.6" lengthAdjust="spacingAndGlyphs" style="stroke:#79b6ee">B40</text>
<text x="269.6" y="36.2" font-size="13.90" text-anchor="middle" fill="#1f4f8f" textLength="25.6" lengthAdjust="spacingAndGlyphs" style="stroke:#1f4f8f">B84</text>
<text x="270.8" y="60.9" font-size="11.10" text-anchor="middle" fill="#000" textLength="29.0" lengthAdjust="spacingAndGlyphs">Major</text>
<line x1="282.0" x2="256" y1="64.08" y2="64.08" stroke="#000" stroke-width="1.6"/>
<path d="M250.4 64.08 L258.6 61.58 L258.6 66.58 Z" fill="#000"/>
<text x="270.8" y="102.7" font-size="11.10" text-anchor="middle" fill="#000" textLength="29.0" lengthAdjust="spacingAndGlyphs">Minor</text>
<line x1="282.0" x2="256" y1="105.90" y2="105.90" stroke="#000" stroke-width="1.6"/>
<path d="M250.4 105.90 L258.6 103.40 L258.6 108.40 Z" fill="#000"/>
<text x="270.8" y="144.5" font-size="11.10" text-anchor="middle" fill="#000" textLength="29.0" lengthAdjust="spacingAndGlyphs">Major</text>
<line x1="282.0" x2="256" y1="147.73" y2="147.73" stroke="#000" stroke-width="1.6"/>
<path d="M250.4 147.73 L258.6 145.23 L258.6 150.23 Z" fill="#000"/>
<rect x="67.7" y="21.9" width="244.2" height="167.3" fill="none" stroke="#000" stroke-width="1.2"/>
<line x1="62.5" x2="67.7" y1="21.9" y2="21.9" stroke="#000" stroke-width="1.2"/>
<text x="57.0" y="27.4" font-size="13.90" text-anchor="end" fill="#000" textLength="25.6" lengthAdjust="spacingAndGlyphs">180</text>
<line x1="62.5" x2="67.7" y1="63.8" y2="63.8" stroke="#000" stroke-width="1.2"/>
<text x="57.0" y="69.3" font-size="13.90" text-anchor="end" fill="#000" textLength="16.6" lengthAdjust="spacingAndGlyphs">90</text>
<line x1="62.5" x2="67.7" y1="105.6" y2="105.6" stroke="#000" stroke-width="1.2"/>
<text x="57.0" y="111.1" font-size="13.90" text-anchor="end" fill="#000" textLength="7.6" lengthAdjust="spacingAndGlyphs">0</text>
<line x1="62.5" x2="67.7" y1="147.4" y2="147.4" stroke="#000" stroke-width="1.2"/>
<text x="57.0" y="152.9" font-size="13.90" text-anchor="end" fill="#000" textLength="28.2" lengthAdjust="spacingAndGlyphs">−90</text>
<line x1="62.5" x2="67.7" y1="189.2" y2="189.2" stroke="#000" stroke-width="1.2"/>
<text x="57.0" y="194.8" font-size="13.90" text-anchor="end" fill="#000" textLength="37.2" lengthAdjust="spacingAndGlyphs">−180</text>
<line x1="64.8" x2="67.7" y1="42.9" y2="42.9" stroke="#000" stroke-width="0.8"/>
<line x1="64.8" x2="67.7" y1="84.7" y2="84.7" stroke="#000" stroke-width="0.8"/>
<line x1="64.8" x2="67.7" y1="126.5" y2="126.5" stroke="#000" stroke-width="0.8"/>
<line x1="64.8" x2="67.7" y1="168.3" y2="168.3" stroke="#000" stroke-width="0.8"/>
<line x1="67.7" x2="67.7" y1="189.2" y2="194.4" stroke="#000" stroke-width="1.2"/>
<text x="67.6" y="210.7" font-size="13.90" text-anchor="middle" fill="#000" textLength="7.6" lengthAdjust="spacingAndGlyphs">0</text>
<line x1="125.8" x2="125.8" y1="189.2" y2="194.4" stroke="#000" stroke-width="1.2"/>
<text x="125.7" y="210.7" font-size="13.90" text-anchor="middle" fill="#000" textLength="16.6" lengthAdjust="spacingAndGlyphs">25</text>
<line x1="183.9" x2="183.9" y1="189.2" y2="194.4" stroke="#000" stroke-width="1.2"/>
<text x="183.8" y="210.7" font-size="13.90" text-anchor="middle" fill="#000" textLength="16.6" lengthAdjust="spacingAndGlyphs">50</text>
<line x1="242.1" x2="242.1" y1="189.2" y2="194.4" stroke="#000" stroke-width="1.2"/>
<text x="242.0" y="210.7" font-size="13.90" text-anchor="middle" fill="#000" textLength="16.6" lengthAdjust="spacingAndGlyphs">75</text>
<line x1="300.2" x2="300.2" y1="189.2" y2="194.4" stroke="#000" stroke-width="1.2"/>
<text x="300.1" y="210.7" font-size="13.90" text-anchor="middle" fill="#000" textLength="25.6" lengthAdjust="spacingAndGlyphs">100</text>
<line x1="96.7" x2="96.7" y1="189.2" y2="192.2" stroke="#000" stroke-width="0.8"/>
<line x1="154.9" x2="154.9" y1="189.2" y2="192.2" stroke="#000" stroke-width="0.8"/>
<line x1="213.0" x2="213.0" y1="189.2" y2="192.2" stroke="#000" stroke-width="0.8"/>
<line x1="271.1" x2="271.1" y1="189.2" y2="192.2" stroke="#000" stroke-width="0.8"/>
<text transform="translate(10.0 105.6) rotate(-90)" font-size="13.9" text-anchor="middle" textLength="147.5" lengthAdjust="spacingAndGlyphs">Azimuthal angle (deg)</text>
<g clip-path="url(#clipb)">
<path d="M126.8 240.3 C126.6 241.6 126.1 244.9 125.8 247.6 C125.5 250.3 125.4 252.6 125.3 255.2 C125.2 257.8 125.0 259.5 125.5 261.9 C126.0 264.3 127.0 266.2 127.8 268.6 C128.6 271.0 129.4 272.9 130.2 275.3 C131.0 277.7 131.8 279.8 132.2 282.0 C132.6 284.2 132.8 285.7 132.5 287.8 C132.2 289.9 131.2 291.6 130.6 293.5 C130.0 295.4 129.4 296.3 129.1 298.2 C128.8 300.1 128.9 301.9 129.1 304.0 C129.3 306.1 130.1 307.6 130.2 309.8 C130.3 312.1 130.2 314.2 129.7 316.5 C129.2 318.8 128.2 320.6 127.5 322.5 C126.8 324.4 126.2 324.8 125.8 326.8 C125.4 328.8 125.7 330.9 125.5 333.5 C125.3 336.1 124.9 338.5 124.9 341.1 C124.9 343.7 124.8 345.4 125.3 347.8 C125.8 350.2 126.8 351.9 127.8 354.5 C128.8 357.1 129.8 359.6 130.6 362.2 C131.4 364.8 132.2 366.8 132.5 368.9 C132.8 371.0 132.8 371.8 132.5 373.7 C132.2 375.6 131.1 377.3 130.6 379.4 C130.1 381.5 129.9 383.1 129.7 385.2 C129.5 387.3 129.5 388.8 129.7 390.9 C129.9 393.0 130.6 394.7 130.6 396.6 C130.6 398.5 130.2 399.6 129.7 401.4 C129.2 403.2 128.1 405.6 127.8 406.5" fill="none" stroke="#ff0000" stroke-width="2.4" stroke-linejoin="round"/>
<path d="M214.4 240.3 C214.1 241.6 213.6 244.9 212.9 247.6 C212.2 250.3 211.1 252.8 210.6 255.2 C210.1 257.6 209.9 258.9 210.0 261.0 C210.1 263.1 210.9 264.6 211.0 266.7 C211.1 268.8 210.9 270.3 210.6 272.4 C210.3 274.5 209.6 276.1 209.5 278.2 C209.4 280.3 209.7 281.8 210.0 283.9 C210.3 286.0 210.8 287.6 211.0 289.7 C211.2 291.8 210.9 293.3 211.0 295.4 C211.1 297.5 211.6 299.1 211.4 301.2 C211.2 303.3 210.3 305.2 210.0 306.9 C209.7 308.6 209.1 309.3 209.5 310.7 C209.9 312.1 211.9 313.1 212.5 314.6 C213.1 316.1 213.0 317.9 212.9 319.3 C212.8 320.7 211.7 321.2 212.0 322.6 C212.3 324.0 214.2 324.8 214.4 326.8 C214.6 328.8 213.6 331.3 212.9 333.5 C212.2 335.7 211.2 337.1 210.6 339.2 C210.0 341.3 209.4 342.9 209.5 345.0 C209.6 347.1 210.8 348.5 211.0 350.7 C211.2 352.9 210.9 355.2 210.6 357.4 C210.3 359.6 209.2 361.0 209.1 363.1 C209.0 365.2 209.7 366.8 210.0 368.9 C210.3 371.0 210.9 372.4 211.0 374.6 C211.1 376.8 210.5 378.9 210.6 381.3 C210.7 383.7 211.5 385.9 211.4 388.0 C211.3 390.1 210.4 391.4 210.0 392.8 C209.6 394.2 208.7 394.7 209.1 395.7 C209.5 396.7 211.6 397.4 212.5 398.6 C213.4 399.8 213.8 401.0 213.9 402.4 C214.0 403.8 213.1 405.8 212.9 406.5" fill="none" stroke="#ff0000" stroke-width="2.4" stroke-linejoin="round"/>
<path d="M239.2 240.3 C239.1 241.4 239.0 244.4 238.7 246.6 C238.4 248.8 237.7 250.5 237.3 252.4 C236.9 254.3 236.5 255.4 236.7 257.1 C236.9 258.8 237.7 260.2 238.3 261.9 C238.9 263.6 239.4 264.8 239.8 266.7 C240.2 268.6 240.4 270.3 240.6 272.4 C240.8 274.5 240.8 276.3 241.1 278.2 C241.4 280.1 242.4 281.3 242.5 283.0 C242.6 284.7 241.8 285.9 241.7 287.8 C241.6 289.7 241.8 291.4 241.7 293.5 C241.6 295.6 241.1 297.3 241.1 299.2 C241.1 301.1 241.8 302.1 241.7 304.0 C241.6 305.9 241.0 308.1 240.6 309.8 C240.2 311.5 239.1 312.2 239.2 313.6 C239.3 315.0 240.9 315.8 241.1 317.4 C241.3 319.0 240.5 320.7 240.2 322.6 C239.9 324.5 239.6 325.6 239.2 327.7 C238.8 329.8 238.3 332.0 237.9 334.4 C237.5 336.8 236.7 338.9 236.7 341.1 C236.7 343.4 237.5 344.8 237.9 346.9 C238.3 349.0 238.7 350.5 239.2 352.6 C239.7 354.7 240.2 356.3 240.6 358.4 C241.0 360.5 241.4 362.2 241.7 364.1 C242.0 366.0 242.5 367.0 242.5 368.9 C242.5 370.8 241.8 372.5 241.7 374.6 C241.6 376.7 241.8 378.3 241.7 380.4 C241.6 382.5 241.1 384.0 241.1 386.1 C241.1 388.2 241.9 390.2 241.7 391.9 C241.5 393.6 240.6 394.5 240.2 395.7 C239.8 396.9 239.0 397.4 239.2 398.6 C239.4 399.8 240.8 401.0 241.1 402.4 C241.4 403.8 240.7 405.8 240.6 406.5" fill="none" stroke="#ff0000" stroke-width="2.4" stroke-linejoin="round"/>
<path d="M295.3 240.3 C295.2 241.4 294.6 244.3 294.7 246.6 C294.8 248.9 295.3 251.1 295.7 253.3 C296.1 255.6 296.7 257.0 296.7 259.1 C296.7 261.2 296.1 262.7 295.7 264.8 C295.3 266.9 295.2 268.6 294.7 270.5 C294.2 272.4 293.4 273.8 292.8 275.3 C292.2 276.8 291.4 277.4 291.5 279.1 C291.6 280.8 293.2 283.0 293.4 284.9 C293.6 286.8 293.2 288.0 292.8 289.7 C292.4 291.4 290.9 292.8 290.9 294.5 C290.9 296.2 292.3 297.3 292.8 299.2 C293.3 301.1 293.7 302.9 293.8 305.0 C293.9 307.1 293.2 308.6 293.4 310.7 C293.6 312.8 294.5 314.4 294.7 316.5 C294.9 318.6 294.3 320.6 294.4 322.6 C294.5 324.6 295.1 325.6 295.3 327.7 C295.5 329.8 295.4 332.0 295.7 334.4 C296.0 336.8 296.6 338.9 296.7 341.1 C296.8 343.4 296.5 344.6 296.1 346.9 C295.7 349.1 295.3 351.4 294.7 353.6 C294.1 355.8 293.5 357.2 292.8 359.3 C292.1 361.4 290.9 363.0 290.9 365.1 C290.9 367.2 292.5 368.9 292.8 370.8 C293.1 372.7 292.8 374.1 292.3 375.6 C291.9 377.1 290.2 377.9 290.3 379.4 C290.4 380.9 292.2 382.3 292.8 384.2 C293.4 386.1 293.7 387.9 293.8 390.0 C293.9 392.1 293.2 393.6 293.4 395.7 C293.6 397.8 294.6 399.5 294.7 401.4 C294.8 403.3 294.3 405.6 294.2 406.5" fill="none" stroke="#ff0000" stroke-width="2.4" stroke-linejoin="round"/>
<line x1="130.2" x2="130.2" y1="406.7" y2="235.6" stroke="#0000ff" stroke-width="2.3" stroke-dasharray="2.3 3.7"/>
<line x1="211.8" x2="211.8" y1="406.7" y2="235.6" stroke="#0000ff" stroke-width="2.3" stroke-dasharray="2.3 3.7"/>
<line x1="242.1" x2="242.1" y1="406.7" y2="235.6" stroke="#0000ff" stroke-width="2.3" stroke-dasharray="2.3 3.7"/>
<line x1="293.4" x2="293.4" y1="406.7" y2="235.6" stroke="#0000ff" stroke-width="2.3" stroke-dasharray="2.3 3.7"/>
</g>
<text x="174.1" y="253.9" font-size="13.90" text-anchor="middle" fill="#79b6ee" textLength="25.6" lengthAdjust="spacingAndGlyphs" style="stroke:#79b6ee">B40</text>
<text x="267.5" y="253.9" font-size="13.90" text-anchor="middle" fill="#1f4f8f" textLength="25.6" lengthAdjust="spacingAndGlyphs" style="stroke:#1f4f8f">B84</text>
<text x="270.8" y="278.5" font-size="11.10" text-anchor="middle" fill="#000" textLength="29.0" lengthAdjust="spacingAndGlyphs">Major</text>
<line x1="282.0" x2="256" y1="281.68" y2="281.68" stroke="#000" stroke-width="1.6"/>
<path d="M250.4 281.68 L258.6 279.18 L258.6 284.18 Z" fill="#000"/>
<text x="270.8" y="320.2" font-size="11.10" text-anchor="middle" fill="#000" textLength="29.0" lengthAdjust="spacingAndGlyphs">Minor</text>
<line x1="282.0" x2="256" y1="323.45" y2="323.45" stroke="#000" stroke-width="1.6"/>
<path d="M250.4 323.45 L258.6 320.95 L258.6 325.95 Z" fill="#000"/>
<text x="270.8" y="362.0" font-size="11.10" text-anchor="middle" fill="#000" textLength="29.0" lengthAdjust="spacingAndGlyphs">Major</text>
<line x1="282.0" x2="256" y1="365.23" y2="365.23" stroke="#000" stroke-width="1.6"/>
<path d="M250.4 365.23 L258.6 362.73 L258.6 367.73 Z" fill="#000"/>
<rect x="67.7" y="239.6" width="244.2" height="167.1" fill="none" stroke="#000" stroke-width="1.2"/>
<line x1="62.5" x2="67.7" y1="239.6" y2="239.6" stroke="#000" stroke-width="1.2"/>
<text x="57.0" y="245.1" font-size="13.90" text-anchor="end" fill="#000" textLength="25.6" lengthAdjust="spacingAndGlyphs">180</text>
<line x1="62.5" x2="67.7" y1="281.4" y2="281.4" stroke="#000" stroke-width="1.2"/>
<text x="57.0" y="286.9" font-size="13.90" text-anchor="end" fill="#000" textLength="16.6" lengthAdjust="spacingAndGlyphs">90</text>
<line x1="62.5" x2="67.7" y1="323.1" y2="323.1" stroke="#000" stroke-width="1.2"/>
<text x="57.0" y="328.6" font-size="13.90" text-anchor="end" fill="#000" textLength="7.6" lengthAdjust="spacingAndGlyphs">0</text>
<line x1="62.5" x2="67.7" y1="364.9" y2="364.9" stroke="#000" stroke-width="1.2"/>
<text x="57.0" y="370.4" font-size="13.90" text-anchor="end" fill="#000" textLength="28.2" lengthAdjust="spacingAndGlyphs">−90</text>
<line x1="62.5" x2="67.7" y1="406.7" y2="406.7" stroke="#000" stroke-width="1.2"/>
<text x="57.0" y="412.2" font-size="13.90" text-anchor="end" fill="#000" textLength="37.2" lengthAdjust="spacingAndGlyphs">−180</text>
<line x1="64.8" x2="67.7" y1="260.5" y2="260.5" stroke="#000" stroke-width="0.8"/>
<line x1="64.8" x2="67.7" y1="302.3" y2="302.3" stroke="#000" stroke-width="0.8"/>
<line x1="64.8" x2="67.7" y1="344.0" y2="344.0" stroke="#000" stroke-width="0.8"/>
<line x1="64.8" x2="67.7" y1="385.8" y2="385.8" stroke="#000" stroke-width="0.8"/>
<line x1="67.7" x2="67.7" y1="406.7" y2="411.9" stroke="#000" stroke-width="1.2"/>
<text x="67.6" y="428.1" font-size="13.90" text-anchor="middle" fill="#000" textLength="7.6" lengthAdjust="spacingAndGlyphs">0</text>
<line x1="125.8" x2="125.8" y1="406.7" y2="411.9" stroke="#000" stroke-width="1.2"/>
<text x="125.7" y="428.1" font-size="13.90" text-anchor="middle" fill="#000" textLength="16.6" lengthAdjust="spacingAndGlyphs">25</text>
<line x1="183.9" x2="183.9" y1="406.7" y2="411.9" stroke="#000" stroke-width="1.2"/>
<text x="183.8" y="428.1" font-size="13.90" text-anchor="middle" fill="#000" textLength="16.6" lengthAdjust="spacingAndGlyphs">50</text>
<line x1="242.1" x2="242.1" y1="406.7" y2="411.9" stroke="#000" stroke-width="1.2"/>
<text x="242.0" y="428.1" font-size="13.90" text-anchor="middle" fill="#000" textLength="16.6" lengthAdjust="spacingAndGlyphs">75</text>
<line x1="300.2" x2="300.2" y1="406.7" y2="411.9" stroke="#000" stroke-width="1.2"/>
<text x="300.1" y="428.1" font-size="13.90" text-anchor="middle" fill="#000" textLength="25.6" lengthAdjust="spacingAndGlyphs">100</text>
<line x1="96.7" x2="96.7" y1="406.7" y2="409.6" stroke="#000" stroke-width="0.8"/>
<line x1="154.9" x2="154.9" y1="406.7" y2="409.6" stroke="#000" stroke-width="0.8"/>
<line x1="213.0" x2="213.0" y1="406.7" y2="409.6" stroke="#000" stroke-width="0.8"/>
<line x1="271.1" x2="271.1" y1="406.7" y2="409.6" stroke="#000" stroke-width="0.8"/>
<text transform="translate(10.0 323.1) rotate(-90)" font-size="13.9" text-anchor="middle" textLength="147.5" lengthAdjust="spacingAndGlyphs">Azimuthal angle (deg)</text>
<text x="189.8" y="10.7" font-size="13.90" text-anchor="middle" fill="#000" textLength="162.5" lengthAdjust="spacingAndGlyphs">a) 1.1 mm observations</text>
<text x="189.8" y="228.4" font-size="13.90" text-anchor="middle" fill="#000" textLength="192.0" lengthAdjust="spacingAndGlyphs">b) Surface brightness model</text>
<text x="517.2" y="10.7" font-size="13.90" text-anchor="middle" fill="#000" textLength="176.5" lengthAdjust="spacingAndGlyphs">c) Deprojection schematic</text>
<text x="189.8" y="446.6" font-size="13.90" text-anchor="middle" fill="#000" textLength="77.5" lengthAdjust="spacingAndGlyphs">Radius (au)</text>
<clipPath id="clipc"><rect x="415.5" y="22.0" width="203.7" height="203.7"/></clipPath>
<g clip-path="url(#clipc)">
<g transform="translate(517.4 123.8) rotate(32.5)">
<line x1="-200" x2="200" y1="0" y2="0" stroke="#111" stroke-width="0.7" stroke-dasharray="0.85 0.95"/>
<line y1="-200" y2="200" x1="0" x2="0" stroke="#111" stroke-width="0.7" stroke-dasharray="0.85 0.95"/>
<ellipse rx="97.2" ry="59.0" fill="none" stroke="#0b1e3f" stroke-width="4.6"/>
<ellipse rx="97.8" ry="49.8" fill="none" stroke="#1a85f0" stroke-width="1.8"/>
<ellipse rx="98.3" ry="69.5" fill="none" stroke="#e8408f" stroke-width="2.8"/>
</g></g>
<rect x="415.5" y="22.0" width="203.7" height="203.7" fill="none" stroke="#000" stroke-width="1.2"/>
<g transform="translate(452.6 86.9) rotate(-57.5)"><text x="-2.8" y="5.3" font-size="15.3" text-anchor="middle" textLength="17.2" lengthAdjust="spacingAndGlyphs">90</text><circle cx="10.3" cy="-3.0" r="1.4" fill="none" stroke="#000" stroke-width="0.8"/></g>
<g transform="translate(560.0 49.4) rotate(-57.5)"><text x="-2.8" y="5.3" font-size="15.3" text-anchor="middle" textLength="25.8" lengthAdjust="spacingAndGlyphs">180</text><circle cx="14.6" cy="-3.0" r="1.4" fill="none" stroke="#000" stroke-width="0.8"/></g>
<g transform="translate(576.3 163.4) rotate(-57.5)"><text x="-2.8" y="5.3" font-size="15.3" text-anchor="middle" textLength="27.8" lengthAdjust="spacingAndGlyphs">−90</text><circle cx="15.6" cy="-3.0" r="1.4" fill="none" stroke="#000" stroke-width="0.8"/></g>
<g transform="translate(462.7 200.5) rotate(-57.5)"><text x="-2.8" y="5.3" font-size="15.3" text-anchor="middle" textLength="8.2" lengthAdjust="spacingAndGlyphs">0</text><circle cx="5.8" cy="-3.0" r="1.4" fill="none" stroke="#000" stroke-width="0.8"/></g>
<clipPath id="clipd"><rect x="404.0" y="243.9" width="226.5" height="162.9"/></clipPath>
<g clip-path="url(#clipd)">
<path d="M508.9 408.7 L508.9 406.9 L508.9 405.0 L508.9 403.2 L508.9 401.4 L508.9 399.6 L509.0 397.8 L509.0 396.0 L509.0 394.2 L509.1 392.4 L509.1 390.6 L509.2 388.8 L509.2 386.9 L509.3 385.1 L509.3 383.3 L509.4 381.5 L509.5 379.7 L509.5 377.9 L509.6 376.1 L509.7 374.3 L509.7 372.5 L509.8 370.6 L509.9 368.8 L510.0 367.0 L510.0 365.2 L510.1 363.4 L510.2 361.6 L510.3 359.8 L510.3 358.0 L510.4 356.2 L510.5 354.4 L510.6 352.6 L510.6 350.7 L510.7 348.9 L510.7 347.1 L510.8 345.3 L510.8 343.5 L510.9 341.7 L510.9 339.9 L511.0 338.1 L511.0 336.3 L511.0 334.4 L511.1 332.6 L511.1 330.8 L511.1 329.0 L511.1 327.2 L511.1 325.4 L511.1 323.6 L511.1 321.8 L511.1 320.0 L511.1 318.2 L511.0 316.4 L511.0 314.5 L511.0 312.7 L510.9 310.9 L510.9 309.1 L510.8 307.3 L510.8 305.5 L510.7 303.7 L510.7 301.9 L510.6 300.1 L510.6 298.2 L510.5 296.4 L510.4 294.6 L510.3 292.8 L510.3 291.0 L510.2 289.2 L510.1 287.4 L510.0 285.6 L510.0 283.8 L509.9 282.0 L509.8 280.1 L509.7 278.3 L509.7 276.5 L509.6 274.7 L509.5 272.9 L509.5 271.1 L509.4 269.3 L509.3 267.5 L509.3 265.7 L509.2 263.9 L509.2 262.1 L509.1 260.2 L509.1 258.4 L509.0 256.6 L509.0 254.8 L509.0 253.0 L508.9 251.2 L508.9 249.4 L508.9 247.6 L508.9 245.8 L508.9 243.9 L508.9 242.1" fill="none" stroke="#0b1e3f" stroke-width="5.2"/>
<path d="M480.2 408.7 L480.1 406.9 L480.2 405.0 L480.6 403.2 L481.1 401.4 L481.9 399.6 L482.9 397.8 L484.1 396.0 L485.4 394.2 L487.0 392.4 L488.7 390.6 L490.5 388.8 L492.5 386.9 L494.5 385.1 L496.6 383.3 L498.7 381.5 L500.8 379.7 L502.7 377.9 L504.6 376.1 L506.2 374.3 L507.6 372.5 L508.7 370.6 L509.5 368.8 L509.9 367.0 L510.0 365.2 L509.7 363.4 L509.1 361.6 L508.1 359.8 L506.9 358.0 L505.4 356.2 L503.7 354.4 L501.9 352.6 L499.9 350.7 L498.0 348.9 L496.0 347.1 L494.1 345.3 L492.2 343.5 L490.5 341.7 L488.8 339.9 L487.4 338.1 L486.1 336.3 L484.9 334.4 L484.0 332.6 L483.3 330.8 L482.8 329.0 L482.4 327.2 L482.3 325.4 L482.4 323.6 L482.8 321.8 L483.3 320.0 L484.0 318.2 L484.9 316.4 L486.1 314.5 L487.4 312.7 L488.8 310.9 L490.5 309.1 L492.2 307.3 L494.1 305.5 L496.0 303.7 L498.0 301.9 L499.9 300.1 L501.9 298.2 L503.7 296.4 L505.4 294.6 L506.9 292.8 L508.1 291.0 L509.1 289.2 L509.7 287.4 L510.0 285.6 L509.9 283.8 L509.5 282.0 L508.7 280.1 L507.6 278.3 L506.2 276.5 L504.6 274.7 L502.7 272.9 L500.8 271.1 L498.7 269.3 L496.6 267.5 L494.5 265.7 L492.5 263.9 L490.5 262.1 L488.7 260.2 L487.0 258.4 L485.4 256.6 L484.1 254.8 L482.9 253.0 L481.9 251.2 L481.1 249.4 L480.6 247.6 L480.2 245.8 L480.1 243.9 L480.2 242.1" fill="none" stroke="#1a85f0" stroke-width="2.2" stroke-linejoin="round"/>
<path d="M542.9 408.7 L543.1 406.9 L542.9 405.0 L542.2 403.2 L541.2 401.4 L539.8 399.6 L538.1 397.8 L536.2 396.0 L534.0 394.2 L531.8 392.4 L529.4 390.6 L527.0 388.8 L524.7 386.9 L522.4 385.1 L520.3 383.3 L518.3 381.5 L516.5 379.7 L514.8 377.9 L513.4 376.1 L512.2 374.3 L511.3 372.5 L510.6 370.6 L510.2 368.8 L510.0 367.0 L510.1 365.2 L510.4 363.4 L511.0 361.6 L511.8 359.8 L512.9 358.0 L514.2 356.2 L515.8 354.4 L517.6 352.6 L519.5 350.7 L521.6 348.9 L523.9 347.1 L526.3 345.3 L528.7 343.5 L531.2 341.7 L533.6 339.9 L536.0 338.1 L538.2 336.3 L540.2 334.4 L541.9 332.6 L543.4 330.8 L544.4 329.0 L545.1 327.2 L545.3 325.4 L545.1 323.6 L544.4 321.8 L543.4 320.0 L541.9 318.2 L540.2 316.4 L538.2 314.5 L536.0 312.7 L533.6 310.9 L531.2 309.1 L528.7 307.3 L526.3 305.5 L523.9 303.7 L521.6 301.9 L519.5 300.1 L517.6 298.2 L515.8 296.4 L514.2 294.6 L512.9 292.8 L511.8 291.0 L511.0 289.2 L510.4 287.4 L510.1 285.6 L510.0 283.8 L510.2 282.0 L510.6 280.1 L511.3 278.3 L512.2 276.5 L513.4 274.7 L514.8 272.9 L516.5 271.1 L518.3 269.3 L520.3 267.5 L522.4 265.7 L524.7 263.9 L527.0 262.1 L529.4 260.2 L531.8 258.4 L534.0 256.6 L536.2 254.8 L538.1 253.0 L539.8 251.2 L541.2 249.4 L542.2 247.6 L542.9 245.8 L543.1 243.9 L542.9 242.1" fill="none" stroke="#e8408f" stroke-width="3.2" stroke-linejoin="round"/>
</g>
<rect x="404.0" y="243.9" width="226.5" height="162.9" fill="none" stroke="#000" stroke-width="1.2"/>
<line x1="398.8" x2="404.0" y1="243.9" y2="243.9" stroke="#000" stroke-width="1.2"/>
<text x="393.3" y="249.4" font-size="13.90" text-anchor="end" fill="#000" textLength="25.6" lengthAdjust="spacingAndGlyphs">180</text>
<line x1="398.8" x2="404.0" y1="284.7" y2="284.7" stroke="#000" stroke-width="1.2"/>
<text x="393.3" y="290.2" font-size="13.90" text-anchor="end" fill="#000" textLength="16.6" lengthAdjust="spacingAndGlyphs">90</text>
<line x1="398.8" x2="404.0" y1="325.4" y2="325.4" stroke="#000" stroke-width="1.2"/>
<text x="393.3" y="330.9" font-size="13.90" text-anchor="end" fill="#000" textLength="7.6" lengthAdjust="spacingAndGlyphs">0</text>
<line x1="398.8" x2="404.0" y1="366.1" y2="366.1" stroke="#000" stroke-width="1.2"/>
<text x="393.3" y="371.6" font-size="13.90" text-anchor="end" fill="#000" textLength="28.2" lengthAdjust="spacingAndGlyphs">−90</text>
<line x1="398.8" x2="404.0" y1="406.9" y2="406.9" stroke="#000" stroke-width="1.2"/>
<text x="393.3" y="412.4" font-size="13.90" text-anchor="end" fill="#000" textLength="37.2" lengthAdjust="spacingAndGlyphs">−180</text>
<text transform="translate(346.9 325.4) rotate(-90)" font-size="13.9" text-anchor="middle" textLength="147.5" lengthAdjust="spacingAndGlyphs">Azimuthal angle (deg)</text>
<text x="517.5" y="423.3" font-size="13.90" text-anchor="middle" fill="#000" textLength="45.2" lengthAdjust="spacingAndGlyphs">Radius</text>
</g>
</svg>
</body></html>
